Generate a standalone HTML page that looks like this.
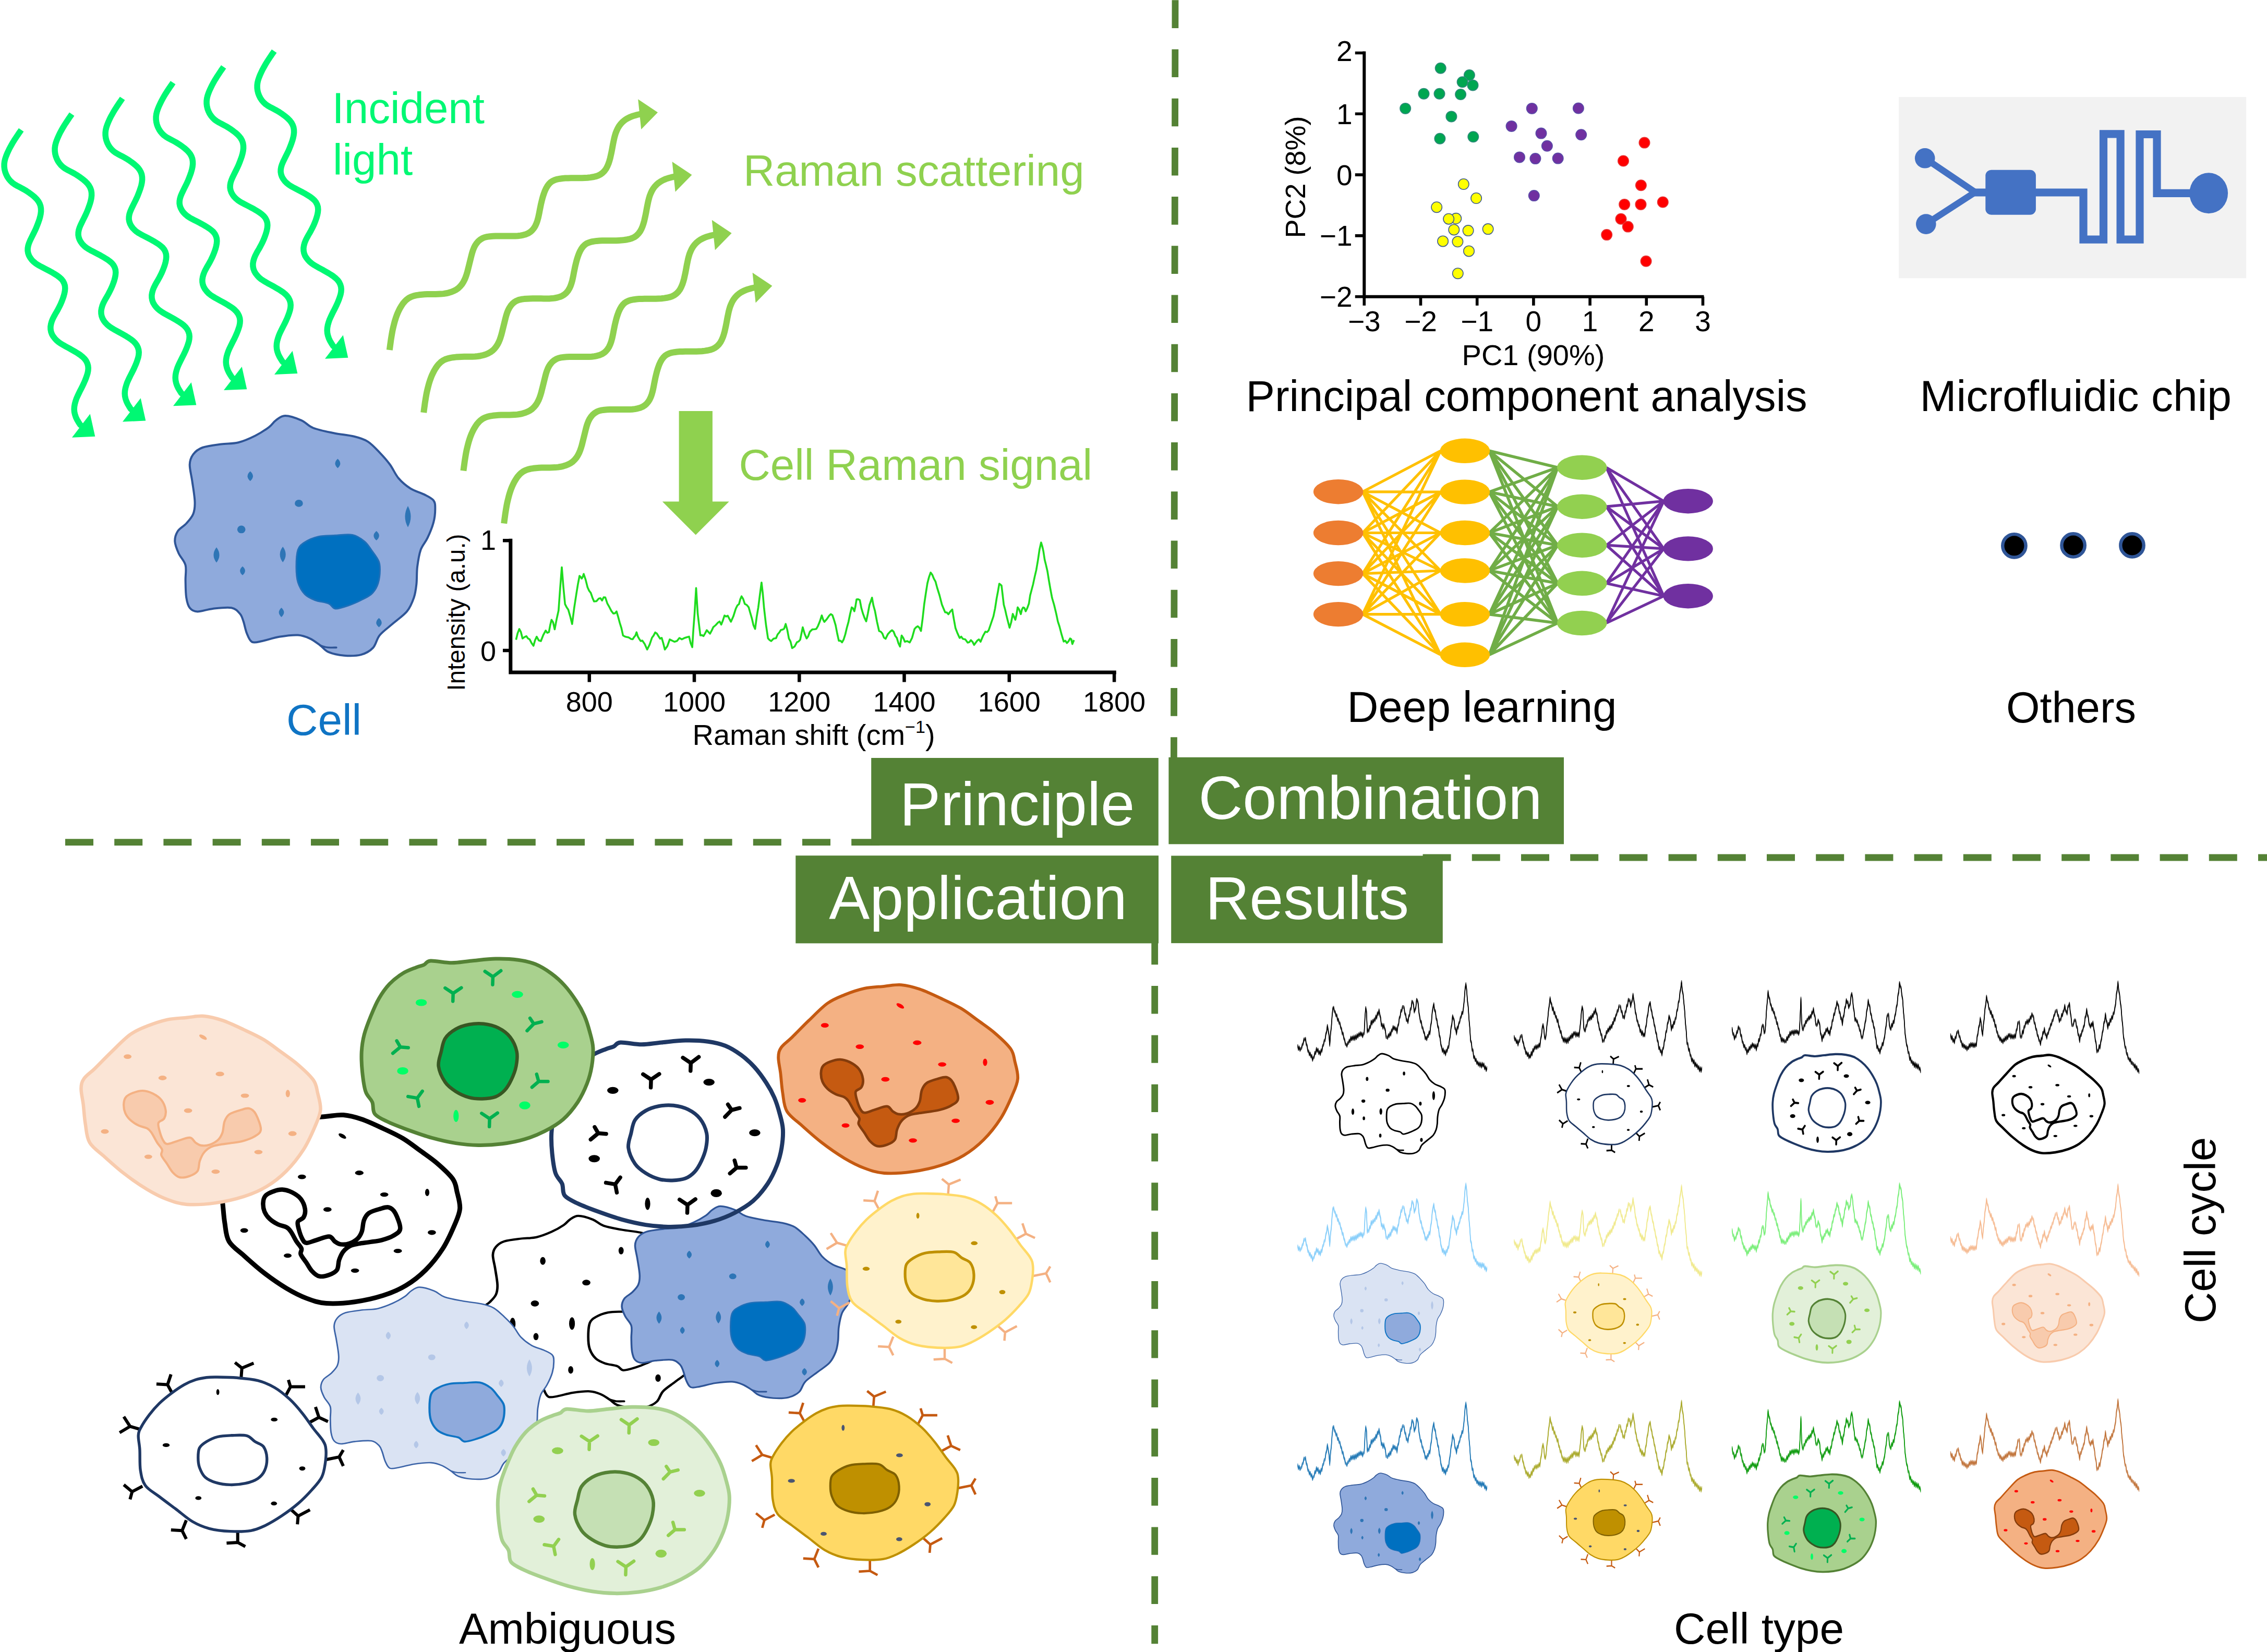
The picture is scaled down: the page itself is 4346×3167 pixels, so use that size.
<!DOCTYPE html><html><head><meta charset="utf-8"><title>Raman cell figure</title>
<style>html,body{margin:0;padding:0;background:#fff}svg{display:block}text{font-family:"Liberation Sans", Arial, sans-serif}</style></head><body>
<svg width="4346" height="3167" viewBox="0 0 4346 3167">
<rect width="4346" height="3167" fill="#fff"/>
<g id="principle"><path d="M40.7 249L38.4 252.4L35.7 256.2L32.9 260.4L29.9 264.9L26.8 269.7L23.8 274.6L21 279.6L18.3 284.5L15.9 289.5L13.6 294.5L11.6 299.5L9.9 304.5L8.7 309.5L8.1 314.5L8.1 319.5L8.7 324.5L9.9 329.5L11.7 334.3L14 338.9L16.8 343.1L20 346.9L23.6 350.3L27.6 353.2L32 355.8L36.6 358.2L41.2 360.6L45.8 363.1L50.3 365.8L54.7 368.7L59 371.8L63.2 375L67.1 378.4L70.6 382L73.6 385.9L76 390.2L77.7 394.9L78.5 399.9L78.6 405.1L78 410.4L76.9 415.6L75.4 420.9L73.6 426.1L71.6 431.4L69.5 436.7L67.2 441.8L64.7 446.9L62.2 451.9L59.8 456.8L57.5 461.6L55.5 466.4L54 471.2L53.2 476L53.1 480.6L53.9 485.2L55.5 489.7L57.8 493.9L60.7 497.9L64.2 501.5L68 504.7L72.2 507.5L76.6 510L81.2 512.4L85.9 514.8L90.7 517.3L95.6 519.9L100.4 522.6L105.2 525.5L109.8 528.4L114 531.6L117.8 535L120.8 538.8L123 543.1L124.4 547.7L124.8 552.6L124.4 557.6L123.4 562.8L122 568L120.2 573.2L118.2 578.4L116 583.5L113.6 588.4L111.1 593.2L108.5 597.9L105.8 602.4L103.3 607L101 611.6L99.1 616.4L97.7 621.4L96.9 626.4L97 631.4L97.9 636.2L99.6 640.8L102.1 645.1L105.2 649.1L108.7 652.8L112.6 656L116.9 658.9L121.4 661.6L126 664.2L130.8 666.8L135.6 669.4L140.5 672.2L145.3 675L149.9 677.9L154.4 680.9L158.5 684.2L162.1 687.8L165.1 691.8L167.3 696.2L168.7 700.8L169.2 705.6L168.9 710.4L168 715.2L166.5 720.1L164.8 725L162.8 730L160.6 735L158.3 739.9L155.8 744.8L153.3 749.7L150.9 754.6L148.6 759.4L146.5 764.3L144.8 769.4L143.4 774.4L142.5 779.5L142.2 784.6L142.6 789.7L143.7 794.7L145.4 799.7L147.7 804.6L150.5 809.3L153.5 814L158.5 818.5L158.5 818.5" fill="none" stroke="#00F873" stroke-width="11.5" stroke-linejoin="round"/><path d="M138 838.7L182.3 836.8L172.7 793.5Z" fill="#00F873"/><path d="M137.7 218.8L135.4 222.2L132.7 226L129.9 230.2L126.9 234.7L123.8 239.5L120.8 244.4L118 249.4L115.3 254.3L112.9 259.3L110.6 264.3L108.6 269.3L106.9 274.3L105.7 279.3L105.1 284.3L105.1 289.3L105.7 294.3L106.9 299.3L108.7 304.1L111 308.7L113.8 312.9L117 316.7L120.6 320.1L124.6 323L129 325.6L133.6 328L138.2 330.4L142.8 332.9L147.3 335.6L151.7 338.5L156 341.6L160.2 344.8L164.1 348.2L167.6 351.8L170.6 355.7L173 360L174.7 364.7L175.5 369.7L175.6 374.9L175 380.2L173.9 385.4L172.4 390.7L170.6 395.9L168.6 401.2L166.5 406.5L164.2 411.6L161.7 416.7L159.2 421.7L156.8 426.6L154.5 431.4L152.5 436.2L151 441L150.2 445.8L150.1 450.4L150.9 455L152.5 459.5L154.8 463.7L157.7 467.7L161.2 471.3L165 474.5L169.2 477.3L173.6 479.8L178.2 482.2L182.9 484.6L187.7 487.1L192.6 489.7L197.4 492.4L202.2 495.3L206.8 498.2L211 501.4L214.8 504.8L217.8 508.6L220 512.9L221.4 517.5L221.8 522.4L221.4 527.4L220.4 532.6L219 537.8L217.2 543L215.2 548.2L213 553.3L210.6 558.2L208.1 563L205.5 567.7L202.8 572.2L200.3 576.8L198 581.4L196.1 586.2L194.7 591.2L193.9 596.2L194 601.2L194.9 606L196.6 610.6L199.1 614.9L202.2 618.9L205.7 622.6L209.6 625.8L213.9 628.7L218.4 631.4L223 634L227.8 636.6L232.6 639.2L237.5 642L242.3 644.8L246.9 647.7L251.4 650.7L255.5 654L259.1 657.6L262.1 661.6L264.3 666L265.7 670.6L266.2 675.4L265.9 680.2L265 685L263.5 689.9L261.8 694.8L259.8 699.8L257.6 704.8L255.3 709.7L252.8 714.6L250.3 719.5L247.9 724.4L245.6 729.2L243.5 734.1L241.8 739.2L240.4 744.2L239.5 749.3L239.2 754.4L239.6 759.5L240.7 764.5L242.4 769.5L244.7 774.4L247.5 779.1L250.5 783.8L255.5 788.3L255.5 788.3" fill="none" stroke="#00F873" stroke-width="11.5" stroke-linejoin="round"/><path d="M235 808.5L279.3 806.6L269.7 763.3Z" fill="#00F873"/><path d="M234.7 188.6L232.4 192L229.7 195.8L226.9 200L223.9 204.5L220.8 209.3L217.8 214.2L215 219.2L212.3 224.1L209.9 229.1L207.6 234.1L205.6 239.1L203.9 244.1L202.7 249.1L202.1 254.1L202.1 259.1L202.7 264.1L203.9 269.1L205.7 273.9L208 278.5L210.8 282.7L214 286.5L217.6 289.9L221.6 292.8L226 295.4L230.6 297.8L235.2 300.2L239.8 302.7L244.3 305.4L248.7 308.3L253 311.4L257.2 314.6L261.1 318L264.6 321.6L267.6 325.5L270 329.8L271.7 334.5L272.5 339.5L272.6 344.7L272 350L270.9 355.2L269.4 360.5L267.6 365.7L265.6 371L263.5 376.3L261.2 381.4L258.7 386.5L256.2 391.5L253.8 396.4L251.5 401.2L249.5 406L248 410.8L247.2 415.6L247.1 420.2L247.9 424.8L249.5 429.3L251.8 433.5L254.7 437.5L258.2 441.1L262 444.3L266.2 447.1L270.6 449.6L275.2 452L279.9 454.4L284.7 456.9L289.6 459.5L294.4 462.2L299.2 465.1L303.8 468L308 471.2L311.8 474.6L314.8 478.4L317 482.7L318.4 487.3L318.8 492.2L318.4 497.2L317.4 502.4L316 507.6L314.2 512.8L312.2 518L310 523.1L307.6 528L305.1 532.8L302.5 537.5L299.8 542L297.3 546.6L295 551.2L293.1 556L291.7 561L290.9 566L291 571L291.9 575.8L293.6 580.4L296.1 584.7L299.2 588.7L302.7 592.4L306.6 595.6L310.9 598.5L315.4 601.2L320 603.8L324.8 606.4L329.6 609L334.5 611.8L339.3 614.6L343.9 617.5L348.4 620.5L352.5 623.8L356.1 627.4L359.1 631.4L361.3 635.8L362.7 640.4L363.2 645.2L362.9 650L362 654.8L360.5 659.7L358.8 664.6L356.8 669.6L354.6 674.6L352.3 679.5L349.8 684.4L347.3 689.3L344.9 694.2L342.6 699L340.5 703.9L338.8 709L337.4 714L336.5 719.1L336.2 724.2L336.6 729.3L337.7 734.3L339.4 739.3L341.7 744.2L344.5 748.9L347.5 753.6L352.5 758.1L352.5 758.1" fill="none" stroke="#00F873" stroke-width="11.5" stroke-linejoin="round"/><path d="M332 778.3L376.3 776.4L366.7 733.1Z" fill="#00F873"/><path d="M331.7 158.4L329.4 161.8L326.7 165.6L323.9 169.8L320.9 174.3L317.8 179.1L314.8 184L312 189L309.3 193.9L306.9 198.9L304.6 203.9L302.6 208.9L300.9 213.9L299.7 218.9L299.1 223.9L299.1 228.9L299.7 233.9L300.9 238.9L302.7 243.7L305 248.3L307.8 252.5L311 256.3L314.6 259.7L318.6 262.6L323 265.2L327.6 267.6L332.2 270L336.8 272.5L341.3 275.2L345.7 278.1L350 281.2L354.2 284.4L358.1 287.8L361.6 291.4L364.6 295.3L367 299.6L368.7 304.3L369.5 309.3L369.6 314.5L369 319.8L367.9 325L366.4 330.3L364.6 335.5L362.6 340.8L360.5 346.1L358.2 351.2L355.7 356.3L353.2 361.3L350.8 366.2L348.5 371L346.5 375.8L345 380.6L344.2 385.4L344.1 390L344.9 394.6L346.5 399.1L348.8 403.3L351.7 407.3L355.2 410.9L359 414.1L363.2 416.9L367.6 419.4L372.2 421.8L376.9 424.2L381.7 426.7L386.6 429.3L391.4 432L396.2 434.9L400.8 437.8L405 441L408.8 444.4L411.8 448.2L414 452.5L415.4 457.1L415.8 462L415.4 467L414.4 472.2L413 477.4L411.2 482.6L409.2 487.8L407 492.9L404.6 497.8L402.1 502.6L399.5 507.3L396.8 511.8L394.3 516.4L392 521L390.1 525.8L388.7 530.8L387.9 535.8L388 540.8L388.9 545.6L390.6 550.2L393.1 554.5L396.2 558.5L399.7 562.2L403.6 565.4L407.9 568.3L412.4 571L417 573.6L421.8 576.2L426.6 578.8L431.5 581.6L436.3 584.4L440.9 587.3L445.4 590.3L449.5 593.6L453.1 597.2L456.1 601.2L458.3 605.6L459.7 610.2L460.2 615L459.9 619.8L459 624.6L457.5 629.5L455.8 634.4L453.8 639.4L451.6 644.4L449.3 649.3L446.8 654.2L444.3 659.1L441.9 664L439.6 668.8L437.5 673.7L435.8 678.8L434.4 683.8L433.5 688.9L433.2 694L433.6 699.1L434.7 704.1L436.4 709.1L438.7 714L441.5 718.7L444.5 723.4L449.5 727.9L449.5 727.9" fill="none" stroke="#00F873" stroke-width="11.5" stroke-linejoin="round"/><path d="M429 748.1L473.3 746.2L463.7 702.9Z" fill="#00F873"/><path d="M428.7 128.2L426.4 131.6L423.7 135.4L420.9 139.6L417.9 144.1L414.8 148.9L411.8 153.8L409 158.8L406.3 163.7L403.9 168.7L401.6 173.7L399.6 178.7L397.9 183.7L396.7 188.7L396.1 193.7L396.1 198.7L396.7 203.7L397.9 208.7L399.7 213.5L402 218.1L404.8 222.3L408 226.1L411.6 229.5L415.6 232.4L420 235L424.6 237.4L429.2 239.8L433.8 242.3L438.3 245L442.7 247.9L447 251L451.2 254.2L455.1 257.6L458.6 261.2L461.6 265.1L464 269.4L465.7 274.1L466.5 279.1L466.6 284.3L466 289.6L464.9 294.8L463.4 300.1L461.6 305.3L459.6 310.6L457.5 315.9L455.2 321L452.7 326.1L450.2 331.1L447.8 336L445.5 340.8L443.5 345.6L442 350.4L441.2 355.2L441.1 359.8L441.9 364.4L443.5 368.9L445.8 373.1L448.7 377.1L452.2 380.7L456 383.9L460.2 386.7L464.6 389.2L469.2 391.6L473.9 394L478.7 396.5L483.6 399.1L488.4 401.8L493.2 404.7L497.8 407.6L502 410.8L505.8 414.2L508.8 418L511 422.3L512.4 426.9L512.8 431.8L512.4 436.8L511.4 442L510 447.2L508.2 452.4L506.2 457.6L504 462.7L501.6 467.6L499.1 472.4L496.5 477.1L493.8 481.6L491.3 486.2L489 490.8L487.1 495.6L485.7 500.6L484.9 505.6L485 510.6L485.9 515.4L487.6 520L490.1 524.3L493.2 528.3L496.7 532L500.6 535.2L504.9 538.1L509.4 540.8L514 543.4L518.8 546L523.6 548.6L528.5 551.4L533.3 554.2L537.9 557.1L542.4 560.1L546.5 563.4L550.1 567L553.1 571L555.3 575.4L556.7 580L557.2 584.8L556.9 589.6L556 594.4L554.5 599.3L552.8 604.2L550.8 609.2L548.6 614.2L546.3 619.1L543.8 624L541.3 628.9L538.9 633.8L536.6 638.6L534.5 643.5L532.8 648.6L531.4 653.6L530.5 658.7L530.2 663.8L530.6 668.9L531.7 673.9L533.4 678.9L535.7 683.8L538.5 688.5L541.5 693.2L546.5 697.7L546.5 697.7" fill="none" stroke="#00F873" stroke-width="11.5" stroke-linejoin="round"/><path d="M526 717.9L570.3 716L560.7 672.7Z" fill="#00F873"/><path d="M525.7 98L523.4 101.4L520.7 105.2L517.9 109.4L514.9 113.9L511.8 118.7L508.8 123.6L506 128.6L503.3 133.5L500.9 138.5L498.6 143.5L496.6 148.5L494.9 153.5L493.7 158.5L493.1 163.5L493.1 168.5L493.7 173.5L494.9 178.5L496.7 183.3L499 187.9L501.8 192.1L505 195.9L508.6 199.3L512.6 202.2L517 204.8L521.6 207.2L526.2 209.6L530.8 212.1L535.3 214.8L539.7 217.7L544 220.8L548.2 224L552.1 227.4L555.6 231L558.6 234.9L561 239.2L562.7 243.9L563.5 248.9L563.6 254.1L563 259.4L561.9 264.6L560.4 269.9L558.6 275.1L556.6 280.4L554.5 285.7L552.2 290.8L549.7 295.9L547.2 300.9L544.8 305.8L542.5 310.6L540.5 315.4L539 320.2L538.2 325L538.1 329.6L538.9 334.2L540.5 338.7L542.8 342.9L545.7 346.9L549.2 350.5L553 353.7L557.2 356.5L561.6 359L566.2 361.4L570.9 363.8L575.7 366.3L580.6 368.9L585.4 371.6L590.2 374.5L594.8 377.4L599 380.6L602.8 384L605.8 387.8L608 392.1L609.4 396.7L609.8 401.6L609.4 406.6L608.4 411.8L607 417L605.2 422.2L603.2 427.4L601 432.5L598.6 437.4L596.1 442.2L593.5 446.9L590.8 451.4L588.3 456L586 460.6L584.1 465.4L582.7 470.4L581.9 475.4L582 480.4L582.9 485.2L584.6 489.8L587.1 494.1L590.2 498.1L593.7 501.8L597.6 505L601.9 507.9L606.4 510.6L611 513.2L615.8 515.8L620.6 518.4L625.5 521.2L630.3 524L634.9 526.9L639.4 529.9L643.5 533.2L647.1 536.8L650.1 540.8L652.3 545.2L653.7 549.8L654.2 554.6L653.9 559.4L653 564.2L651.5 569.1L649.8 574L647.8 579L645.6 584L643.3 588.9L640.8 593.8L638.3 598.7L635.9 603.6L633.6 608.4L631.5 613.3L629.8 618.4L628.4 623.4L627.5 628.5L627.2 633.6L627.6 638.7L628.7 643.7L630.4 648.7L632.7 653.6L635.5 658.3L638.5 663L643.5 667.5L643.5 667.5" fill="none" stroke="#00F873" stroke-width="11.5" stroke-linejoin="round"/><path d="M623 687.7L667.3 685.8L657.7 642.5Z" fill="#00F873"/><path d="M746.8 671.1L747.3 667.2L747.9 662.6L748.6 657.7L749.3 652.4L750.2 646.8L751.1 641.2L752.1 635.6L753.2 630.2L754.5 624.9L755.8 619.7L757.2 614.6L758.8 609.6L760.5 604.8L762.4 600L764.6 595.3L767 590.6L769.7 586.1L772.7 581.7L776 577.8L779.6 574.3L783.6 571.4L788 569.1L792.8 567.4L797.9 566.2L803.2 565.3L808.6 564.7L813.9 564.3L819.2 564L824.5 563.9L829.7 563.9L834.9 563.9L840.1 563.8L845.2 563.6L850.4 563.1L855.5 562.3L860.7 561.1L865.7 559.6L870.4 557.6L874.8 555.2L878.8 552.3L882.4 548.8L885.6 544.9L888.4 540.6L890.7 536.1L892.7 531.3L894.4 526.4L895.9 521.4L897.2 516.3L898.5 511.1L899.8 505.9L901.1 500.6L902.4 495.4L903.7 490.1L905.1 484.9L906.7 479.9L908.6 475.1L910.9 470.6L913.7 466.3L916.9 462.5L920.7 459.3L924.8 456.8L929.3 455L934.1 453.9L939.3 453.2L944.6 452.8L950 452.5L955.5 452.4L960.9 452.4L966.3 452.4L971.7 452.4L977 452.5L982.3 452.6L987.6 452.5L992.7 452.2L997.9 451.6L1003 450.6L1007.9 449.2L1012.4 447.3L1016.6 444.7L1020.2 441.5L1023.4 437.7L1026.1 433.3L1028.3 428.5L1030.1 423.4L1031.6 418.2L1032.8 412.9L1033.9 407.5L1034.9 402.1L1036 396.7L1037.1 391.3L1038.4 385.9L1039.7 380.7L1041.2 375.5L1042.9 370.5L1044.7 365.7L1046.9 361L1049.4 356.7L1052.3 352.8L1055.6 349.5L1059.4 346.9L1063.7 345L1068.4 343.6L1073.4 342.7L1078.6 342L1083.8 341.6L1089.1 341.4L1094.3 341.3L1099.6 341.3L1105 341.3L1110.3 341.3L1115.6 341.3L1121 341L1126.3 340.7L1131.7 340.1L1136.9 339.3L1142 338.2L1146.7 336.6L1151.1 334.4L1155.2 331.4L1158.8 327.7L1161.9 323.5L1164.4 318.8L1166.5 313.8L1168.2 308.7L1169.7 303.4L1170.9 298L1172.1 292.6L1173.2 287.1L1174.2 281.6L1175.2 276.2L1176.3 270.9L1177.4 265.6L1178.7 260.5L1180.2 255.5L1182.1 250.7L1184.3 246L1186.9 241.6L1189.9 237.6L1193.4 233.9L1197.4 230.5L1201.8 227.6L1206.6 225.1L1211.6 223L1216.7 221.4L1221.6 220L1226.2 219L1230.2 218.6" fill="none" stroke="#8FD14F" stroke-width="12" stroke-linejoin="round"/><path d="M1229.2 247.9L1261 215.4L1223.2 190.2Z" fill="#8FD14F"/><path d="M812.2 791L812.7 787.1L813.3 782.5L814 777.6L814.7 772.3L815.6 766.7L816.5 761.1L817.5 755.5L818.6 750.1L819.9 744.8L821.2 739.6L822.6 734.5L824.2 729.5L825.9 724.7L827.8 719.9L830 715.2L832.4 710.5L835.1 706L838.1 701.6L841.4 697.7L845 694.2L849 691.3L853.4 689L858.2 687.3L863.3 686.1L868.6 685.2L874 684.6L879.3 684.2L884.6 683.9L889.9 683.8L895.1 683.8L900.3 683.8L905.5 683.7L910.6 683.5L915.8 683L920.9 682.2L926.1 681L931.1 679.5L935.8 677.5L940.2 675.1L944.2 672.2L947.8 668.7L951 664.8L953.8 660.5L956.1 656L958.1 651.2L959.8 646.3L961.3 641.3L962.6 636.2L963.9 631L965.2 625.8L966.5 620.5L967.8 615.3L969.1 610L970.5 604.8L972.1 599.8L974 595L976.3 590.5L979.1 586.2L982.3 582.4L986.1 579.2L990.2 576.7L994.7 574.9L999.5 573.8L1004.7 573.1L1010 572.7L1015.4 572.4L1020.9 572.3L1026.3 572.3L1031.7 572.3L1037.1 572.3L1042.4 572.4L1047.7 572.5L1053 572.4L1058.1 572.1L1063.3 571.5L1068.4 570.5L1073.3 569.1L1077.8 567.2L1082 564.6L1085.6 561.4L1088.8 557.6L1091.5 553.2L1093.7 548.4L1095.5 543.3L1097 538.1L1098.2 532.8L1099.3 527.4L1100.3 522L1101.4 516.6L1102.5 511.2L1103.8 505.8L1105.1 500.6L1106.6 495.4L1108.3 490.4L1110.1 485.6L1112.3 480.9L1114.8 476.6L1117.7 472.7L1121 469.4L1124.8 466.8L1129.1 464.9L1133.8 463.5L1138.8 462.6L1144 461.9L1149.2 461.5L1154.5 461.3L1159.7 461.2L1165 461.2L1170.4 461.2L1175.7 461.2L1181 461.2L1186.4 460.9L1191.7 460.6L1197.1 460L1202.3 459.2L1207.4 458.1L1212.1 456.5L1216.5 454.3L1220.6 451.3L1224.2 447.6L1227.3 443.4L1229.8 438.7L1231.9 433.7L1233.6 428.6L1235.1 423.3L1236.3 417.9L1237.5 412.5L1238.6 407L1239.6 401.5L1240.6 396.1L1241.7 390.8L1242.8 385.5L1244.1 380.4L1245.6 375.4L1247.5 370.6L1249.7 365.9L1252.3 361.5L1255.3 357.5L1258.8 353.8L1262.8 350.4L1267.2 347.5L1272 345L1277 342.9L1282.1 341.3L1287 339.9L1291.6 338.9L1295.6 338.5" fill="none" stroke="#8FD14F" stroke-width="12" stroke-linejoin="round"/><path d="M1294.6 367.8L1326.4 335.3L1288.6 310.1Z" fill="#8FD14F"/><path d="M888.4 902.6L888.9 898.7L889.5 894.1L890.2 889.2L890.9 883.9L891.8 878.3L892.7 872.7L893.7 867.1L894.8 861.7L896.1 856.4L897.4 851.2L898.8 846.1L900.4 841.1L902.1 836.3L904 831.5L906.2 826.8L908.6 822.1L911.3 817.6L914.3 813.2L917.6 809.3L921.2 805.8L925.2 802.9L929.6 800.6L934.4 798.9L939.5 797.7L944.8 796.8L950.2 796.2L955.5 795.8L960.8 795.5L966.1 795.4L971.3 795.4L976.5 795.4L981.7 795.3L986.8 795.1L992 794.6L997.1 793.8L1002.3 792.6L1007.3 791.1L1012 789.1L1016.4 786.7L1020.4 783.8L1024 780.3L1027.2 776.4L1030 772.1L1032.3 767.6L1034.3 762.8L1036 757.9L1037.5 752.9L1038.8 747.8L1040.1 742.6L1041.4 737.4L1042.7 732.1L1044 726.9L1045.3 721.6L1046.7 716.4L1048.3 711.4L1050.2 706.6L1052.5 702.1L1055.3 697.8L1058.5 694L1062.3 690.8L1066.4 688.3L1070.9 686.5L1075.7 685.4L1080.9 684.7L1086.2 684.3L1091.6 684L1097.1 683.9L1102.5 683.9L1107.9 683.9L1113.3 683.9L1118.6 684L1123.9 684.1L1129.2 684L1134.3 683.7L1139.5 683.1L1144.6 682.1L1149.5 680.7L1154 678.8L1158.2 676.2L1161.8 673L1165 669.2L1167.7 664.8L1169.9 660L1171.7 654.9L1173.2 649.7L1174.4 644.4L1175.5 639L1176.5 633.6L1177.6 628.2L1178.7 622.8L1180 617.4L1181.3 612.2L1182.8 607L1184.5 602L1186.3 597.2L1188.5 592.5L1191 588.2L1193.9 584.3L1197.2 581L1201 578.4L1205.3 576.5L1210 575.1L1215 574.2L1220.2 573.5L1225.4 573.1L1230.7 572.9L1235.9 572.8L1241.2 572.8L1246.6 572.8L1251.9 572.8L1257.2 572.8L1262.6 572.5L1267.9 572.2L1273.3 571.6L1278.5 570.8L1283.6 569.7L1288.3 568.1L1292.7 565.9L1296.8 562.9L1300.4 559.2L1303.5 555L1306 550.3L1308.1 545.3L1309.8 540.2L1311.3 534.9L1312.5 529.5L1313.7 524.1L1314.8 518.6L1315.8 513.1L1316.8 507.7L1317.9 502.4L1319 497.1L1320.3 492L1321.8 487L1323.7 482.2L1325.9 477.5L1328.5 473.1L1331.5 469.1L1335 465.4L1339 462L1343.4 459.1L1348.2 456.6L1353.2 454.5L1358.3 452.9L1363.2 451.5L1367.8 450.5L1371.8 450.1" fill="none" stroke="#8FD14F" stroke-width="12" stroke-linejoin="round"/><path d="M1370.8 479.4L1402.6 446.9L1364.8 421.7Z" fill="#8FD14F"/><path d="M966.2 1003.6L966.7 999.7L967.3 995.1L968 990.2L968.7 984.9L969.6 979.3L970.5 973.7L971.5 968.1L972.6 962.7L973.9 957.4L975.2 952.2L976.6 947.1L978.2 942.1L979.9 937.3L981.8 932.5L984 927.8L986.4 923.1L989.1 918.6L992.1 914.2L995.4 910.3L999 906.8L1003 903.9L1007.4 901.6L1012.2 899.9L1017.3 898.7L1022.6 897.8L1028 897.2L1033.3 896.8L1038.6 896.5L1043.9 896.4L1049.1 896.4L1054.3 896.4L1059.5 896.3L1064.6 896.1L1069.8 895.6L1074.9 894.8L1080.1 893.6L1085.1 892.1L1089.8 890.1L1094.2 887.7L1098.2 884.8L1101.8 881.3L1105 877.4L1107.8 873.1L1110.1 868.6L1112.1 863.8L1113.8 858.9L1115.3 853.9L1116.6 848.8L1117.9 843.6L1119.2 838.4L1120.5 833.1L1121.8 827.9L1123.1 822.6L1124.5 817.4L1126.1 812.4L1128 807.6L1130.3 803.1L1133.1 798.8L1136.3 795L1140.1 791.8L1144.2 789.3L1148.7 787.5L1153.5 786.4L1158.7 785.7L1164 785.3L1169.4 785L1174.9 784.9L1180.3 784.9L1185.7 784.9L1191.1 784.9L1196.4 785L1201.7 785.1L1207 785L1212.1 784.7L1217.3 784.1L1222.4 783.1L1227.3 781.7L1231.8 779.8L1236 777.2L1239.6 774L1242.8 770.2L1245.5 765.8L1247.7 761L1249.5 755.9L1251 750.7L1252.2 745.4L1253.3 740L1254.3 734.6L1255.4 729.2L1256.5 723.8L1257.8 718.4L1259.1 713.2L1260.6 708L1262.3 703L1264.1 698.2L1266.3 693.5L1268.8 689.2L1271.7 685.3L1275 682L1278.8 679.4L1283.1 677.5L1287.8 676.1L1292.8 675.2L1298 674.5L1303.2 674.1L1308.5 673.9L1313.7 673.8L1319 673.8L1324.4 673.8L1329.7 673.8L1335 673.8L1340.4 673.5L1345.7 673.2L1351.1 672.6L1356.3 671.8L1361.4 670.7L1366.1 669.1L1370.5 666.9L1374.6 663.9L1378.2 660.2L1381.3 656L1383.8 651.3L1385.9 646.3L1387.6 641.2L1389.1 635.9L1390.3 630.5L1391.5 625.1L1392.6 619.6L1393.6 614.1L1394.6 608.7L1395.7 603.4L1396.8 598.1L1398.1 593L1399.6 588L1401.5 583.2L1403.7 578.5L1406.3 574.1L1409.3 570.1L1412.8 566.4L1416.8 563L1421.2 560.1L1426 557.6L1431 555.5L1436.1 553.9L1441 552.5L1445.6 551.5L1449.6 551.1" fill="none" stroke="#8FD14F" stroke-width="12" stroke-linejoin="round"/><path d="M1448.6 580.4L1480.4 547.9L1442.6 522.7Z" fill="#8FD14F"/><text x="636.5" y="236" font-size="83.5" fill="#00F873" text-anchor="start">Incident</text><text x="638" y="335" font-size="83.5" fill="#00F873" text-anchor="start">light</text><text x="1425" y="355.5" font-size="83.4" fill="#8FD14F" text-anchor="start">Raman scattering</text><text x="1416.5" y="920" font-size="83.5" fill="#8FD14F" text-anchor="start">Cell Raman signal</text><text x="549" y="1409.3" font-size="83.7" fill="#0F74C4" text-anchor="start">Cell</text><path d="M1301.6 788H1365.9V961.5H1397.7L1333.7 1025.5L1269.8 961.5H1301.6Z" fill="#8FD14F"/><path d="M546.7 796.9C554.9 796.9 568.8 801.8 577.8 805.8C586.8 809.7 590.3 816.4 600.7 820.5C611 824.5 626.8 827.5 639.9 830.3C652.9 833 668.2 834.1 679.1 836.8C690 839.5 697.1 841.4 705.2 846.6C713.4 851.8 721 860.5 728.1 867.8C735.2 875.2 741.7 882.5 747.7 890.7C753.7 898.9 757.5 909.2 764.1 916.9C770.6 924.5 778.8 931.3 786.9 936.5C795.1 941.6 805.7 944.1 813.1 947.9C820.4 951.7 827.5 954.7 831 959.3C834.6 964 834.3 968.6 834.3 975.7C834.3 982.8 833.5 992.6 831 1001.8C828.6 1011.1 823.7 1022.5 819.6 1031.2C815.5 1040 809.8 1044.9 806.5 1054.1C803.3 1063.4 801.4 1075.9 800 1086.8C798.6 1097.7 799.5 1109.7 798.4 1119.5C797.3 1129.3 796.5 1136.9 793.5 1145.6C790.5 1154.3 786.9 1163.6 780.4 1171.8C773.9 1179.9 763 1187 754.2 1194.6C745.5 1202.3 734.6 1209.6 728.1 1217.5C721.6 1225.4 721 1235.8 715 1242C709 1248.3 701.4 1252.6 692.2 1255.1C682.9 1257.5 669.8 1257.5 659.5 1256.7C649.1 1255.9 637.7 1253.5 630.1 1250.2C622.4 1246.9 619.7 1241.5 613.7 1237.1C607.7 1232.8 601.2 1227.3 594.1 1224.1C587 1220.8 581 1218.1 571.2 1217.5C561.4 1217 546.7 1218.9 535.3 1220.8C523.9 1222.7 511.3 1227.3 502.6 1229C493.9 1230.6 487.9 1233 483 1230.6C478.1 1228.1 475.9 1220.8 473.2 1214.2C470.5 1207.7 468.8 1197.6 466.7 1191.4C464.5 1185.1 463.9 1181 460.1 1176.7C456.3 1172.3 452.5 1166.9 443.8 1165.2C435.1 1163.6 418.7 1165.7 407.8 1166.9C396.9 1168.1 385.8 1172.7 378.4 1172.4C371.1 1172.1 367.3 1169.7 363.7 1165.2C360.2 1160.8 358.6 1154.3 357.2 1145.6C355.8 1136.9 355.8 1123.3 355.6 1112.9C355.3 1102.6 357.7 1092.2 355.6 1083.5C353.4 1074.8 345.9 1068.3 342.5 1060.7C339.1 1053 335.6 1044.9 335.3 1037.8C335 1030.7 337.2 1023.9 340.8 1018.2C344.5 1012.5 352.3 1008.9 357.2 1003.5C362.1 998 367.5 992.3 370.3 985.5C373 978.7 373.8 973 373.5 962.6C373.3 952.3 370.3 935.4 368.6 923.4C367 911.4 363.5 899.4 363.7 890.7C364 882 366.2 876.6 370.3 871.1C374.3 865.7 379.2 861.3 388.2 858C397.2 854.8 412.7 853.1 424.2 851.5C435.6 849.9 446 851 456.9 848.2C467.8 845.5 479.7 840.1 489.5 835.2C499.3 830.3 509.2 823.7 515.7 818.8C522.2 813.9 523.6 809.4 528.8 805.8C533.9 802.1 538.6 796.9 546.7 796.9Z" fill="#8FAADC" stroke="#2F5597" stroke-width="4" stroke-linejoin="round"/><path d="M613.7 1237.1C615.9 1237.8 621.6 1240.3 626.8 1241C632 1241.8 641.8 1241.3 644.8 1241.4" fill="none" stroke="#2F5597" stroke-width="3.6" stroke-linecap="round"/><path d="M571.2 1054.1C574 1046.2 577.8 1043.7 584.3 1039.4C590.8 1035.2 600.7 1030.8 610.5 1028.6C620.3 1026.4 632.2 1026.9 643.1 1026.3C654 1025.8 666.6 1023.5 675.8 1025.4C685.1 1027.3 692.7 1033 698.7 1037.8C704.7 1042.6 707.1 1047.6 711.8 1054.1C716.4 1060.7 723.7 1069.4 726.5 1077C729.2 1084.6 728.6 1092.2 728.1 1099.9C727.6 1107.5 725.9 1116.2 723.2 1122.7C720.5 1129.3 716.9 1134.5 711.8 1139.1C706.6 1143.7 699.2 1147 692.2 1150.5C685.1 1154.1 677.5 1157.6 669.3 1160.3C661.1 1163.1 649.7 1167.4 643.1 1166.9C636.6 1166.3 636.6 1159.8 630.1 1157.1C623.5 1154.3 611.5 1153.5 603.9 1150.5C596.3 1147.5 589.8 1144.8 584.3 1139.1C578.9 1133.4 574 1124.9 571.2 1116.2C568.5 1107.5 568 1097.1 568 1086.8C568 1076.4 568.5 1062 571.2 1054.1Z" fill="#0070C0" stroke="#1F6FB8" stroke-width="3"/><path d="M479.7 903.6Q490.2 912.9 479.7 922.3Q469.3 912.9 479.7 903.6Z" fill="#2E75B6"/><path d="M647.4 879.4Q657.2 888.4 647.4 897.4Q637.6 888.4 647.4 879.4Z" fill="#2E75B6"/><ellipse cx="572.9" cy="964.9" rx="7.8" ry="6.9" fill="#2E75B6"/><ellipse cx="462.7" cy="1014.9" rx="7.8" ry="7.4" fill="#2E75B6"/><path d="M782 970Q793.1 990.4 782 1010.8Q770.9 990.4 782 970Z" fill="#2E75B6"/><path d="M721.6 1018Q732 1027 721.6 1036Q711.1 1027 721.6 1018Z" fill="#2E75B6"/><path d="M415 1049.2Q426.1 1063.9 415 1078.6Q403.9 1063.9 415 1049.2Z" fill="#2E75B6"/><path d="M542.2 1047.9Q553.3 1062.9 542.2 1078Q531 1062.9 542.2 1047.9Z" fill="#2E75B6"/><path d="M465 1085.8Q474.8 1094.3 465 1102.8Q455.2 1094.3 465 1085.8Z" fill="#2E75B6"/><path d="M539.5 1165.1Q549.3 1174.1 539.5 1183Q529.7 1174.1 539.5 1165.1Z" fill="#2E75B6"/><path d="M726.5 1184.7Q736.9 1193.7 726.5 1202.6Q716 1193.7 726.5 1184.7Z" fill="#2E75B6"/><path d="M989.3 1226.5L992.4 1213.8L995.5 1205.9L998.6 1211.7L1001.7 1224L1005.4 1221.4L1009.1 1219.5L1012.2 1224L1015.3 1225.6L1019 1232.7L1022.7 1238.1L1025.8 1227.2L1028.9 1220.6L1032.9 1227.8L1036.9 1229L1041.5 1217.4L1046.1 1208.9L1049.2 1213.2L1052.3 1211.8L1054.8 1198.5L1057.3 1188.3L1060.3 1193L1063.4 1206.5L1067.1 1187L1070.8 1170.4L1073.9 1127.1L1077 1087.5L1080.1 1125.8L1083.2 1158.1L1086.3 1164.3L1089.4 1168.8L1093.1 1181.4L1096.8 1196.3L1100.8 1165.3L1104.8 1139.2L1107.9 1120L1111 1104.1L1113.1 1106.1L1115.3 1109.1L1117.2 1105.7L1119 1100.3L1122.7 1111.4L1126.4 1126L1129.5 1132.7L1132.6 1136.7L1135.7 1145.7L1138.8 1153L1143.4 1152.5L1148 1147.4L1151.1 1146.8L1154.2 1151.3L1157.3 1145L1160.4 1145.3L1164.4 1157.2L1168.4 1164.2L1172.1 1171.4L1175.8 1176.2L1178.9 1175.7L1182 1172.2L1185.1 1182.8L1188.2 1194.2L1191.3 1204.1L1194.4 1218.3L1197.4 1220L1200.5 1221.1L1205.2 1222.1L1209.8 1225L1212.9 1225.5L1216 1220.8L1218.1 1218.3L1220.3 1212.1L1222.8 1220.1L1225.2 1224.4L1228.3 1228.9L1231.4 1228L1236 1234.8L1240.7 1245.2L1245.3 1235.9L1249.9 1222.5L1253 1218.4L1256.1 1212.4L1259.2 1214.5L1262.3 1219.5L1265.4 1224.3L1268.5 1222.8L1271.5 1233L1274.6 1245.2L1279.3 1238.9L1283.9 1225.8L1288.5 1228.2L1293.2 1230.3L1297.8 1228.8L1302.4 1223L1307.1 1225.6L1311.7 1223.3L1316.3 1221.8L1321 1220.4L1324 1232.8L1327.1 1240.7L1329.3 1206.1L1331.5 1176.6L1334.5 1127.4L1337.6 1176.8L1340.1 1197.6L1342.6 1218L1345.7 1217.6L1348.7 1219.4L1351.8 1214.1L1354.9 1208.1L1358 1211.4L1361.1 1214.8L1364.2 1209.2L1367.3 1202.4L1371.9 1198.5L1376.5 1193.6L1379.6 1191.5L1382.7 1197.3L1385.8 1189.5L1388.9 1180L1392 1181.9L1395.1 1180.4L1398.1 1186.2L1401.2 1191.9L1405.9 1181.6L1410.5 1167L1413.6 1160.7L1416.7 1158.2L1419.1 1149L1421.6 1143.2L1424.7 1148.2L1427.8 1157.6L1431.5 1159.7L1435.2 1164.1L1438.3 1175.1L1441.4 1185.5L1444.5 1198.8L1447.6 1205.7L1450.6 1182.9L1453.7 1164.5L1456.8 1140.1L1459.9 1116.7L1462.4 1138.5L1464.8 1166.3L1468.5 1198.1L1472.3 1223.8L1475.3 1226.9L1478.4 1228.9L1483.1 1224.2L1487.7 1223.5L1490.8 1216.1L1493.9 1212.6L1497 1207.7L1500 1207.1L1503.1 1205.5L1506.2 1196.2L1509.3 1207.6L1512.4 1224.1L1515.5 1229.9L1518.6 1242.5L1523.2 1239.6L1527.8 1231.2L1530.9 1229.9L1534 1226.3L1536.5 1214.4L1538.9 1202.6L1542.7 1215.6L1546.4 1224L1549.4 1219.7L1552.5 1211.1L1557.2 1206.6L1561.8 1206.3L1564.9 1205.7L1568 1200.3L1571.7 1191.2L1575.4 1179.8L1577.9 1187.6L1580.3 1192.2L1585 1187L1589.6 1180.3L1592.7 1177.4L1595.8 1179.3L1598.9 1188.4L1601.9 1198.5L1605 1214.5L1608.1 1228.4L1611.2 1228.2L1614.3 1231.4L1617.4 1225.8L1620.5 1216L1623.6 1202.9L1626.6 1192.2L1629.7 1177.2L1632.8 1164.4L1635.3 1166.3L1637.8 1171.8L1639.9 1162.5L1642.1 1149L1645.2 1148.8L1648.3 1150.3L1651.3 1165.8L1654.4 1176.4L1657.5 1184.9L1660.6 1191.2L1663.7 1176.5L1666.8 1159.8L1669.3 1152.8L1671.7 1145.8L1674.5 1161.1L1677.3 1170.9L1681.3 1192.1L1685.3 1209.9L1688.4 1210.9L1691.5 1214.4L1694.6 1222.4L1697.7 1224.6L1702.3 1215.4L1706.9 1210.5L1710 1208.2L1713.1 1210.9L1716.2 1219L1719.3 1222.9L1722.4 1233.3L1725.4 1239.6L1728.5 1218.2L1731.6 1222.9L1734.7 1230.3L1739.3 1229.1L1744 1231.7L1748.6 1222.6L1753.2 1205.9L1756.3 1202.5L1759.4 1200.5L1762.5 1203.4L1765.6 1209.6L1768.7 1186.1L1771.8 1158.2L1774.9 1137.3L1777.9 1118.3L1781 1106.3L1784.1 1097.6L1787.2 1101.8L1790.3 1109.4L1793.4 1114.8L1796.5 1126.4L1801.1 1141.1L1805.7 1159L1808.8 1166.5L1811.9 1173.9L1815 1174L1818.1 1177.6L1821.8 1172.4L1825.5 1168.4L1828.6 1187L1831.7 1204L1835.7 1214.3L1839.7 1223L1842.8 1220.5L1845.9 1224.8L1850.5 1225.7L1855.1 1231.9L1858.2 1231.1L1861.3 1227.2L1864.4 1230.4L1867.5 1236.3L1870.6 1232L1873.7 1227.9L1876.7 1225.8L1879.8 1230.3L1884.5 1219.1L1889.1 1210.9L1892.2 1211.9L1895.3 1208.5L1899.9 1195L1904.5 1181.5L1907.6 1166.6L1910.7 1146.6L1913.2 1133.6L1915.7 1119L1917.8 1120.6L1920 1122.6L1922.1 1140.2L1924.3 1159.2L1926.8 1168.2L1929.2 1178.9L1932.3 1191.4L1935.4 1203.4L1938.5 1193.1L1941.6 1176.9L1944.1 1182.7L1946.5 1188.2L1948.7 1178.5L1950.9 1164.2L1953.9 1168.8L1957 1177.4L1959.2 1168.4L1961.4 1164.5L1963.8 1165.4L1966.3 1171.9L1969.4 1165.7L1972.5 1157.2L1974.9 1141.2L1977.4 1131.9L1980.5 1120.1L1983.6 1105.5L1986.7 1092.3L1989.8 1074L1992.8 1053.7L1995.9 1040L1998.1 1047.2L2000.3 1057.2L2002.7 1073L2005.2 1082.9L2008 1095L2010.8 1112.6L2013.8 1129.9L2016.9 1146.3L2020.9 1160L2025 1177.1L2028 1191.5L2031.1 1200.9L2035.2 1216.6L2039.2 1229.9L2042.3 1228.3L2045.3 1232.7L2048.4 1229.4L2051.5 1224L2053.7 1225.5L2055.8 1234.7L2058.9 1227" fill="none" stroke="#1FDC1F" stroke-width="3.6" stroke-linejoin="round"/><path d="M978.8 1032.7V1289.1M975.3 1289.1H2139.8" fill="none" stroke="#000" stroke-width="7"/><path d="M964 1036.2H979M964 1247H979M1129.8 1289V1307.5M1331 1289V1307.5M1532.3 1289V1307.5M1733.5 1289V1307.5M1934.8 1289V1307.5M2136.1 1289V1307.5" fill="none" stroke="#000" stroke-width="6.5"/><text x="1129.8" y="1363.5" font-size="54" fill="#000" text-anchor="middle">800</text><text x="1331" y="1363.5" font-size="54" fill="#000" text-anchor="middle">1000</text><text x="1532.3" y="1363.5" font-size="54" fill="#000" text-anchor="middle">1200</text><text x="1733.5" y="1363.5" font-size="54" fill="#000" text-anchor="middle">1400</text><text x="1934.8" y="1363.5" font-size="54" fill="#000" text-anchor="middle">1600</text><text x="2136.1" y="1363.5" font-size="54" fill="#000" text-anchor="middle">1800</text><text x="951" y="1053.5" font-size="54" fill="#000" text-anchor="end">1</text><text x="951" y="1267" font-size="54" fill="#000" text-anchor="end">0</text><text font-size="56" text-anchor="middle" x="1560" y="1428">Raman shift (cm<tspan font-size="34" dy="-23">−1</tspan><tspan dy="23">)</tspan></text><text font-size="47.5" text-anchor="middle" transform="translate(890.5 1174) rotate(-90)">Intensity (a.u.)</text></g>
<g id="combination"><circle cx="2761.7" cy="130.7" r="10.2" fill="#00A651" stroke="#2E8B7A" stroke-width="1.6"/><circle cx="2816.9" cy="144" r="10.2" fill="#00A651" stroke="#2E8B7A" stroke-width="1.6"/><circle cx="2803.6" cy="157.2" r="10.2" fill="#00A651" stroke="#2E8B7A" stroke-width="1.6"/><circle cx="2823.5" cy="163.4" r="10.2" fill="#00A651" stroke="#2E8B7A" stroke-width="1.6"/><circle cx="2729.5" cy="179.7" r="10.2" fill="#00A651" stroke="#2E8B7A" stroke-width="1.6"/><circle cx="2759.5" cy="179.7" r="10.2" fill="#00A651" stroke="#2E8B7A" stroke-width="1.6"/><circle cx="2800.1" cy="181" r="10.2" fill="#00A651" stroke="#2E8B7A" stroke-width="1.6"/><circle cx="2694.2" cy="207.9" r="10.2" fill="#00A651" stroke="#2E8B7A" stroke-width="1.6"/><circle cx="2782.4" cy="223.4" r="10.2" fill="#00A651" stroke="#2E8B7A" stroke-width="1.6"/><circle cx="2760.4" cy="265.7" r="10.2" fill="#00A651" stroke="#2E8B7A" stroke-width="1.6"/><circle cx="2824.3" cy="262.2" r="10.2" fill="#00A651" stroke="#2E8B7A" stroke-width="1.6"/><circle cx="2936.8" cy="207.9" r="10.2" fill="#7030A0" stroke="#5B4BA8" stroke-width="1.6"/><circle cx="3025.9" cy="207.5" r="10.2" fill="#7030A0" stroke="#5B4BA8" stroke-width="1.6"/><circle cx="2897.6" cy="241.9" r="10.2" fill="#7030A0" stroke="#5B4BA8" stroke-width="1.6"/><circle cx="2954.5" cy="255.6" r="10.2" fill="#7030A0" stroke="#5B4BA8" stroke-width="1.6"/><circle cx="3031.2" cy="258.2" r="10.2" fill="#7030A0" stroke="#5B4BA8" stroke-width="1.6"/><circle cx="2965.9" cy="279.8" r="10.2" fill="#7030A0" stroke="#5B4BA8" stroke-width="1.6"/><circle cx="2913" cy="301.4" r="10.2" fill="#7030A0" stroke="#5B4BA8" stroke-width="1.6"/><circle cx="2943.4" cy="304.1" r="10.2" fill="#7030A0" stroke="#5B4BA8" stroke-width="1.6"/><circle cx="2986.7" cy="303.6" r="10.2" fill="#7030A0" stroke="#5B4BA8" stroke-width="1.6"/><circle cx="2940.8" cy="375.1" r="10.2" fill="#7030A0" stroke="#5B4BA8" stroke-width="1.6"/><circle cx="3152.5" cy="273.6" r="10.2" fill="#FF0000" stroke="#E83030" stroke-width="1.6"/><circle cx="3112" cy="308.5" r="10.2" fill="#FF0000" stroke="#E83030" stroke-width="1.6"/><circle cx="3145.9" cy="355.2" r="10.2" fill="#FF0000" stroke="#E83030" stroke-width="1.6"/><circle cx="3187.8" cy="387.5" r="10.2" fill="#FF0000" stroke="#E83030" stroke-width="1.6"/><circle cx="3114.2" cy="391.9" r="10.2" fill="#FF0000" stroke="#E83030" stroke-width="1.6"/><circle cx="3145.5" cy="391.9" r="10.2" fill="#FF0000" stroke="#E83030" stroke-width="1.6"/><circle cx="3107.5" cy="419.7" r="10.2" fill="#FF0000" stroke="#E83030" stroke-width="1.6"/><circle cx="3120.8" cy="434.6" r="10.2" fill="#FF0000" stroke="#E83030" stroke-width="1.6"/><circle cx="3080.2" cy="450.1" r="10.2" fill="#FF0000" stroke="#E83030" stroke-width="1.6"/><circle cx="3155.6" cy="500.8" r="10.2" fill="#FF0000" stroke="#E83030" stroke-width="1.6"/><circle cx="2805.8" cy="353" r="10.2" fill="#FFFF00" stroke="#44608A" stroke-width="1.6"/><circle cx="2830.1" cy="380" r="10.2" fill="#FFFF00" stroke="#44608A" stroke-width="1.6"/><circle cx="2754.2" cy="397.2" r="10.2" fill="#FFFF00" stroke="#44608A" stroke-width="1.6"/><circle cx="2791.3" cy="418.8" r="10.2" fill="#FFFF00" stroke="#44608A" stroke-width="1.6"/><circle cx="2777.2" cy="419.7" r="10.2" fill="#FFFF00" stroke="#44608A" stroke-width="1.6"/><circle cx="2787.3" cy="440.4" r="10.2" fill="#FFFF00" stroke="#44608A" stroke-width="1.6"/><circle cx="2814.6" cy="442.1" r="10.2" fill="#FFFF00" stroke="#44608A" stroke-width="1.6"/><circle cx="2852.6" cy="439.1" r="10.2" fill="#FFFF00" stroke="#44608A" stroke-width="1.6"/><circle cx="2766.1" cy="462.4" r="10.2" fill="#FFFF00" stroke="#44608A" stroke-width="1.6"/><circle cx="2794.4" cy="463.3" r="10.2" fill="#FFFF00" stroke="#44608A" stroke-width="1.6"/><circle cx="2816" cy="481.4" r="10.2" fill="#FFFF00" stroke="#44608A" stroke-width="1.6"/><circle cx="2794.8" cy="524.2" r="10.2" fill="#FFFF00" stroke="#44608A" stroke-width="1.6"/><path d="M2615.3 98.5V568.7M2612.3 568.7H3266.5" fill="none" stroke="#000" stroke-width="6"/><path d="M2615.3 568.7V585.7M2723.5 568.7V585.7M2831.7 568.7V585.7M2939.9 568.7V585.7M3048.1 568.7V585.7M3156.3 568.7V585.7M3264.5 568.7V585.7M2597.8 568.7H2615.3M2597.8 451.9H2615.3M2597.8 335.1H2615.3M2597.8 218.3H2615.3M2597.8 101.5H2615.3" fill="none" stroke="#000" stroke-width="5.6"/><text x="2615.3" y="634.7" font-size="55" fill="#000" text-anchor="middle">−3</text><text x="2723.5" y="634.7" font-size="55" fill="#000" text-anchor="middle">−2</text><text x="2831.7" y="634.7" font-size="55" fill="#000" text-anchor="middle">−1</text><text x="2939.9" y="634.7" font-size="55" fill="#000" text-anchor="middle">0</text><text x="3048.1" y="634.7" font-size="55" fill="#000" text-anchor="middle">1</text><text x="3156.3" y="634.7" font-size="55" fill="#000" text-anchor="middle">2</text><text x="3264.5" y="634.7" font-size="55" fill="#000" text-anchor="middle">3</text><text x="2592.5" y="588.2" font-size="55" fill="#000" text-anchor="end">−2</text><text x="2592.5" y="471.4" font-size="55" fill="#000" text-anchor="end">−1</text><text x="2592.5" y="354.6" font-size="55" fill="#000" text-anchor="end">0</text><text x="2592.5" y="237.8" font-size="55" fill="#000" text-anchor="end">1</text><text x="2592.5" y="117" font-size="55" fill="#000" text-anchor="end">2</text><text x="2939.5" y="700" font-size="56" fill="#000" text-anchor="middle">PC1 (90%)</text><text font-size="54" text-anchor="middle" transform="translate(2501.5 339.5) rotate(-90)">PC2 (8%)</text><text x="2388.5" y="787.5" font-size="83.1" fill="#000" text-anchor="start">Principal component analysis</text><rect x="3640.2" y="186" width="666" height="347.4" fill="#F2F2F2"/><path d="M3690.2 303.3L3786.4 368.5M3692.3 429.6L3786.4 368.5" fill="none" stroke="#4472C4" stroke-width="12.5"/><circle cx="3690.2" cy="303.3" r="19.3" fill="#4472C4"/><circle cx="3692.3" cy="429.6" r="19.3" fill="#4472C4"/><path d="M3775 369H3994V459.2H4032.5V256.8H4065.1V459.2H4102V257.5H4135V370.3H4205" fill="none" stroke="#4472C4" stroke-width="15.2" stroke-linejoin="miter"/><rect x="3806.3" y="325.8" width="96.6" height="86" rx="11" fill="#4472C4"/><ellipse cx="4234.2" cy="370.3" rx="36.9" ry="39" fill="#4472C4"/><text x="3680.5" y="787.5" font-size="84" fill="#000" text-anchor="start">Microfluidic chip</text><path d="M2612.3 942.7L2761.7 864.3M2612.3 942.7L2761.7 943.1M2612.3 942.7L2761.7 1021.5M2612.3 942.7L2761.7 1094M2612.3 942.7L2761.7 1177.6M2612.3 942.7L2761.7 1255.3M2612.3 1021.5L2761.7 864.3M2612.3 1021.5L2761.7 943.1M2612.3 1021.5L2761.7 1021.5M2612.3 1021.5L2761.7 1094M2612.3 1021.5L2761.7 1177.6M2612.3 1021.5L2761.7 1255.3M2612.3 1099.6L2761.7 864.3M2612.3 1099.6L2761.7 943.1M2612.3 1099.6L2761.7 1021.5M2612.3 1099.6L2761.7 1094M2612.3 1099.6L2761.7 1177.6M2612.3 1099.6L2761.7 1255.3M2612.3 1177.6L2761.7 864.3M2612.3 1177.6L2761.7 943.1M2612.3 1177.6L2761.7 1021.5M2612.3 1177.6L2761.7 1094M2612.3 1177.6L2761.7 1177.6M2612.3 1177.6L2761.7 1255.3" fill="none" stroke="#FFC000" stroke-width="5.2"/><path d="M2855.1 864.3L2986.1 896.2M2855.1 864.3L2986.1 971.2M2855.1 864.3L2986.1 1045.2M2855.1 864.3L2986.1 1118.3M2855.1 864.3L2986.1 1194.5M2855.1 943.1L2986.1 896.2M2855.1 943.1L2986.1 971.2M2855.1 943.1L2986.1 1045.2M2855.1 943.1L2986.1 1118.3M2855.1 943.1L2986.1 1194.5M2855.1 1021.5L2986.1 896.2M2855.1 1021.5L2986.1 971.2M2855.1 1021.5L2986.1 1045.2M2855.1 1021.5L2986.1 1118.3M2855.1 1021.5L2986.1 1194.5M2855.1 1094L2986.1 896.2M2855.1 1094L2986.1 971.2M2855.1 1094L2986.1 1045.2M2855.1 1094L2986.1 1118.3M2855.1 1094L2986.1 1194.5M2855.1 1177.6L2986.1 896.2M2855.1 1177.6L2986.1 971.2M2855.1 1177.6L2986.1 1045.2M2855.1 1177.6L2986.1 1118.3M2855.1 1177.6L2986.1 1194.5M2855.1 1255.3L2986.1 896.2M2855.1 1255.3L2986.1 971.2M2855.1 1255.3L2986.1 1045.2M2855.1 1255.3L2986.1 1118.3M2855.1 1255.3L2986.1 1194.5" fill="none" stroke="#70AD47" stroke-width="5.6"/><path d="M3079.5 896.2L3189.5 960.7M3079.5 896.2L3189.5 1051.9M3079.5 896.2L3189.5 1142.7M3079.5 971.2L3189.5 960.7M3079.5 971.2L3189.5 1051.9M3079.5 971.2L3189.5 1142.7M3079.5 1045.2L3189.5 960.7M3079.5 1045.2L3189.5 1051.9M3079.5 1045.2L3189.5 1142.7M3079.5 1118.3L3189.5 960.7M3079.5 1118.3L3189.5 1051.9M3079.5 1118.3L3189.5 1142.7M3079.5 1194.5L3189.5 960.7M3079.5 1194.5L3189.5 1051.9M3079.5 1194.5L3189.5 1142.7" fill="none" stroke="#7030A0" stroke-width="5.2"/><ellipse cx="2565.6" cy="942.7" rx="47.7" ry="23.7" fill="#ED7D31"/><ellipse cx="2565.6" cy="1021.5" rx="47.7" ry="23.7" fill="#ED7D31"/><ellipse cx="2565.6" cy="1099.6" rx="47.7" ry="23.7" fill="#ED7D31"/><ellipse cx="2565.6" cy="1177.6" rx="47.7" ry="23.7" fill="#ED7D31"/><ellipse cx="2808.4" cy="864.3" rx="47.7" ry="23.7" fill="#FFC000"/><ellipse cx="2808.4" cy="943.1" rx="47.7" ry="23.7" fill="#FFC000"/><ellipse cx="2808.4" cy="1021.5" rx="47.7" ry="23.7" fill="#FFC000"/><ellipse cx="2808.4" cy="1094" rx="47.7" ry="23.7" fill="#FFC000"/><ellipse cx="2808.4" cy="1177.6" rx="47.7" ry="23.7" fill="#FFC000"/><ellipse cx="2808.4" cy="1255.3" rx="47.7" ry="23.7" fill="#FFC000"/><ellipse cx="3032.8" cy="896.2" rx="47.7" ry="23.7" fill="#92D050"/><ellipse cx="3032.8" cy="971.2" rx="47.7" ry="23.7" fill="#92D050"/><ellipse cx="3032.8" cy="1045.2" rx="47.7" ry="23.7" fill="#92D050"/><ellipse cx="3032.8" cy="1118.3" rx="47.7" ry="23.7" fill="#92D050"/><ellipse cx="3032.8" cy="1194.5" rx="47.7" ry="23.7" fill="#92D050"/><ellipse cx="3236.2" cy="960.7" rx="47.7" ry="23.7" fill="#7030A0"/><ellipse cx="3236.2" cy="1051.9" rx="47.7" ry="23.7" fill="#7030A0"/><ellipse cx="3236.2" cy="1142.7" rx="47.7" ry="23.7" fill="#7030A0"/><text x="2582.5" y="1384" font-size="83" fill="#000" text-anchor="start">Deep learning</text><circle cx="3861.4" cy="1046.3" r="22.2" fill="#000" stroke="#2F5597" stroke-width="6.4"/><circle cx="3974.6" cy="1045.4" r="22.2" fill="#000" stroke="#2F5597" stroke-width="6.4"/><circle cx="4087.5" cy="1045.4" r="22.2" fill="#000" stroke="#2F5597" stroke-width="6.4"/><text x="3846" y="1385" font-size="83" fill="#000" text-anchor="start">Others</text></g>
<g id="application"><g transform="translate(-1069.5 249.5)"><path d="M1727.8 1888.1C1739.1 1889 1750.5 1892 1763.2 1896.3C1775.9 1900.6 1790.9 1907.9 1804 1914C1817.2 1920.1 1830.4 1926 1842.2 1933.1C1854 1940.1 1863.9 1948.3 1874.8 1956.2C1885.7 1964.2 1897.1 1971.6 1907.5 1980.7C1918 1989.8 1931.1 2001.6 1937.5 2010.7C1943.8 2019.8 1943.4 2025.7 1945.6 2035.2C1947.9 2044.7 1952 2057 1951.1 2067.9C1950.2 2078.8 1945.6 2087.8 1940.2 2100.5C1934.7 2113.3 1927.5 2130 1918.4 2144.1C1909.3 2158.2 1897.5 2173.2 1885.7 2185C1873.9 2196.8 1861.2 2206.8 1847.6 2214.9C1834 2223.1 1820.4 2228.8 1804 2234C1787.7 2239.2 1767.7 2243.7 1749.6 2246.2C1731.4 2248.7 1710.5 2250.1 1695.1 2249C1679.7 2247.8 1669.7 2244.2 1657 2239.4C1644.3 2234.7 1632.5 2228.5 1618.8 2220.4C1605.2 2212.2 1588.9 2200.9 1575.3 2190.4C1561.7 2180 1548.3 2167.7 1537.1 2157.7C1526 2147.7 1514.7 2140.9 1508.6 2130.5C1502.4 2120.1 1502.4 2107.4 1500.4 2095.1C1498.3 2082.8 1497.7 2068.3 1496.3 2057C1494.9 2045.6 1492 2035.2 1492.2 2027C1492.4 2018.8 1493.3 2014.3 1497.7 2008C1502 2001.6 1509.2 1997.5 1518.1 1988.9C1526.9 1980.3 1539.4 1967.1 1550.8 1956.2C1562.1 1945.3 1574.8 1931.7 1586.2 1923.5C1597.5 1915.4 1607 1912 1618.8 1907.2C1630.6 1902.4 1644.3 1897.7 1657 1894.9C1669.7 1892.2 1683.3 1892 1695.1 1890.8C1706.9 1889.7 1716.4 1887.2 1727.8 1888.1Z" fill="none" stroke="#000" stroke-width="9"/><path d="M1573.9 2057C1574.1 2052 1575 2047 1578 2043.4C1580.9 2039.7 1586.2 2037.2 1591.6 2035.2C1597.1 2033.1 1604.3 2030.9 1610.7 2031.1C1617 2031.3 1623.8 2033.6 1629.7 2036.5C1635.6 2039.5 1642 2043.6 1646.1 2048.8C1650.2 2054 1653.3 2062 1654.2 2067.9C1655.2 2073.8 1653.8 2080.1 1651.5 2084.2C1649.3 2088.3 1642.2 2088.7 1640.6 2092.4C1639 2096 1640.6 2100.5 1642 2106C1643.4 2111.4 1646.3 2120.5 1648.8 2125.1C1651.3 2129.6 1652.4 2132.8 1657 2133.2C1661.5 2133.7 1668.8 2129.8 1676 2127.8C1683.3 2125.7 1694.6 2120.5 1700.5 2121C1706.4 2121.4 1707.8 2128 1711.4 2130.5C1715.1 2133 1717.8 2135.3 1722.3 2135.9C1726.9 2136.6 1733.2 2136.4 1738.7 2134.6C1744.1 2132.8 1750.9 2128.9 1755 2125.1C1759.1 2121.2 1761.1 2117.3 1763.2 2111.4C1765.2 2105.5 1765 2095.6 1767.3 2089.7C1769.5 2083.8 1771.6 2079.7 1776.8 2076C1782 2072.4 1792.2 2069.7 1798.6 2067.9C1804.9 2066 1810.2 2063.8 1814.9 2065.1C1819.7 2066.5 1823.5 2069.2 1827.2 2076C1830.8 2082.8 1837.4 2098.7 1836.7 2106C1836 2113.3 1829 2116 1823.1 2119.6C1817.2 2123.2 1809 2125.7 1801.3 2127.8C1793.6 2129.8 1784.1 2130.7 1776.8 2131.9C1769.5 2133 1763.6 2133.5 1757.7 2134.6C1751.8 2135.7 1746.4 2136.2 1741.4 2138.7C1736.4 2141.2 1731.4 2145 1727.8 2149.6C1724.1 2154.1 1721.7 2160 1719.6 2165.9C1717.6 2171.8 1718.7 2180.2 1715.5 2185C1712.3 2189.7 1706.2 2192.5 1700.5 2194.5C1694.9 2196.5 1686.9 2198.4 1681.5 2197.2C1676 2196.1 1671.9 2192 1667.9 2187.7C1663.8 2183.4 1660.6 2176.8 1657 2171.4C1653.3 2165.9 1647.7 2159.5 1646.1 2155C1644.5 2150.5 1648.8 2148.2 1647.4 2144.1C1646.1 2140 1641.3 2135.9 1637.9 2130.5C1634.5 2125.1 1630.2 2116 1627 2111.4C1623.8 2106.9 1622.9 2105.5 1618.8 2103.3C1614.8 2101 1608 2100.5 1602.5 2097.8C1597.1 2095.1 1590.5 2091 1586.2 2086.9C1581.9 2082.8 1578.7 2078.3 1576.6 2073.3C1574.6 2068.3 1573.7 2062 1573.9 2057Z" fill="none" stroke="#000" stroke-width="8.5" stroke-linejoin="round"/><ellipse cx="1725.9" cy="1928.4" rx="8.2" ry="3.5" fill="#000" transform="rotate(30 1725.9 1928.4)"/><ellipse cx="1581.3" cy="1965.7" rx="7.5" ry="4.4" fill="#000"/><ellipse cx="1648.3" cy="2006.6" rx="7.9" ry="4.4" fill="#000"/><ellipse cx="1758.3" cy="1999" rx="8.2" ry="4.4" fill="#000"/><ellipse cx="1806.2" cy="2040.6" rx="7.9" ry="4.1" fill="#000"/><ellipse cx="1888.5" cy="2036.5" rx="4.1" ry="7.1" fill="#000"/><ellipse cx="1697.3" cy="2069.2" rx="7.9" ry="4.4" fill="#000"/><ellipse cx="1537.7" cy="2109.3" rx="7.5" ry="4.4" fill="#000"/><ellipse cx="1897.4" cy="2113.3" rx="7.9" ry="4.6" fill="#000"/><ellipse cx="1832.1" cy="2148.7" rx="7.9" ry="4.1" fill="#000"/><ellipse cx="1621" cy="2157.7" rx="7.5" ry="4.1" fill="#000"/><ellipse cx="1750.1" cy="2186.3" rx="7.9" ry="4.1" fill="#000"/></g><g transform="translate(-1336.7 59.9)"><path d="M1727.8 1888.1C1739.1 1889 1750.5 1892 1763.2 1896.3C1775.9 1900.6 1790.9 1907.9 1804 1914C1817.2 1920.1 1830.4 1926 1842.2 1933.1C1854 1940.1 1863.9 1948.3 1874.8 1956.2C1885.7 1964.2 1897.1 1971.6 1907.5 1980.7C1918 1989.8 1931.1 2001.6 1937.5 2010.7C1943.8 2019.8 1943.4 2025.7 1945.6 2035.2C1947.9 2044.7 1952 2057 1951.1 2067.9C1950.2 2078.8 1945.6 2087.8 1940.2 2100.5C1934.7 2113.3 1927.5 2130 1918.4 2144.1C1909.3 2158.2 1897.5 2173.2 1885.7 2185C1873.9 2196.8 1861.2 2206.8 1847.6 2214.9C1834 2223.1 1820.4 2228.8 1804 2234C1787.7 2239.2 1767.7 2243.7 1749.6 2246.2C1731.4 2248.7 1710.5 2250.1 1695.1 2249C1679.7 2247.8 1669.7 2244.2 1657 2239.4C1644.3 2234.7 1632.5 2228.5 1618.8 2220.4C1605.2 2212.2 1588.9 2200.9 1575.3 2190.4C1561.7 2180 1548.3 2167.7 1537.1 2157.7C1526 2147.7 1514.7 2140.9 1508.6 2130.5C1502.4 2120.1 1502.4 2107.4 1500.4 2095.1C1498.3 2082.8 1497.7 2068.3 1496.3 2057C1494.9 2045.6 1492 2035.2 1492.2 2027C1492.4 2018.8 1493.3 2014.3 1497.7 2008C1502 2001.6 1509.2 1997.5 1518.1 1988.9C1526.9 1980.3 1539.4 1967.1 1550.8 1956.2C1562.1 1945.3 1574.8 1931.7 1586.2 1923.5C1597.5 1915.4 1607 1912 1618.8 1907.2C1630.6 1902.4 1644.3 1897.7 1657 1894.9C1669.7 1892.2 1683.3 1892 1695.1 1890.8C1706.9 1889.7 1716.4 1887.2 1727.8 1888.1Z" fill="#FBE5D6" stroke="#F8CBAD" stroke-width="6.5"/><path d="M1573.9 2057C1574.1 2052 1575 2047 1578 2043.4C1580.9 2039.7 1586.2 2037.2 1591.6 2035.2C1597.1 2033.1 1604.3 2030.9 1610.7 2031.1C1617 2031.3 1623.8 2033.6 1629.7 2036.5C1635.6 2039.5 1642 2043.6 1646.1 2048.8C1650.2 2054 1653.3 2062 1654.2 2067.9C1655.2 2073.8 1653.8 2080.1 1651.5 2084.2C1649.3 2088.3 1642.2 2088.7 1640.6 2092.4C1639 2096 1640.6 2100.5 1642 2106C1643.4 2111.4 1646.3 2120.5 1648.8 2125.1C1651.3 2129.6 1652.4 2132.8 1657 2133.2C1661.5 2133.7 1668.8 2129.8 1676 2127.8C1683.3 2125.7 1694.6 2120.5 1700.5 2121C1706.4 2121.4 1707.8 2128 1711.4 2130.5C1715.1 2133 1717.8 2135.3 1722.3 2135.9C1726.9 2136.6 1733.2 2136.4 1738.7 2134.6C1744.1 2132.8 1750.9 2128.9 1755 2125.1C1759.1 2121.2 1761.1 2117.3 1763.2 2111.4C1765.2 2105.5 1765 2095.6 1767.3 2089.7C1769.5 2083.8 1771.6 2079.7 1776.8 2076C1782 2072.4 1792.2 2069.7 1798.6 2067.9C1804.9 2066 1810.2 2063.8 1814.9 2065.1C1819.7 2066.5 1823.5 2069.2 1827.2 2076C1830.8 2082.8 1837.4 2098.7 1836.7 2106C1836 2113.3 1829 2116 1823.1 2119.6C1817.2 2123.2 1809 2125.7 1801.3 2127.8C1793.6 2129.8 1784.1 2130.7 1776.8 2131.9C1769.5 2133 1763.6 2133.5 1757.7 2134.6C1751.8 2135.7 1746.4 2136.2 1741.4 2138.7C1736.4 2141.2 1731.4 2145 1727.8 2149.6C1724.1 2154.1 1721.7 2160 1719.6 2165.9C1717.6 2171.8 1718.7 2180.2 1715.5 2185C1712.3 2189.7 1706.2 2192.5 1700.5 2194.5C1694.9 2196.5 1686.9 2198.4 1681.5 2197.2C1676 2196.1 1671.9 2192 1667.9 2187.7C1663.8 2183.4 1660.6 2176.8 1657 2171.4C1653.3 2165.9 1647.7 2159.5 1646.1 2155C1644.5 2150.5 1648.8 2148.2 1647.4 2144.1C1646.1 2140 1641.3 2135.9 1637.9 2130.5C1634.5 2125.1 1630.2 2116 1627 2111.4C1623.8 2106.9 1622.9 2105.5 1618.8 2103.3C1614.8 2101 1608 2100.5 1602.5 2097.8C1597.1 2095.1 1590.5 2091 1586.2 2086.9C1581.9 2082.8 1578.7 2078.3 1576.6 2073.3C1574.6 2068.3 1573.7 2062 1573.9 2057Z" fill="#F8CBAD" stroke="#F4B183" stroke-width="4.2" stroke-linejoin="round"/><ellipse cx="1725.9" cy="1928.4" rx="8.2" ry="3.5" fill="#F4B183" transform="rotate(30 1725.9 1928.4)"/><ellipse cx="1581.3" cy="1965.7" rx="7.5" ry="4.4" fill="#F4B183"/><ellipse cx="1648.3" cy="2006.6" rx="7.9" ry="4.4" fill="#F4B183"/><ellipse cx="1758.3" cy="1999" rx="8.2" ry="4.4" fill="#F4B183"/><ellipse cx="1806.2" cy="2040.6" rx="7.9" ry="4.1" fill="#F4B183"/><ellipse cx="1888.5" cy="2036.5" rx="4.1" ry="7.1" fill="#F4B183"/><ellipse cx="1697.3" cy="2069.2" rx="7.9" ry="4.4" fill="#F4B183"/><ellipse cx="1537.7" cy="2109.3" rx="7.5" ry="4.4" fill="#F4B183"/><ellipse cx="1897.4" cy="2113.3" rx="7.9" ry="4.6" fill="#F4B183"/><ellipse cx="1832.1" cy="2148.7" rx="7.9" ry="4.1" fill="#F4B183"/><ellipse cx="1621" cy="2157.7" rx="7.5" ry="4.1" fill="#F4B183"/><ellipse cx="1750.1" cy="2186.3" rx="7.9" ry="4.1" fill="#F4B183"/></g><g transform="matrix(0.8950 0 0 0.8000 611.3 1686.9)"><g transform="translate(9 8)"><path d="M546.7 796.9C554.9 796.9 568.8 801.8 577.8 805.8C586.8 809.7 590.3 816.4 600.7 820.5C611 824.5 626.8 827.5 639.9 830.3C652.9 833 668.2 834.1 679.1 836.8C690 839.5 697.1 841.4 705.2 846.6C713.4 851.8 721 860.5 728.1 867.8C735.2 875.2 741.7 882.5 747.7 890.7C753.7 898.9 757.5 909.2 764.1 916.9C770.6 924.5 778.8 931.3 786.9 936.5C795.1 941.6 805.7 944.1 813.1 947.9C820.4 951.7 827.5 954.7 831 959.3C834.6 964 834.3 968.6 834.3 975.7C834.3 982.8 833.5 992.6 831 1001.8C828.6 1011.1 823.7 1022.5 819.6 1031.2C815.5 1040 809.8 1044.9 806.5 1054.1C803.3 1063.4 801.4 1075.9 800 1086.8C798.6 1097.7 799.5 1109.7 798.4 1119.5C797.3 1129.3 796.5 1136.9 793.5 1145.6C790.5 1154.3 786.9 1163.6 780.4 1171.8C773.9 1179.9 763 1187 754.2 1194.6C745.5 1202.3 734.6 1209.6 728.1 1217.5C721.6 1225.4 721 1235.8 715 1242C709 1248.3 701.4 1252.6 692.2 1255.1C682.9 1257.5 669.8 1257.5 659.5 1256.7C649.1 1255.9 637.7 1253.5 630.1 1250.2C622.4 1246.9 619.7 1241.5 613.7 1237.1C607.7 1232.8 601.2 1227.3 594.1 1224.1C587 1220.8 581 1218.1 571.2 1217.5C561.4 1217 546.7 1218.9 535.3 1220.8C523.9 1222.7 511.3 1227.3 502.6 1229C493.9 1230.6 487.9 1233 483 1230.6C478.1 1228.1 475.9 1220.8 473.2 1214.2C470.5 1207.7 468.8 1197.6 466.7 1191.4C464.5 1185.1 463.9 1181 460.1 1176.7C456.3 1172.3 452.5 1166.9 443.8 1165.2C435.1 1163.6 418.7 1165.7 407.8 1166.9C396.9 1168.1 385.8 1172.7 378.4 1172.4C371.1 1172.1 367.3 1169.7 363.7 1165.2C360.2 1160.8 358.6 1154.3 357.2 1145.6C355.8 1136.9 355.8 1123.3 355.6 1112.9C355.3 1102.6 357.7 1092.2 355.6 1083.5C353.4 1074.8 345.9 1068.3 342.5 1060.7C339.1 1053 335.6 1044.9 335.3 1037.8C335 1030.7 337.2 1023.9 340.8 1018.2C344.5 1012.5 352.3 1008.9 357.2 1003.5C362.1 998 367.5 992.3 370.3 985.5C373 978.7 373.8 973 373.5 962.6C373.3 952.3 370.3 935.4 368.6 923.4C367 911.4 363.5 899.4 363.7 890.7C364 882 366.2 876.6 370.3 871.1C374.3 865.7 379.2 861.3 388.2 858C397.2 854.8 412.7 853.1 424.2 851.5C435.6 849.9 446 851 456.9 848.2C467.8 845.5 479.7 840.1 489.5 835.2C499.3 830.3 509.2 823.7 515.7 818.8C522.2 813.9 523.6 809.4 528.8 805.8C533.9 802.1 538.6 796.9 546.7 796.9Z" fill="none" stroke="#000" stroke-width="5.3" stroke-linejoin="round"/><path d="M613.7 1237.1C615.9 1237.8 621.6 1240.3 626.8 1241C632 1241.8 641.8 1241.3 644.8 1241.4" fill="none" stroke="#000" stroke-width="4.8" stroke-linecap="round"/><path d="M571.2 1054.1C574 1046.2 577.8 1043.7 584.3 1039.4C590.8 1035.2 600.7 1030.8 610.5 1028.6C620.3 1026.4 632.2 1026.9 643.1 1026.3C654 1025.8 666.6 1023.5 675.8 1025.4C685.1 1027.3 692.7 1033 698.7 1037.8C704.7 1042.6 707.1 1047.6 711.8 1054.1C716.4 1060.7 723.7 1069.4 726.5 1077C729.2 1084.6 728.6 1092.2 728.1 1099.9C727.6 1107.5 725.9 1116.2 723.2 1122.7C720.5 1129.3 716.9 1134.5 711.8 1139.1C706.6 1143.7 699.2 1147 692.2 1150.5C685.1 1154.1 677.5 1157.6 669.3 1160.3C661.1 1163.1 649.7 1167.4 643.1 1166.9C636.6 1166.3 636.6 1159.8 630.1 1157.1C623.5 1154.3 611.5 1153.5 603.9 1150.5C596.3 1147.5 589.8 1144.8 584.3 1139.1C578.9 1133.4 574 1124.9 571.2 1116.2C568.5 1107.5 568 1097.1 568 1086.8C568 1076.4 568.5 1062 571.2 1054.1Z" fill="none" stroke="#000" stroke-width="5.3"/></g><ellipse cx="479.7" cy="912.9" rx="5.9" ry="9.3" fill="#000"/><ellipse cx="647.4" cy="888.4" rx="5.5" ry="9" fill="#000"/><ellipse cx="572.9" cy="964.9" rx="8.8" ry="6.9" fill="#000"/><ellipse cx="462.7" cy="1014.9" rx="8.8" ry="7.4" fill="#000"/><ellipse cx="782" cy="990.4" rx="6.2" ry="20.4" fill="#000"/><ellipse cx="721.6" cy="1027" rx="5.9" ry="9" fill="#000"/><ellipse cx="415" cy="1063.9" rx="6.2" ry="14.7" fill="#000"/><ellipse cx="542.2" cy="1062.9" rx="6.2" ry="15" fill="#000"/><ellipse cx="465" cy="1094.3" rx="5.5" ry="8.5" fill="#000"/><ellipse cx="539.5" cy="1174.1" rx="5.5" ry="9" fill="#000"/><ellipse cx="726.5" cy="1193.7" rx="5.9" ry="9" fill="#000"/></g><g transform="translate(-1212 -54.6)"><path d="M1674.3 2695.9L1675.7 2677.3M1662.4 2666.6L1675.7 2677.3L1698.3 2667.9M1759.6 2730.5L1768.9 2713.2M1764.9 2699.9L1768.9 2713.2L1796.9 2713.2M1806.2 2781.1L1823.5 2771.8M1816.8 2751.8L1823.5 2771.8L1840.8 2779.8M1835.5 2853.1L1862.1 2847.7M1870.1 2834.4L1862.1 2847.7L1870.1 2865M1770.2 2948.9L1783.5 2960.9M1806.2 2948.9L1783.5 2960.9L1782.2 2976.9M1667.7 2988.9L1667.7 3011.5M1646.4 3012.9L1667.7 3011.5L1682.3 3019.5M1569.1 2968.9L1561.1 2988.9M1539.8 2987.6L1561.1 2988.9L1569.1 3004.9M1485.2 2903.7L1465.3 2914.3M1449.3 2901L1465.3 2914.3L1461.3 2929M1479.9 2794.5L1461.3 2789.1M1449.3 2770.5L1461.3 2789.1L1441.3 2801.1M1541.2 2723.9L1533.2 2709.2M1511.9 2707.9L1533.2 2709.2L1539.8 2689.3" fill="none" stroke="#000" stroke-width="6" stroke-linejoin="round"/><path d="M1626.4 2694.6C1636.2 2694.7 1653 2694.8 1666.3 2695.9C1679.7 2697 1694.3 2698.1 1706.3 2701.2C1718.3 2704.3 1728.1 2708.6 1738.3 2714.6C1748.5 2720.5 1758.7 2729 1767.6 2737.2C1776.4 2745.4 1784 2754.5 1791.5 2763.8C1799.1 2773.1 1806.2 2784.2 1812.8 2793.1C1819.5 2802 1827.5 2810.4 1831.5 2817.1C1835.5 2823.8 1836.1 2826 1836.8 2833.1C1837.5 2840.2 1836.8 2850.8 1835.5 2859.7C1834.1 2868.6 1833 2877.9 1828.8 2886.3C1824.6 2894.8 1817.7 2901.9 1810.2 2910.3C1802.6 2918.8 1793.3 2928.5 1783.5 2937C1773.8 2945.4 1762.2 2953.8 1751.6 2960.9C1740.9 2968 1729.4 2974.9 1719.6 2979.6C1709.9 2984.2 1704.1 2987.1 1693 2988.9C1681.9 2990.7 1666.3 2990.9 1653 2990.2C1639.7 2989.6 1625.1 2988 1613.1 2984.9C1601.1 2981.8 1591.8 2977.8 1581.1 2971.6C1570.5 2965.4 1559.8 2955.6 1549.2 2947.6C1538.5 2939.6 1527 2931.2 1517.2 2923.6C1507.4 2916.1 1496.6 2910.8 1490.6 2902.3C1484.6 2893.9 1483 2884.6 1481.2 2873C1479.5 2861.5 1480.6 2844.2 1479.9 2833.1C1479.2 2822 1476.8 2813.5 1477.2 2806.4C1477.7 2799.3 1479 2797.1 1482.6 2790.5C1486.1 2783.8 1492.8 2774 1498.5 2766.5C1504.3 2758.9 1510.1 2752.1 1517.2 2745.2C1524.3 2738.3 1533.2 2731.2 1541.2 2725.2C1549.2 2719.2 1557.6 2713.4 1565.1 2709.2C1572.7 2705 1579.3 2702.2 1586.4 2699.9C1593.5 2697.6 1601.1 2696.3 1607.8 2695.4C1614.4 2694.5 1616.6 2694.5 1626.4 2694.6Z" fill="none" stroke="#1F3864" stroke-width="5.4"/><path d="M1594.4 2830.4C1597.1 2825.3 1602 2822 1607.8 2818.4C1613.5 2814.9 1621.1 2811.1 1629.1 2809.1C1637 2807.1 1646.4 2806.8 1655.7 2806.4C1665 2806.1 1677.4 2805 1685 2807C1692.5 2809 1695.6 2815 1701 2818.4C1706.3 2821.9 1713.2 2822.6 1717 2827.8C1720.7 2832.9 1723.2 2841.5 1723.6 2849.1C1724.1 2856.6 1722.5 2866.4 1719.6 2873C1716.7 2879.7 1712.5 2884.8 1706.3 2889C1700.1 2893.2 1691.2 2896.3 1682.3 2898.3C1673.4 2900.3 1662.4 2901.2 1653 2901C1643.7 2900.8 1634.4 2899.4 1626.4 2897C1618.4 2894.6 1610.4 2891.2 1605.1 2886.3C1599.8 2881.5 1596.7 2873.9 1594.4 2867.7C1592.2 2861.5 1591.8 2855.3 1591.8 2849.1C1591.8 2842.8 1591.8 2835.5 1594.4 2830.4Z" fill="none" stroke="#1F3864" stroke-width="5.4"/><ellipse cx="1629.6" cy="2723.3" rx="2.9" ry="5.6" fill="#000"/><ellipse cx="1737.7" cy="2776" rx="6.4" ry="3.7" fill="#000"/><ellipse cx="1530.5" cy="2825" rx="6.7" ry="3.7" fill="#000"/><ellipse cx="1791.5" cy="2869.8" rx="5.9" ry="4" fill="#000"/><ellipse cx="1592.3" cy="2926.5" rx="5.9" ry="3.7" fill="#000"/><ellipse cx="1737.2" cy="2936.9" rx="5.9" ry="3.7" fill="#000"/></g><g transform="matrix(0.8950 0 0 0.8000 892 1674.9)"><path d="M546.7 796.9C554.9 796.9 568.8 801.8 577.8 805.8C586.8 809.7 590.3 816.4 600.7 820.5C611 824.5 626.8 827.5 639.9 830.3C652.9 833 668.2 834.1 679.1 836.8C690 839.5 697.1 841.4 705.2 846.6C713.4 851.8 721 860.5 728.1 867.8C735.2 875.2 741.7 882.5 747.7 890.7C753.7 898.9 757.5 909.2 764.1 916.9C770.6 924.5 778.8 931.3 786.9 936.5C795.1 941.6 805.7 944.1 813.1 947.9C820.4 951.7 827.5 954.7 831 959.3C834.6 964 834.3 968.6 834.3 975.7C834.3 982.8 833.5 992.6 831 1001.8C828.6 1011.1 823.7 1022.5 819.6 1031.2C815.5 1040 809.8 1044.9 806.5 1054.1C803.3 1063.4 801.4 1075.9 800 1086.8C798.6 1097.7 799.5 1109.7 798.4 1119.5C797.3 1129.3 796.5 1136.9 793.5 1145.6C790.5 1154.3 786.9 1163.6 780.4 1171.8C773.9 1179.9 763 1187 754.2 1194.6C745.5 1202.3 734.6 1209.6 728.1 1217.5C721.6 1225.4 721 1235.8 715 1242C709 1248.3 701.4 1252.6 692.2 1255.1C682.9 1257.5 669.8 1257.5 659.5 1256.7C649.1 1255.9 637.7 1253.5 630.1 1250.2C622.4 1246.9 619.7 1241.5 613.7 1237.1C607.7 1232.8 601.2 1227.3 594.1 1224.1C587 1220.8 581 1218.1 571.2 1217.5C561.4 1217 546.7 1218.9 535.3 1220.8C523.9 1222.7 511.3 1227.3 502.6 1229C493.9 1230.6 487.9 1233 483 1230.6C478.1 1228.1 475.9 1220.8 473.2 1214.2C470.5 1207.7 468.8 1197.6 466.7 1191.4C464.5 1185.1 463.9 1181 460.1 1176.7C456.3 1172.3 452.5 1166.9 443.8 1165.2C435.1 1163.6 418.7 1165.7 407.8 1166.9C396.9 1168.1 385.8 1172.7 378.4 1172.4C371.1 1172.1 367.3 1169.7 363.7 1165.2C360.2 1160.8 358.6 1154.3 357.2 1145.6C355.8 1136.9 355.8 1123.3 355.6 1112.9C355.3 1102.6 357.7 1092.2 355.6 1083.5C353.4 1074.8 345.9 1068.3 342.5 1060.7C339.1 1053 335.6 1044.9 335.3 1037.8C335 1030.7 337.2 1023.9 340.8 1018.2C344.5 1012.5 352.3 1008.9 357.2 1003.5C362.1 998 367.5 992.3 370.3 985.5C373 978.7 373.8 973 373.5 962.6C373.3 952.3 370.3 935.4 368.6 923.4C367 911.4 363.5 899.4 363.7 890.7C364 882 366.2 876.6 370.3 871.1C374.3 865.7 379.2 861.3 388.2 858C397.2 854.8 412.7 853.1 424.2 851.5C435.6 849.9 446 851 456.9 848.2C467.8 845.5 479.7 840.1 489.5 835.2C499.3 830.3 509.2 823.7 515.7 818.8C522.2 813.9 523.6 809.4 528.8 805.8C533.9 802.1 538.6 796.9 546.7 796.9Z" fill="#8FAADC" stroke="#2F5597" stroke-width="4" stroke-linejoin="round"/><path d="M613.7 1237.1C615.9 1237.8 621.6 1240.3 626.8 1241C632 1241.8 641.8 1241.3 644.8 1241.4" fill="none" stroke="#2F5597" stroke-width="3.6" stroke-linecap="round"/><path d="M571.2 1054.1C574 1046.2 577.8 1043.7 584.3 1039.4C590.8 1035.2 600.7 1030.8 610.5 1028.6C620.3 1026.4 632.2 1026.9 643.1 1026.3C654 1025.8 666.6 1023.5 675.8 1025.4C685.1 1027.3 692.7 1033 698.7 1037.8C704.7 1042.6 707.1 1047.6 711.8 1054.1C716.4 1060.7 723.7 1069.4 726.5 1077C729.2 1084.6 728.6 1092.2 728.1 1099.9C727.6 1107.5 725.9 1116.2 723.2 1122.7C720.5 1129.3 716.9 1134.5 711.8 1139.1C706.6 1143.7 699.2 1147 692.2 1150.5C685.1 1154.1 677.5 1157.6 669.3 1160.3C661.1 1163.1 649.7 1167.4 643.1 1166.9C636.6 1166.3 636.6 1159.8 630.1 1157.1C623.5 1154.3 611.5 1153.5 603.9 1150.5C596.3 1147.5 589.8 1144.8 584.3 1139.1C578.9 1133.4 574 1124.9 571.2 1116.2C568.5 1107.5 568 1097.1 568 1086.8C568 1076.4 568.5 1062 571.2 1054.1Z" fill="#0070C0" stroke="#1F6FB8" stroke-width="3"/><path d="M479.7 903.6Q490.2 912.9 479.7 922.3Q469.3 912.9 479.7 903.6Z" fill="#2E75B6"/><path d="M647.4 879.4Q657.2 888.4 647.4 897.4Q637.6 888.4 647.4 879.4Z" fill="#2E75B6"/><ellipse cx="572.9" cy="964.9" rx="7.8" ry="6.9" fill="#2E75B6"/><ellipse cx="462.7" cy="1014.9" rx="7.8" ry="7.4" fill="#2E75B6"/><path d="M782 970Q793.1 990.4 782 1010.8Q770.9 990.4 782 970Z" fill="#2E75B6"/><path d="M721.6 1018Q732 1027 721.6 1036Q711.1 1027 721.6 1018Z" fill="#2E75B6"/><path d="M415 1049.2Q426.1 1063.9 415 1078.6Q403.9 1063.9 415 1049.2Z" fill="#2E75B6"/><path d="M542.2 1047.9Q553.3 1062.9 542.2 1078Q531 1062.9 542.2 1047.9Z" fill="#2E75B6"/><path d="M465 1085.8Q474.8 1094.3 465 1102.8Q455.2 1094.3 465 1085.8Z" fill="#2E75B6"/><path d="M539.5 1165.1Q549.3 1174.1 539.5 1183Q529.7 1174.1 539.5 1165.1Z" fill="#2E75B6"/><path d="M726.5 1184.7Q736.9 1193.7 726.5 1202.6Q716 1193.7 726.5 1184.7Z" fill="#2E75B6"/></g><g transform="translate(364 156.5)"><path d="M825.4 1842C834.3 1841.3 853 1845.8 866.1 1845.8C879.3 1845.8 890.3 1843.2 904.3 1842C918.2 1840.7 935.2 1838.4 950 1838.1C964.9 1837.8 980.5 1838.5 993.2 1840.2C1006 1841.9 1015.7 1844 1026.3 1848.3C1036.9 1852.6 1047.5 1859.3 1056.8 1866.1C1066.1 1872.9 1074.2 1880.1 1082.2 1889C1090.3 1897.9 1098.8 1909.8 1105.1 1919.5C1111.5 1929.2 1116.1 1937.7 1120.4 1947.5C1124.6 1957.2 1127.8 1967.8 1130.5 1978C1133.3 1988.2 1136.3 1997.5 1136.9 2008.5C1137.5 2019.5 1136.3 2032.6 1134.4 2044.1C1132.5 2055.5 1129.9 2065.7 1125.5 2077.1C1121 2088.6 1115.3 2101.3 1107.7 2112.7C1100 2124.2 1090.3 2136.5 1079.7 2145.8C1069.1 2155.1 1056.4 2162.3 1044.1 2168.7C1031.8 2175 1019.5 2179.9 1006 2183.9C992.4 2188 977.6 2190.9 962.7 2192.8C947.9 2194.7 931.8 2195.6 917 2195.4C902.1 2195.2 888.6 2193.9 873.7 2191.6C858.9 2189.2 843.2 2185.6 828 2181.4C812.7 2177.2 796.2 2171.2 782.2 2166.1C768.2 2161 754.7 2156 744.1 2150.9C733.5 2145.8 723.7 2142 718.6 2135.6C713.6 2129.3 716.5 2119.9 713.6 2112.7C710.6 2105.5 704 2102.1 700.9 2092.4C697.7 2082.7 695.8 2067 694.5 2054.3C693.2 2041.5 692.6 2028 693.2 2016.1C693.9 2004.3 695.3 1994.5 698.3 1983.1C701.3 1971.6 706.4 1958.9 711 1947.5C715.7 1936 720.3 1924.6 726.3 1914.4C732.2 1904.2 739 1894.5 746.6 1886.4C754.2 1878.4 763.6 1871.4 772 1866.1C780.5 1860.8 790.7 1857.4 797.5 1854.7C804.3 1851.9 808.1 1851.7 812.7 1849.6C817.4 1847.5 816.5 1842.6 825.4 1842Z" fill="none" stroke="#1F3864" stroke-width="8"/><path d="M845.8 2016.1C847.9 2007.2 848.7 1997.9 853.4 1990.7C858.1 1983.5 866.1 1977.3 873.7 1972.9C881.4 1968.4 890.3 1965.7 899.2 1964C908.1 1962.3 917.8 1961.7 927.1 1962.7C936.5 1963.8 946.6 1966.1 955.1 1970.4C963.6 1974.6 972.1 1980.5 978 1988.2C983.9 1995.8 988.8 2006.8 990.7 2016.1C992.6 2025.4 991.1 2035.2 989.4 2044.1C987.7 2053 984.1 2061.9 980.5 2069.5C976.9 2077.1 972.9 2084.3 967.8 2089.9C962.7 2095.4 957.2 2099.8 950 2102.6C942.8 2105.3 933.1 2106.2 924.6 2106.4C916.1 2106.6 907.6 2106.2 899.2 2103.8C890.7 2101.5 881.4 2097.3 873.7 2092.4C866.1 2087.5 858.9 2082.7 853.4 2074.6C847.9 2066.5 842 2053.8 840.7 2044.1C839.4 2034.3 843.7 2025 845.8 2016.1Z" fill="none" stroke="#1F3864" stroke-width="7"/><path d="M959.8 1896.5L960.3 1881.3M945.1 1871.1L960.3 1881.3L975.6 1869.8M883.6 1928.3L884.1 1913M868.8 1902.9L884.1 1913L899.8 1902.4M1025.9 1984.7L1038.7 1971.5M1031.5 1960.8L1038.7 1971.5L1053.9 1967.7M768.4 2028L782.9 2016M776 2004.1L782.9 2016L798.1 2017.3M1035.3 2093.1L1048.1 2082.1M1044.2 2068.1L1048.1 2082.1L1065.9 2082.1M818.5 2129.7L815.4 2113.9M797.6 2110.9L815.4 2113.9L825.1 2100.7M953.5 2168.6L954 2153.3M938.7 2143.2L954 2153.3L969.2 2142.4" fill="none" stroke="#000" stroke-width="7.5" stroke-linejoin="round" stroke-linecap="round"/><ellipse cx="810.8" cy="1933.8" rx="10.8" ry="6.6" fill="#000"/><ellipse cx="995.2" cy="1918.1" rx="10.8" ry="6.6" fill="#000"/><ellipse cx="1082.9" cy="2015.2" rx="10.8" ry="6.6" fill="#000"/><ellipse cx="775.2" cy="2064.8" rx="10.8" ry="7" fill="#000"/><ellipse cx="1009.2" cy="2130.9" rx="10.8" ry="7.6" fill="#000"/><ellipse cx="877.5" cy="2151.2" rx="5.1" ry="11.7" fill="#000"/></g><g transform="translate(0 0)"><path d="M825.4 1842C834.3 1841.3 853 1845.8 866.1 1845.8C879.3 1845.8 890.3 1843.2 904.3 1842C918.2 1840.7 935.2 1838.4 950 1838.1C964.9 1837.8 980.5 1838.5 993.2 1840.2C1006 1841.9 1015.7 1844 1026.3 1848.3C1036.9 1852.6 1047.5 1859.3 1056.8 1866.1C1066.1 1872.9 1074.2 1880.1 1082.2 1889C1090.3 1897.9 1098.8 1909.8 1105.1 1919.5C1111.5 1929.2 1116.1 1937.7 1120.4 1947.5C1124.6 1957.2 1127.8 1967.8 1130.5 1978C1133.3 1988.2 1136.3 1997.5 1136.9 2008.5C1137.5 2019.5 1136.3 2032.6 1134.4 2044.1C1132.5 2055.5 1129.9 2065.7 1125.5 2077.1C1121 2088.6 1115.3 2101.3 1107.7 2112.7C1100 2124.2 1090.3 2136.5 1079.7 2145.8C1069.1 2155.1 1056.4 2162.3 1044.1 2168.7C1031.8 2175 1019.5 2179.9 1006 2183.9C992.4 2188 977.6 2190.9 962.7 2192.8C947.9 2194.7 931.8 2195.6 917 2195.4C902.1 2195.2 888.6 2193.9 873.7 2191.6C858.9 2189.2 843.2 2185.6 828 2181.4C812.7 2177.2 796.2 2171.2 782.2 2166.1C768.2 2161 754.7 2156 744.1 2150.9C733.5 2145.8 723.7 2142 718.6 2135.6C713.6 2129.3 716.5 2119.9 713.6 2112.7C710.6 2105.5 704 2102.1 700.9 2092.4C697.7 2082.7 695.8 2067 694.5 2054.3C693.2 2041.5 692.6 2028 693.2 2016.1C693.9 2004.3 695.3 1994.5 698.3 1983.1C701.3 1971.6 706.4 1958.9 711 1947.5C715.7 1936 720.3 1924.6 726.3 1914.4C732.2 1904.2 739 1894.5 746.6 1886.4C754.2 1878.4 763.6 1871.4 772 1866.1C780.5 1860.8 790.7 1857.4 797.5 1854.7C804.3 1851.9 808.1 1851.7 812.7 1849.6C817.4 1847.5 816.5 1842.6 825.4 1842Z" fill="#A9D18E" stroke="#548235" stroke-width="7"/><path d="M845.8 2016.1C847.9 2007.2 848.7 1997.9 853.4 1990.7C858.1 1983.5 866.1 1977.3 873.7 1972.9C881.4 1968.4 890.3 1965.7 899.2 1964C908.1 1962.3 917.8 1961.7 927.1 1962.7C936.5 1963.8 946.6 1966.1 955.1 1970.4C963.6 1974.6 972.1 1980.5 978 1988.2C983.9 1995.8 988.8 2006.8 990.7 2016.1C992.6 2025.4 991.1 2035.2 989.4 2044.1C987.7 2053 984.1 2061.9 980.5 2069.5C976.9 2077.1 972.9 2084.3 967.8 2089.9C962.7 2095.4 957.2 2099.8 950 2102.6C942.8 2105.3 933.1 2106.2 924.6 2106.4C916.1 2106.6 907.6 2106.2 899.2 2103.8C890.7 2101.5 881.4 2097.3 873.7 2092.4C866.1 2087.5 858.9 2082.7 853.4 2074.6C847.9 2066.5 842 2053.8 840.7 2044.1C839.4 2034.3 843.7 2025 845.8 2016.1Z" fill="#00B050" stroke="#375623" stroke-width="6.5"/><path d="M944.4 1887.7L944.9 1872.5M929.7 1862.3L944.9 1872.5L960.2 1861M868.2 1919.5L868.7 1904.2M853.4 1894.1L868.7 1904.2L884.4 1893.6M1010.5 1975.9L1023.3 1962.7M1016.1 1952L1023.3 1962.7L1038.5 1958.9M753 2019.2L767.5 2007.2M760.6 1995.3L767.5 2007.2L782.7 2008.5M1019.9 2084.3L1032.7 2073.3M1028.8 2059.3L1032.7 2073.3L1050.5 2073.3M803.1 2120.9L800 2105.1M782.2 2102.1L800 2105.1L809.7 2091.9M938.1 2159.8L938.6 2144.5M923.3 2134.4L938.6 2144.5L953.8 2133.6" fill="none" stroke="#00B050" stroke-width="6.5" stroke-linejoin="round" stroke-linecap="round"/><ellipse cx="807.6" cy="1922" rx="10.8" ry="6.6" fill="#00FF66"/><ellipse cx="992" cy="1906.3" rx="10.8" ry="6.6" fill="#00FF66"/><ellipse cx="1079.7" cy="2003.4" rx="10.8" ry="6.6" fill="#00FF66"/><ellipse cx="772" cy="2053" rx="10.8" ry="7" fill="#00FF66"/><ellipse cx="1006" cy="2119.1" rx="10.8" ry="7.6" fill="#00FF66"/><ellipse cx="874.3" cy="2139.4" rx="5.1" ry="11.7" fill="#00FF66"/></g><g transform="matrix(0.8950 0 0 0.8000 315 1830.1)"><path d="M546.7 796.9C554.9 796.9 568.8 801.8 577.8 805.8C586.8 809.7 590.3 816.4 600.7 820.5C611 824.5 626.8 827.5 639.9 830.3C652.9 833 668.2 834.1 679.1 836.8C690 839.5 697.1 841.4 705.2 846.6C713.4 851.8 721 860.5 728.1 867.8C735.2 875.2 741.7 882.5 747.7 890.7C753.7 898.9 757.5 909.2 764.1 916.9C770.6 924.5 778.8 931.3 786.9 936.5C795.1 941.6 805.7 944.1 813.1 947.9C820.4 951.7 827.5 954.7 831 959.3C834.6 964 834.3 968.6 834.3 975.7C834.3 982.8 833.5 992.6 831 1001.8C828.6 1011.1 823.7 1022.5 819.6 1031.2C815.5 1040 809.8 1044.9 806.5 1054.1C803.3 1063.4 801.4 1075.9 800 1086.8C798.6 1097.7 799.5 1109.7 798.4 1119.5C797.3 1129.3 796.5 1136.9 793.5 1145.6C790.5 1154.3 786.9 1163.6 780.4 1171.8C773.9 1179.9 763 1187 754.2 1194.6C745.5 1202.3 734.6 1209.6 728.1 1217.5C721.6 1225.4 721 1235.8 715 1242C709 1248.3 701.4 1252.6 692.2 1255.1C682.9 1257.5 669.8 1257.5 659.5 1256.7C649.1 1255.9 637.7 1253.5 630.1 1250.2C622.4 1246.9 619.7 1241.5 613.7 1237.1C607.7 1232.8 601.2 1227.3 594.1 1224.1C587 1220.8 581 1218.1 571.2 1217.5C561.4 1217 546.7 1218.9 535.3 1220.8C523.9 1222.7 511.3 1227.3 502.6 1229C493.9 1230.6 487.9 1233 483 1230.6C478.1 1228.1 475.9 1220.8 473.2 1214.2C470.5 1207.7 468.8 1197.6 466.7 1191.4C464.5 1185.1 463.9 1181 460.1 1176.7C456.3 1172.3 452.5 1166.9 443.8 1165.2C435.1 1163.6 418.7 1165.7 407.8 1166.9C396.9 1168.1 385.8 1172.7 378.4 1172.4C371.1 1172.1 367.3 1169.7 363.7 1165.2C360.2 1160.8 358.6 1154.3 357.2 1145.6C355.8 1136.9 355.8 1123.3 355.6 1112.9C355.3 1102.6 357.7 1092.2 355.6 1083.5C353.4 1074.8 345.9 1068.3 342.5 1060.7C339.1 1053 335.6 1044.9 335.3 1037.8C335 1030.7 337.2 1023.9 340.8 1018.2C344.5 1012.5 352.3 1008.9 357.2 1003.5C362.1 998 367.5 992.3 370.3 985.5C373 978.7 373.8 973 373.5 962.6C373.3 952.3 370.3 935.4 368.6 923.4C367 911.4 363.5 899.4 363.7 890.7C364 882 366.2 876.6 370.3 871.1C374.3 865.7 379.2 861.3 388.2 858C397.2 854.8 412.7 853.1 424.2 851.5C435.6 849.9 446 851 456.9 848.2C467.8 845.5 479.7 840.1 489.5 835.2C499.3 830.3 509.2 823.7 515.7 818.8C522.2 813.9 523.6 809.4 528.8 805.8C533.9 802.1 538.6 796.9 546.7 796.9Z" fill="#DAE3F3" stroke="#3C64A8" stroke-width="3.2" stroke-linejoin="round"/><path d="M613.7 1237.1C615.9 1237.8 621.6 1240.3 626.8 1241C632 1241.8 641.8 1241.3 644.8 1241.4" fill="none" stroke="#3C64A8" stroke-width="2.9" stroke-linecap="round"/><path d="M571.2 1054.1C574 1046.2 577.8 1043.7 584.3 1039.4C590.8 1035.2 600.7 1030.8 610.5 1028.6C620.3 1026.4 632.2 1026.9 643.1 1026.3C654 1025.8 666.6 1023.5 675.8 1025.4C685.1 1027.3 692.7 1033 698.7 1037.8C704.7 1042.6 707.1 1047.6 711.8 1054.1C716.4 1060.7 723.7 1069.4 726.5 1077C729.2 1084.6 728.6 1092.2 728.1 1099.9C727.6 1107.5 725.9 1116.2 723.2 1122.7C720.5 1129.3 716.9 1134.5 711.8 1139.1C706.6 1143.7 699.2 1147 692.2 1150.5C685.1 1154.1 677.5 1157.6 669.3 1160.3C661.1 1163.1 649.7 1167.4 643.1 1166.9C636.6 1166.3 636.6 1159.8 630.1 1157.1C623.5 1154.3 611.5 1153.5 603.9 1150.5C596.3 1147.5 589.8 1144.8 584.3 1139.1C578.9 1133.4 574 1124.9 571.2 1116.2C568.5 1107.5 568 1097.1 568 1086.8C568 1076.4 568.5 1062 571.2 1054.1Z" fill="#8FAADC" stroke="#0F74C4" stroke-width="4.6"/><path d="M479.7 903.6Q490.2 912.9 479.7 922.3Q469.3 912.9 479.7 903.6Z" fill="#B4C7E7"/><path d="M647.4 879.4Q657.2 888.4 647.4 897.4Q637.6 888.4 647.4 879.4Z" fill="#B4C7E7"/><ellipse cx="572.9" cy="964.9" rx="7.8" ry="6.9" fill="#B4C7E7"/><ellipse cx="462.7" cy="1014.9" rx="7.8" ry="7.4" fill="#B4C7E7"/><path d="M782 970Q793.1 990.4 782 1010.8Q770.9 990.4 782 970Z" fill="#B4C7E7"/><path d="M721.6 1018Q732 1027 721.6 1036Q711.1 1027 721.6 1018Z" fill="#B4C7E7"/><path d="M415 1049.2Q426.1 1063.9 415 1078.6Q403.9 1063.9 415 1049.2Z" fill="#B4C7E7"/><path d="M542.2 1047.9Q553.3 1062.9 542.2 1078Q531 1062.9 542.2 1047.9Z" fill="#B4C7E7"/><path d="M465 1085.8Q474.8 1094.3 465 1102.8Q455.2 1094.3 465 1085.8Z" fill="#B4C7E7"/><path d="M539.5 1165.1Q549.3 1174.1 539.5 1183Q529.7 1174.1 539.5 1165.1Z" fill="#B4C7E7"/><path d="M726.5 1184.7Q736.9 1193.7 726.5 1202.6Q716 1193.7 726.5 1184.7Z" fill="#B4C7E7"/></g><g transform="translate(261.3 859.2)"><path d="M825.4 1842C834.3 1841.3 853 1845.8 866.1 1845.8C879.3 1845.8 890.3 1843.2 904.3 1842C918.2 1840.7 935.2 1838.4 950 1838.1C964.9 1837.8 980.5 1838.5 993.2 1840.2C1006 1841.9 1015.7 1844 1026.3 1848.3C1036.9 1852.6 1047.5 1859.3 1056.8 1866.1C1066.1 1872.9 1074.2 1880.1 1082.2 1889C1090.3 1897.9 1098.8 1909.8 1105.1 1919.5C1111.5 1929.2 1116.1 1937.7 1120.4 1947.5C1124.6 1957.2 1127.8 1967.8 1130.5 1978C1133.3 1988.2 1136.3 1997.5 1136.9 2008.5C1137.5 2019.5 1136.3 2032.6 1134.4 2044.1C1132.5 2055.5 1129.9 2065.7 1125.5 2077.1C1121 2088.6 1115.3 2101.3 1107.7 2112.7C1100 2124.2 1090.3 2136.5 1079.7 2145.8C1069.1 2155.1 1056.4 2162.3 1044.1 2168.7C1031.8 2175 1019.5 2179.9 1006 2183.9C992.4 2188 977.6 2190.9 962.7 2192.8C947.9 2194.7 931.8 2195.6 917 2195.4C902.1 2195.2 888.6 2193.9 873.7 2191.6C858.9 2189.2 843.2 2185.6 828 2181.4C812.7 2177.2 796.2 2171.2 782.2 2166.1C768.2 2161 754.7 2156 744.1 2150.9C733.5 2145.8 723.7 2142 718.6 2135.6C713.6 2129.3 716.5 2119.9 713.6 2112.7C710.6 2105.5 704 2102.1 700.9 2092.4C697.7 2082.7 695.8 2067 694.5 2054.3C693.2 2041.5 692.6 2028 693.2 2016.1C693.9 2004.3 695.3 1994.5 698.3 1983.1C701.3 1971.6 706.4 1958.9 711 1947.5C715.7 1936 720.3 1924.6 726.3 1914.4C732.2 1904.2 739 1894.5 746.6 1886.4C754.2 1878.4 763.6 1871.4 772 1866.1C780.5 1860.8 790.7 1857.4 797.5 1854.7C804.3 1851.9 808.1 1851.7 812.7 1849.6C817.4 1847.5 816.5 1842.6 825.4 1842Z" fill="#E2F0D9" stroke="#A9D18E" stroke-width="7"/><path d="M845.8 2016.1C847.9 2007.2 848.7 1997.9 853.4 1990.7C858.1 1983.5 866.1 1977.3 873.7 1972.9C881.4 1968.4 890.3 1965.7 899.2 1964C908.1 1962.3 917.8 1961.7 927.1 1962.7C936.5 1963.8 946.6 1966.1 955.1 1970.4C963.6 1974.6 972.1 1980.5 978 1988.2C983.9 1995.8 988.8 2006.8 990.7 2016.1C992.6 2025.4 991.1 2035.2 989.4 2044.1C987.7 2053 984.1 2061.9 980.5 2069.5C976.9 2077.1 972.9 2084.3 967.8 2089.9C962.7 2095.4 957.2 2099.8 950 2102.6C942.8 2105.3 933.1 2106.2 924.6 2106.4C916.1 2106.6 907.6 2106.2 899.2 2103.8C890.7 2101.5 881.4 2097.3 873.7 2092.4C866.1 2087.5 858.9 2082.7 853.4 2074.6C847.9 2066.5 842 2053.8 840.7 2044.1C839.4 2034.3 843.7 2025 845.8 2016.1Z" fill="#C5E0B4" stroke="#548235" stroke-width="6.5"/><path d="M944.4 1887.7L944.9 1872.5M929.7 1862.3L944.9 1872.5L960.2 1861M868.2 1919.5L868.7 1904.2M853.4 1894.1L868.7 1904.2L884.4 1893.6M1010.5 1975.9L1023.3 1962.7M1016.1 1952L1023.3 1962.7L1038.5 1958.9M753 2019.2L767.5 2007.2M760.6 1995.3L767.5 2007.2L782.7 2008.5M1019.9 2084.3L1032.7 2073.3M1028.8 2059.3L1032.7 2073.3L1050.5 2073.3M803.1 2120.9L800 2105.1M782.2 2102.1L800 2105.1L809.7 2091.9M938.1 2159.8L938.6 2144.5M923.3 2134.4L938.6 2144.5L953.8 2133.6" fill="none" stroke="#92D050" stroke-width="6.5" stroke-linejoin="round" stroke-linecap="round"/><ellipse cx="807.6" cy="1922" rx="10.8" ry="6.6" fill="#92D050"/><ellipse cx="992" cy="1906.3" rx="10.8" ry="6.6" fill="#92D050"/><ellipse cx="1079.7" cy="2003.4" rx="10.8" ry="6.6" fill="#92D050"/><ellipse cx="772" cy="2053" rx="10.8" ry="7" fill="#92D050"/><ellipse cx="1006" cy="2119.1" rx="10.8" ry="7.6" fill="#92D050"/><ellipse cx="874.3" cy="2139.4" rx="5.1" ry="11.7" fill="#92D050"/></g><g transform="translate(143.3 -406.6)"><path d="M1674.3 2695.9L1675.7 2677.3M1662.4 2666.6L1675.7 2677.3L1698.3 2667.9M1759.6 2730.5L1768.9 2713.2M1764.9 2699.9L1768.9 2713.2L1796.9 2713.2M1806.2 2781.1L1823.5 2771.8M1816.8 2751.8L1823.5 2771.8L1840.8 2779.8M1835.5 2853.1L1862.1 2847.7M1870.1 2834.4L1862.1 2847.7L1870.1 2865M1770.2 2948.9L1783.5 2960.9M1806.2 2948.9L1783.5 2960.9L1782.2 2976.9M1667.7 2988.9L1667.7 3011.5M1646.4 3012.9L1667.7 3011.5L1682.3 3019.5M1569.1 2968.9L1561.1 2988.9M1539.8 2987.6L1561.1 2988.9L1569.1 3004.9M1485.2 2903.7L1465.3 2914.3M1449.3 2901L1465.3 2914.3L1461.3 2929M1479.9 2794.5L1461.3 2789.1M1449.3 2770.5L1461.3 2789.1L1441.3 2801.1M1541.2 2723.9L1533.2 2709.2M1511.9 2707.9L1533.2 2709.2L1539.8 2689.3" fill="none" stroke="#F4B183" stroke-width="4.5" stroke-linejoin="round"/><path d="M1626.4 2694.6C1636.2 2694.7 1653 2694.8 1666.3 2695.9C1679.7 2697 1694.3 2698.1 1706.3 2701.2C1718.3 2704.3 1728.1 2708.6 1738.3 2714.6C1748.5 2720.5 1758.7 2729 1767.6 2737.2C1776.4 2745.4 1784 2754.5 1791.5 2763.8C1799.1 2773.1 1806.2 2784.2 1812.8 2793.1C1819.5 2802 1827.5 2810.4 1831.5 2817.1C1835.5 2823.8 1836.1 2826 1836.8 2833.1C1837.5 2840.2 1836.8 2850.8 1835.5 2859.7C1834.1 2868.6 1833 2877.9 1828.8 2886.3C1824.6 2894.8 1817.7 2901.9 1810.2 2910.3C1802.6 2918.8 1793.3 2928.5 1783.5 2937C1773.8 2945.4 1762.2 2953.8 1751.6 2960.9C1740.9 2968 1729.4 2974.9 1719.6 2979.6C1709.9 2984.2 1704.1 2987.1 1693 2988.9C1681.9 2990.7 1666.3 2990.9 1653 2990.2C1639.7 2989.6 1625.1 2988 1613.1 2984.9C1601.1 2981.8 1591.8 2977.8 1581.1 2971.6C1570.5 2965.4 1559.8 2955.6 1549.2 2947.6C1538.5 2939.6 1527 2931.2 1517.2 2923.6C1507.4 2916.1 1496.6 2910.8 1490.6 2902.3C1484.6 2893.9 1483 2884.6 1481.2 2873C1479.5 2861.5 1480.6 2844.2 1479.9 2833.1C1479.2 2822 1476.8 2813.5 1477.2 2806.4C1477.7 2799.3 1479 2797.1 1482.6 2790.5C1486.1 2783.8 1492.8 2774 1498.5 2766.5C1504.3 2758.9 1510.1 2752.1 1517.2 2745.2C1524.3 2738.3 1533.2 2731.2 1541.2 2725.2C1549.2 2719.2 1557.6 2713.4 1565.1 2709.2C1572.7 2705 1579.3 2702.2 1586.4 2699.9C1593.5 2697.6 1601.1 2696.3 1607.8 2695.4C1614.4 2694.5 1616.6 2694.5 1626.4 2694.6Z" fill="#FFF2CC" stroke="#FFD966" stroke-width="4.6"/><path d="M1594.4 2830.4C1597.1 2825.3 1602 2822 1607.8 2818.4C1613.5 2814.9 1621.1 2811.1 1629.1 2809.1C1637 2807.1 1646.4 2806.8 1655.7 2806.4C1665 2806.1 1677.4 2805 1685 2807C1692.5 2809 1695.6 2815 1701 2818.4C1706.3 2821.9 1713.2 2822.6 1717 2827.8C1720.7 2832.9 1723.2 2841.5 1723.6 2849.1C1724.1 2856.6 1722.5 2866.4 1719.6 2873C1716.7 2879.7 1712.5 2884.8 1706.3 2889C1700.1 2893.2 1691.2 2896.3 1682.3 2898.3C1673.4 2900.3 1662.4 2901.2 1653 2901C1643.7 2900.8 1634.4 2899.4 1626.4 2897C1618.4 2894.6 1610.4 2891.2 1605.1 2886.3C1599.8 2881.5 1596.7 2873.9 1594.4 2867.7C1592.2 2861.5 1591.8 2855.3 1591.8 2849.1C1591.8 2842.8 1591.8 2835.5 1594.4 2830.4Z" fill="#FFE699" stroke="#BF9000" stroke-width="5.2"/><ellipse cx="1616.3" cy="2737.2" rx="2.9" ry="5.6" fill="#BF9000"/><ellipse cx="1724.4" cy="2789.9" rx="6.4" ry="3.7" fill="#BF9000"/><ellipse cx="1517.2" cy="2838.9" rx="6.7" ry="3.7" fill="#BF9000"/><ellipse cx="1778.2" cy="2883.7" rx="5.9" ry="4" fill="#BF9000"/><ellipse cx="1579" cy="2940.4" rx="5.9" ry="3.7" fill="#BF9000"/><ellipse cx="1723.9" cy="2950.8" rx="5.9" ry="3.7" fill="#BF9000"/></g><g transform="translate(0 0)"><path d="M1727.8 1888.1C1739.1 1889 1750.5 1892 1763.2 1896.3C1775.9 1900.6 1790.9 1907.9 1804 1914C1817.2 1920.1 1830.4 1926 1842.2 1933.1C1854 1940.1 1863.9 1948.3 1874.8 1956.2C1885.7 1964.2 1897.1 1971.6 1907.5 1980.7C1918 1989.8 1931.1 2001.6 1937.5 2010.7C1943.8 2019.8 1943.4 2025.7 1945.6 2035.2C1947.9 2044.7 1952 2057 1951.1 2067.9C1950.2 2078.8 1945.6 2087.8 1940.2 2100.5C1934.7 2113.3 1927.5 2130 1918.4 2144.1C1909.3 2158.2 1897.5 2173.2 1885.7 2185C1873.9 2196.8 1861.2 2206.8 1847.6 2214.9C1834 2223.1 1820.4 2228.8 1804 2234C1787.7 2239.2 1767.7 2243.7 1749.6 2246.2C1731.4 2248.7 1710.5 2250.1 1695.1 2249C1679.7 2247.8 1669.7 2244.2 1657 2239.4C1644.3 2234.7 1632.5 2228.5 1618.8 2220.4C1605.2 2212.2 1588.9 2200.9 1575.3 2190.4C1561.7 2180 1548.3 2167.7 1537.1 2157.7C1526 2147.7 1514.7 2140.9 1508.6 2130.5C1502.4 2120.1 1502.4 2107.4 1500.4 2095.1C1498.3 2082.8 1497.7 2068.3 1496.3 2057C1494.9 2045.6 1492 2035.2 1492.2 2027C1492.4 2018.8 1493.3 2014.3 1497.7 2008C1502 2001.6 1509.2 1997.5 1518.1 1988.9C1526.9 1980.3 1539.4 1967.1 1550.8 1956.2C1562.1 1945.3 1574.8 1931.7 1586.2 1923.5C1597.5 1915.4 1607 1912 1618.8 1907.2C1630.6 1902.4 1644.3 1897.7 1657 1894.9C1669.7 1892.2 1683.3 1892 1695.1 1890.8C1706.9 1889.7 1716.4 1887.2 1727.8 1888.1Z" fill="#F4B183" stroke="#C55A11" stroke-width="5.8"/><path d="M1573.9 2057C1574.1 2052 1575 2047 1578 2043.4C1580.9 2039.7 1586.2 2037.2 1591.6 2035.2C1597.1 2033.1 1604.3 2030.9 1610.7 2031.1C1617 2031.3 1623.8 2033.6 1629.7 2036.5C1635.6 2039.5 1642 2043.6 1646.1 2048.8C1650.2 2054 1653.3 2062 1654.2 2067.9C1655.2 2073.8 1653.8 2080.1 1651.5 2084.2C1649.3 2088.3 1642.2 2088.7 1640.6 2092.4C1639 2096 1640.6 2100.5 1642 2106C1643.4 2111.4 1646.3 2120.5 1648.8 2125.1C1651.3 2129.6 1652.4 2132.8 1657 2133.2C1661.5 2133.7 1668.8 2129.8 1676 2127.8C1683.3 2125.7 1694.6 2120.5 1700.5 2121C1706.4 2121.4 1707.8 2128 1711.4 2130.5C1715.1 2133 1717.8 2135.3 1722.3 2135.9C1726.9 2136.6 1733.2 2136.4 1738.7 2134.6C1744.1 2132.8 1750.9 2128.9 1755 2125.1C1759.1 2121.2 1761.1 2117.3 1763.2 2111.4C1765.2 2105.5 1765 2095.6 1767.3 2089.7C1769.5 2083.8 1771.6 2079.7 1776.8 2076C1782 2072.4 1792.2 2069.7 1798.6 2067.9C1804.9 2066 1810.2 2063.8 1814.9 2065.1C1819.7 2066.5 1823.5 2069.2 1827.2 2076C1830.8 2082.8 1837.4 2098.7 1836.7 2106C1836 2113.3 1829 2116 1823.1 2119.6C1817.2 2123.2 1809 2125.7 1801.3 2127.8C1793.6 2129.8 1784.1 2130.7 1776.8 2131.9C1769.5 2133 1763.6 2133.5 1757.7 2134.6C1751.8 2135.7 1746.4 2136.2 1741.4 2138.7C1736.4 2141.2 1731.4 2145 1727.8 2149.6C1724.1 2154.1 1721.7 2160 1719.6 2165.9C1717.6 2171.8 1718.7 2180.2 1715.5 2185C1712.3 2189.7 1706.2 2192.5 1700.5 2194.5C1694.9 2196.5 1686.9 2198.4 1681.5 2197.2C1676 2196.1 1671.9 2192 1667.9 2187.7C1663.8 2183.4 1660.6 2176.8 1657 2171.4C1653.3 2165.9 1647.7 2159.5 1646.1 2155C1644.5 2150.5 1648.8 2148.2 1647.4 2144.1C1646.1 2140 1641.3 2135.9 1637.9 2130.5C1634.5 2125.1 1630.2 2116 1627 2111.4C1623.8 2106.9 1622.9 2105.5 1618.8 2103.3C1614.8 2101 1608 2100.5 1602.5 2097.8C1597.1 2095.1 1590.5 2091 1586.2 2086.9C1581.9 2082.8 1578.7 2078.3 1576.6 2073.3C1574.6 2068.3 1573.7 2062 1573.9 2057Z" fill="#C55A11" stroke="#843C0C" stroke-width="4.8" stroke-linejoin="round"/><ellipse cx="1725.9" cy="1928.4" rx="8.2" ry="3.5" fill="#FF0000" transform="rotate(30 1725.9 1928.4)"/><ellipse cx="1581.3" cy="1965.7" rx="7.5" ry="4.4" fill="#FF0000"/><ellipse cx="1648.3" cy="2006.6" rx="7.9" ry="4.4" fill="#FF0000"/><ellipse cx="1758.3" cy="1999" rx="8.2" ry="4.4" fill="#FF0000"/><ellipse cx="1806.2" cy="2040.6" rx="7.9" ry="4.1" fill="#FF0000"/><ellipse cx="1888.5" cy="2036.5" rx="4.1" ry="7.1" fill="#FF0000"/><ellipse cx="1697.3" cy="2069.2" rx="7.9" ry="4.4" fill="#FF0000"/><ellipse cx="1537.7" cy="2109.3" rx="7.5" ry="4.4" fill="#FF0000"/><ellipse cx="1897.4" cy="2113.3" rx="7.9" ry="4.6" fill="#FF0000"/><ellipse cx="1832.1" cy="2148.7" rx="7.9" ry="4.1" fill="#FF0000"/><ellipse cx="1621" cy="2157.7" rx="7.5" ry="4.1" fill="#FF0000"/><ellipse cx="1750.1" cy="2186.3" rx="7.9" ry="4.1" fill="#FF0000"/></g><g transform="translate(0 0)"><path d="M1674.3 2695.9L1675.7 2677.3M1662.4 2666.6L1675.7 2677.3L1698.3 2667.9M1759.6 2730.5L1768.9 2713.2M1764.9 2699.9L1768.9 2713.2L1796.9 2713.2M1806.2 2781.1L1823.5 2771.8M1816.8 2751.8L1823.5 2771.8L1840.8 2779.8M1835.5 2853.1L1862.1 2847.7M1870.1 2834.4L1862.1 2847.7L1870.1 2865M1770.2 2948.9L1783.5 2960.9M1806.2 2948.9L1783.5 2960.9L1782.2 2976.9M1667.7 2988.9L1667.7 3011.5M1646.4 3012.9L1667.7 3011.5L1682.3 3019.5M1569.1 2968.9L1561.1 2988.9M1539.8 2987.6L1561.1 2988.9L1569.1 3004.9M1485.2 2903.7L1465.3 2914.3M1449.3 2901L1465.3 2914.3L1461.3 2929M1479.9 2794.5L1461.3 2789.1M1449.3 2770.5L1461.3 2789.1L1441.3 2801.1M1541.2 2723.9L1533.2 2709.2M1511.9 2707.9L1533.2 2709.2L1539.8 2689.3" fill="none" stroke="#C55A11" stroke-width="4.7" stroke-linejoin="round"/><path d="M1626.4 2694.6C1636.2 2694.7 1653 2694.8 1666.3 2695.9C1679.7 2697 1694.3 2698.1 1706.3 2701.2C1718.3 2704.3 1728.1 2708.6 1738.3 2714.6C1748.5 2720.5 1758.7 2729 1767.6 2737.2C1776.4 2745.4 1784 2754.5 1791.5 2763.8C1799.1 2773.1 1806.2 2784.2 1812.8 2793.1C1819.5 2802 1827.5 2810.4 1831.5 2817.1C1835.5 2823.8 1836.1 2826 1836.8 2833.1C1837.5 2840.2 1836.8 2850.8 1835.5 2859.7C1834.1 2868.6 1833 2877.9 1828.8 2886.3C1824.6 2894.8 1817.7 2901.9 1810.2 2910.3C1802.6 2918.8 1793.3 2928.5 1783.5 2937C1773.8 2945.4 1762.2 2953.8 1751.6 2960.9C1740.9 2968 1729.4 2974.9 1719.6 2979.6C1709.9 2984.2 1704.1 2987.1 1693 2988.9C1681.9 2990.7 1666.3 2990.9 1653 2990.2C1639.7 2989.6 1625.1 2988 1613.1 2984.9C1601.1 2981.8 1591.8 2977.8 1581.1 2971.6C1570.5 2965.4 1559.8 2955.6 1549.2 2947.6C1538.5 2939.6 1527 2931.2 1517.2 2923.6C1507.4 2916.1 1496.6 2910.8 1490.6 2902.3C1484.6 2893.9 1483 2884.6 1481.2 2873C1479.5 2861.5 1480.6 2844.2 1479.9 2833.1C1479.2 2822 1476.8 2813.5 1477.2 2806.4C1477.7 2799.3 1479 2797.1 1482.6 2790.5C1486.1 2783.8 1492.8 2774 1498.5 2766.5C1504.3 2758.9 1510.1 2752.1 1517.2 2745.2C1524.3 2738.3 1533.2 2731.2 1541.2 2725.2C1549.2 2719.2 1557.6 2713.4 1565.1 2709.2C1572.7 2705 1579.3 2702.2 1586.4 2699.9C1593.5 2697.6 1601.1 2696.3 1607.8 2695.4C1614.4 2694.5 1616.6 2694.5 1626.4 2694.6Z" fill="#FFD966" stroke="#BF9000" stroke-width="4.3"/><path d="M1594.4 2830.4C1597.1 2825.3 1602 2822 1607.8 2818.4C1613.5 2814.9 1621.1 2811.1 1629.1 2809.1C1637 2807.1 1646.4 2806.8 1655.7 2806.4C1665 2806.1 1677.4 2805 1685 2807C1692.5 2809 1695.6 2815 1701 2818.4C1706.3 2821.9 1713.2 2822.6 1717 2827.8C1720.7 2832.9 1723.2 2841.5 1723.6 2849.1C1724.1 2856.6 1722.5 2866.4 1719.6 2873C1716.7 2879.7 1712.5 2884.8 1706.3 2889C1700.1 2893.2 1691.2 2896.3 1682.3 2898.3C1673.4 2900.3 1662.4 2901.2 1653 2901C1643.7 2900.8 1634.4 2899.4 1626.4 2897C1618.4 2894.6 1610.4 2891.2 1605.1 2886.3C1599.8 2881.5 1596.7 2873.9 1594.4 2867.7C1592.2 2861.5 1591.8 2855.3 1591.8 2849.1C1591.8 2842.8 1591.8 2835.5 1594.4 2830.4Z" fill="#BF9000" stroke="#7F6000" stroke-width="4.2"/><ellipse cx="1616.3" cy="2737.2" rx="2.9" ry="5.6" fill="#4A5572"/><ellipse cx="1724.4" cy="2789.9" rx="6.4" ry="3.7" fill="#4A5572"/><ellipse cx="1517.2" cy="2838.9" rx="6.7" ry="3.7" fill="#4A5572"/><ellipse cx="1778.2" cy="2883.7" rx="5.9" ry="4" fill="#4A5572"/><ellipse cx="1579" cy="2940.4" rx="5.9" ry="3.7" fill="#4A5572"/><ellipse cx="1723.9" cy="2950.8" rx="5.9" ry="3.7" fill="#4A5572"/></g><text x="880" y="3150.5" font-size="83.2" fill="#000" text-anchor="start">Ambiguous</text></g>
<g id="results"><g fill="none" stroke="#000" stroke-width="1.4" stroke-linejoin="round"><path id="sp0" d="M2487.7 2004.4l1.5 7.3l1.5 -4.3l1.5 5.9l1.5 -3l1.5 -0.8l1.5 -7.1l1.5 -1.2l1.5 -9.2l1.5 1.3l1.5 -2.5l1.5 11.2l1.5 2.2l1.5 10.6l1.5 0l1.5 7.1l1.5 -2.8l1.5 6.8l1.5 -2.3l1.5 8.7l1.5 -5.1l1.5 -0.4l1.5 -9.2l1.5 1.9l1.5 -9.4l1.5 5l1.5 -3.4l1.5 8l1.5 -3.7l1.5 5.3l1.5 -8.4l1.5 2.1l1.5 -10.6l1.5 -0.8l1.5 -8.9l1.5 0l1.5 -12.1l1.5 -4.3l1.5 -12.2l1.5 9l1.5 9l1.5 19.5l1.5 -22.1l1.5 -11.7l1.5 -21.9l1.5 -14.9l1.5 -1.7l1.5 8.2l1.5 0.4l1.5 7.3l1.5 -1.4l1.5 9.8l1.5 -1.5l1.5 7.3l1.5 -0.1l1.5 9l1.5 1.4l1.5 10.1l1.5 -1.1l1.5 9.8l1.5 2.6l1.5 8.3l1.5 1l1.5 3l1.5 -6.2l1.5 0.5l1.5 -5.5l1.5 2.2l1.5 -7.8l1.5 4.6l1.5 -5.2l1.5 4.5l1.5 -5.8l1.5 6l1.5 -6.9l1.5 5.2l1.5 -7.2l1.5 4.1l1.5 -5.7l1.5 2.8l1.5 -5.2l1.5 4.7l1.5 -3.9l1.5 6.6l1.5 -5.6l1.5 -0.3l1.5 -30.7l1.5 -18.7l1.5 7.8l1.5 38.5l1.5 -3.7l1.5 1.9l1.5 -8.6l1.5 1.7l1.5 -11.7l1.5 5l1.5 -6.5l1.5 2.6l1.5 -5.3l1.5 2l1.5 -7.7l1.5 3.7l1.5 -9.8l1.5 2.7l1.5 -8.2l1.5 9.6l1.5 5.1l1.5 14.8l1.5 -2l1.5 7.2l1.5 -6.7l1.5 7l1.5 2.9l1.5 14.1l1.5 0.1l1.5 1.8l1.5 -6.4l1.5 3l1.5 -6.6l1.5 3.9l1.5 -9.5l1.5 1.5l1.5 -8.1l1.5 4.5l1.5 -3.2l1.5 4.6l1.5 -2.4l1.5 8.2l1.5 -13.2l1.5 -2.4l1.5 -13.3l1.5 -1.4l1.5 -12.2l1.5 1l1.5 -8.1l1.5 -0.1l1.5 1.5l1.5 11.9l1.5 1l1.5 11.7l1.5 -0.9l1.5 5l1.5 -12.5l1.5 -0.9l1.5 -12.5l1.5 -0.4l1.5 -14.1l1.5 1.1l1.5 4.2l1.5 14.8l1.5 -4.2l1.5 -3.7l1.5 -15.9l1.5 2.1l1.5 5.4l1.5 17.4l1.5 8.3l1.5 9.8l1.5 -0.7l1.5 11.6l1.5 0.8l1.5 7.9l1.5 1.6l1.5 10.8l1.5 -2.1l1.5 3.8l1.5 -7.6l1.5 1.6l1.5 -8.5l1.5 3.3l1.5 -15.4l1.5 -6.9l1.5 -19l1.5 -8.6l1.5 -7.1l1.5 12.9l1.5 0.4l1.5 14.8l1.5 2.7l1.5 12.6l1.5 1.5l1.5 15.4l1.5 3.8l1.5 13.8l1.5 4.5l1.5 8.5l1.5 -4.5l1.5 7.7l1.5 -3.9l1.5 7l1.5 -8.2l1.5 1.6l1.5 -8.2l1.5 0.8l1.5 -13.8l1.5 -7.9l1.5 -15.6l1.5 -6.3l1.5 -16.7l1.5 4.6l1.5 3.9l1.5 15.4l1.5 1.6l1.5 8.9l1.5 -12.7l1.5 1.6l1.5 -9.4l1.5 -1.6l1.5 -9.2l1.5 -1l1.5 -8.8l1.5 1.9l1.5 -12.2l1.5 -14.4l1.5 -20.7l1.5 -9.2l1.5 11.5l1.5 21.4l1.5 11.2l1.5 23.8l1.5 16.4l1.5 24.6l1.5 3.3l1.5 14.9l1.5 -0.5l1.5 14.6l1.5 -1.6l1.5 7.2l1.5 -2l1.5 7.5l1.5 -2.6l1.5 5.7l1.5 -3.7l1.5 5.9l1.5 -5.4l1.5 7.1l1.5 -6.8l1.5 4.8l1.5 -3.6l1.5 8.8l1.5 -3.6l1.5 6.9l1.5 -5.2"/><use href="#sp0" y="-2.4" opacity="0.75"/><use href="#sp0" y="2.4" opacity="0.75"/></g><g fill="none" stroke="#000" stroke-width="1.4" stroke-linejoin="round"><path id="sp1" d="M2902.6 1986.7l1.5 6.7l1.5 -1.8l1.5 6.9l1.5 -3.3l1.5 8l1.5 -7.6l1.5 0.3l1.5 -8.3l1.5 -1.3l1.5 -1.1l1.5 11.2l1.5 3.1l1.5 9.1l1.5 1.9l1.5 8.8l1.5 -2.1l1.5 6.3l1.5 -4.2l1.5 8.4l1.5 -4l1.5 2.6l1.5 -8.8l1.5 4.6l1.5 -9.9l1.5 2.6l1.5 -7.4l1.5 2.2l1.5 -4.5l1.5 4.6l1.5 -5.1l1.5 2.6l1.5 -5.6l1.5 4.2l1.5 -14.3l1.5 -6.4l1.5 -15l1.5 -5.8l1.5 7.9l1.5 16.9l1.5 2.1l1.5 -8.2l1.5 -18l1.5 -10.5l1.5 -17.4l1.5 -9.9l1.5 -14.1l1.5 9.4l1.5 2.3l1.5 10.9l1.5 -3.3l1.5 10.5l1.5 -2.1l1.5 8.8l1.5 -0.6l1.5 9.1l1.5 -2.7l1.5 12.4l1.5 1.2l1.5 9.7l1.5 -1.2l1.5 10.7l1.5 1.1l1.5 6.5l1.5 -5.3l1.5 6.7l1.5 -5.6l1.5 7.1l1.5 -7.3l1.5 6.8l1.5 -8.4l1.5 3.3l1.5 -6.7l1.5 3.2l1.5 -6.6l1.5 5.3l1.5 -8.1l1.5 2.5l1.5 -3.6l1.5 7.1l1.5 -5.7l1.5 5l1.5 -4.6l1.5 5.8l1.5 -13.8l1.5 -13l1.5 -18.9l1.5 -10.7l1.5 6.1l1.5 33.5l1.5 5.4l1.5 0.9l1.5 -9.8l1.5 0.2l1.5 -10.1l1.5 -0.1l1.5 -5.1l1.5 3.2l1.5 -6l1.5 4.5l1.5 -7.9l1.5 3.5l1.5 -8.6l1.5 2.3l1.5 -8.2l1.5 8.8l1.5 1.6l1.5 14.5l1.5 2.9l1.5 11.3l1.5 1.7l1.5 8.5l1.5 0.4l1.5 12.5l1.5 -1.8l1.5 0.9l1.5 -8.3l1.5 1.3l1.5 -10.6l1.5 2l1.5 -6.8l1.5 3.4l1.5 -7.6l1.5 3.9l1.5 -6.5l1.5 3l1.5 -8.9l1.5 1.8l1.5 -9.5l1.5 3.2l1.5 -9.1l1.5 -1.6l1.5 -7.7l1.5 0.5l1.5 -9.3l1.5 0.5l1.5 0.2l1.5 10.2l1.5 -0.1l1.5 10.6l1.5 -1.3l1.5 2.9l1.5 -11.9l1.5 -0.4l1.5 -12l1.5 1l1.5 -12.4l1.5 2.2l1.5 -0.5l1.5 11.9l1.5 -8l1.5 -3.3l1.5 -11.9l1.5 11l1.5 7.9l1.5 15.8l1.5 3.7l1.5 11.6l1.5 1.5l1.5 8.4l1.5 0l1.5 10.9l1.5 -2.1l1.5 8.1l1.5 -5.3l1.5 7.8l1.5 -3.1l1.5 3l1.5 -15.3l1.5 -4.6l1.5 -15.7l1.5 -5.1l1.5 -14.3l1.5 -5.6l1.5 -2.8l1.5 12.8l1.5 4.3l1.5 11.1l1.5 2l1.5 12l1.5 3.7l1.5 11.1l1.5 2.7l1.5 12.6l1.5 2.4l1.5 13.3l1.5 -1.8l1.5 7.5l1.5 -1.2l1.5 7.5l1.5 -11.5l1.5 -1.5l1.5 -12.9l1.5 -3.6l1.5 -14l1.5 -1.8l1.5 -14.2l1.5 -3.2l1.5 -11.6l1.5 4.3l1.5 6.4l1.5 15.9l1.5 -8.2l1.5 3.1l1.5 -9.8l1.5 2.6l1.5 -9.3l1.5 -1.1l1.5 -13.7l1.5 -2.6l1.5 -13.9l1.5 -2.6l1.5 -16.4l1.5 -6.8l1.5 -13.5l1.5 17.1l1.5 6.7l1.5 16.2l1.5 15l1.5 24.5l1.5 14l1.5 24.9l1.5 -0.1l1.5 12.6l1.5 -1.5l1.5 11.1l1.5 1.4l1.5 9.5l1.5 -3.2l1.5 7l1.5 -3.9l1.5 9.7l1.5 -5l1.5 6.1l1.5 -2.6l1.5 6.6l1.5 -3.6l1.5 8l1.5 -5.7l1.5 6.7l1.5 -6.4"/><use href="#sp1" y="-2.4" opacity="0.75"/><use href="#sp1" y="2.4" opacity="0.75"/></g><g fill="none" stroke="#000" stroke-width="1.4" stroke-linejoin="round"><path id="sp2" d="M3320.5 1971.3l1.5 11.2l1.5 -0.4l1.5 9.6l1.5 -5.3l1.5 1l1.5 -9.3l1.5 1l1.5 -10.5l1.5 2.9l1.5 1.1l1.5 12.7l1.5 -0.3l1.5 12.1l1.5 1.5l1.5 7.8l1.5 -2.1l1.5 6.9l1.5 -1.1l1.5 9.6l1.5 -6.6l1.5 2.3l1.5 -7.4l1.5 3.1l1.5 -6.4l1.5 2.7l1.5 -6.4l1.5 4.6l1.5 -2.7l1.5 5.5l1.5 -4.7l1.5 8.7l1.5 -9.5l1.5 1.8l1.5 -11.9l1.5 2.2l1.5 -10.4l1.5 -1.2l1.5 -13.7l1.5 -4.2l1.5 0.8l1.5 13.6l1.5 -1.4l1.5 -15.6l1.5 -26.5l1.5 -16l1.5 -19.7l1.5 11.5l1.5 2.3l1.5 11.2l1.5 1.3l1.5 8.8l1.5 -1.9l1.5 7.6l1.5 -0.6l1.5 10.1l1.5 0.3l1.5 10.7l1.5 -0.9l1.5 10.4l1.5 1.8l1.5 11.6l1.5 0.3l1.5 10.5l1.5 -5.1l1.5 5.5l1.5 -3.2l1.5 4.5l1.5 -2l1.5 1.6l1.5 -8l1.5 4l1.5 -7.7l1.5 2l1.5 -8.2l1.5 4.5l1.5 -5.7l1.5 2.8l1.5 -4l1.5 6.2l1.5 -6.6l1.5 3.5l1.5 -3.8l1.5 4.2l1.5 -3.2l1.5 5.6l1.5 -4.7l1.5 -26.5l1.5 -37.7l1.5 47.9l1.5 11.6l1.5 0.7l1.5 -8.6l1.5 1.1l1.5 -8.2l1.5 1.9l1.5 -6.1l1.5 1.2l1.5 -5.6l1.5 3.5l1.5 -6.1l1.5 3.1l1.5 -9.9l1.5 2.4l1.5 -8.9l1.5 11.5l1.5 3.4l1.5 14.9l1.5 2l1.5 -1.3l1.5 -8.6l1.5 4.2l1.5 3.7l1.5 17.6l1.5 2.8l1.5 11.1l1.5 -9.6l1.5 2.6l1.5 -7.2l1.5 1.2l1.5 -8.1l1.5 2.2l1.5 -4.8l1.5 8.7l1.5 -2.9l1.5 6.3l1.5 -12.6l1.5 0.1l1.5 -13.6l1.5 -1.3l1.5 -11.8l1.5 0.7l1.5 -10.8l1.5 -2.4l1.5 -11l1.5 5.2l1.5 1.7l1.5 13.1l1.5 1.1l1.5 11.1l1.5 -1l1.5 12.3l1.5 -14.4l1.5 -3l1.5 -14.7l1.5 -1.8l1.5 -13.8l1.5 5.5l1.5 -1.2l1.5 11l1.5 -4.1l1.5 -3.2l1.5 -15.3l1.5 -4.5l1.5 8.5l1.5 17.9l1.5 7.7l1.5 16.9l1.5 -2.6l1.5 5.4l1.5 -1.4l1.5 7.7l1.5 1.7l1.5 8.8l1.5 0l1.5 11.5l1.5 2.9l1.5 -1.8l1.5 -10.6l1.5 -5.6l1.5 -11.1l1.5 -5.2l1.5 -16.8l1.5 -5.9l1.5 -15.1l1.5 9.4l1.5 1.5l1.5 14.7l1.5 2.2l1.5 11.5l1.5 1.8l1.5 10.5l1.5 1.9l1.5 15.6l1.5 5.3l1.5 16.3l1.5 -2.7l1.5 7.7l1.5 -1.5l1.5 6.7l1.5 -9.1l1.5 0l1.5 -9.2l1.5 2.8l1.5 -9.5l1.5 -5.8l1.5 -14.2l1.5 -7.9l1.5 -16.7l1.5 -3.6l1.5 -0.8l1.5 19.9l1.5 6.5l1.5 2.4l1.5 -9.6l1.5 3.5l1.5 -9.4l1.5 2.3l1.5 -12.3l1.5 -4.3l1.5 -13l1.5 -4.4l1.5 -18l1.5 -6l1.5 -18.3l1.5 7.3l1.5 2.4l1.5 14.5l1.5 7.5l1.5 23.2l1.5 15.4l1.5 25.8l1.5 11.2l1.5 11.9l1.5 3.1l1.5 11.7l1.5 0.2l1.5 13l1.5 -3.1l1.5 8.2l1.5 -1.8l1.5 5.9l1.5 -3.4l1.5 7.7l1.5 -6.2l1.5 7.7l1.5 -5.6l1.5 6.9l1.5 -5.5l1.5 7.7l1.5 -1.9l1.5 7.1"/><use href="#sp2" y="-2.4" opacity="0.75"/><use href="#sp2" y="2.4" opacity="0.75"/></g><g fill="none" stroke="#000" stroke-width="1.4" stroke-linejoin="round"><path id="sp3" d="M3739.3 1983.5l1.5 7.8l1.5 -4l1.5 8.6l1.5 -2.8l1.5 5.6l1.5 -10.2l1.5 0.7l1.5 -9.5l1.5 -1.2l1.5 -1.8l1.5 10l1.5 1l1.5 8.8l1.5 0.5l1.5 8.8l1.5 -4.1l1.5 5.8l1.5 -3.2l1.5 5.2l1.5 -3l1.5 5.8l1.5 -4.6l1.5 2.1l1.5 -7.1l1.5 4.1l1.5 -6.3l1.5 4.5l1.5 -4.1l1.5 5.2l1.5 -4.9l1.5 5l1.5 -4.7l1.5 2.8l1.5 -17.1l1.5 -4.9l1.5 -13l1.5 -3.5l1.5 -13.6l1.5 7.8l1.5 15.6l1.5 8.7l1.5 -19.8l1.5 -10.9l1.5 -19.4l1.5 -8.1l1.5 -16.1l1.5 9.8l1.5 2.5l1.5 11.4l1.5 0.6l1.5 8.3l1.5 -3.1l1.5 9.7l1.5 -2.5l1.5 9.7l1.5 -0.6l1.5 11.6l1.5 -1.8l1.5 12.6l1.5 0.5l1.5 8.9l1.5 -1.1l1.5 6.8l1.5 -3.2l1.5 6.4l1.5 -2.9l1.5 5.1l1.5 -6.6l1.5 3.1l1.5 -6.6l1.5 4.6l1.5 -6.5l1.5 4.3l1.5 -7.5l1.5 3l1.5 -3.5l1.5 6.7l1.5 -5.3l1.5 5.2l1.5 -4.4l1.5 4.7l1.5 -5.8l1.5 4.3l1.5 -13.3l1.5 -1.8l1.5 -12.5l1.5 -0.2l1.5 -1.4l1.5 27.1l1.5 2.2l1.5 -1.1l1.5 -10.8l1.5 3.7l1.5 -11.9l1.5 0.2l1.5 -8.5l1.5 1.1l1.5 -4.9l1.5 5.9l1.5 -7l1.5 2.5l1.5 -8.1l1.5 2.3l1.5 -8.4l1.5 4.5l1.5 0.3l1.5 12.8l1.5 1l1.5 10.3l1.5 1.7l1.5 10.7l1.5 1.4l1.5 8.1l1.5 0.8l1.5 7.1l1.5 -11.7l1.5 1.1l1.5 -12.3l1.5 1.2l1.5 -8.9l1.5 11.2l1.5 0.6l1.5 6.5l1.5 -8.8l1.5 0.1l1.5 -8.2l1.5 -0.8l1.5 -8.5l1.5 0.9l1.5 -8.5l1.5 -0.2l1.5 -8.5l1.5 -1.5l1.5 -7.3l1.5 -0.2l1.5 -1.4l1.5 9.7l1.5 0.1l1.5 11.4l1.5 -3.9l1.5 0.5l1.5 -9.9l1.5 2.2l1.5 -8.3l1.5 -1.5l1.5 -9.9l1.5 9.9l1.5 1.8l1.5 4.6l1.5 -13.6l1.5 -1.6l1.5 -5l1.5 16.6l1.5 8.4l1.5 16.7l1.5 0.8l1.5 -1.4l1.5 -7.8l1.5 -1.5l1.5 1.6l1.5 11.6l1.5 1l1.5 13.7l1.5 1.5l1.5 11.8l1.5 -12.4l1.5 0.8l1.5 -8l1.5 -1.2l1.5 -7.9l1.5 -1.4l1.5 -15.9l1.5 -2.1l1.5 -13.5l1.5 11.4l1.5 2.7l1.5 13.4l1.5 3.4l1.5 3.2l1.5 -6.5l1.5 3.6l1.5 -6.6l1.5 12.7l1.5 6.4l1.5 15.3l1.5 5.1l1.5 17.3l1.5 -2.6l1.5 0.9l1.5 -10l1.5 4.4l1.5 -11.8l1.5 -5.3l1.5 -11.9l1.5 -5.1l1.5 -13.9l1.5 -2.7l1.5 -14.5l1.5 12.3l1.5 3.7l1.5 11.3l1.5 -9.1l1.5 2.3l1.5 -9.6l1.5 3l1.5 -8.5l1.5 3l1.5 -10l1.5 0.5l1.5 -10.5l1.5 -7.3l1.5 -19l1.5 -7.3l1.5 -15.7l1.5 16.5l1.5 6.4l1.5 15.6l1.5 9.4l1.5 21.6l1.5 12.4l1.5 22.7l1.5 7.5l1.5 12.1l1.5 1.2l1.5 12l1.5 -0.2l1.5 9.1l1.5 -0.2l1.5 4.5l1.5 -2.8l1.5 7.6l1.5 -1.6l1.5 3.7l1.5 -0.9l1.5 5.9l1.5 -3.5l1.5 7.2l1.5 -4.1l1.5 7.9l1.5 -2.5l1.5 5.7"/><use href="#sp3" y="-2.4" opacity="0.75"/><use href="#sp3" y="2.4" opacity="0.75"/></g><g fill="none" stroke="#87CEFA" stroke-width="1.4" stroke-linejoin="round"><path id="sp4" d="M2487.7 2388.4l1.5 7.3l1.5 -4.3l1.5 5.9l1.5 -3l1.5 -0.8l1.5 -7.1l1.5 -1.2l1.5 -9.2l1.5 1.3l1.5 -2.5l1.5 11.2l1.5 2.2l1.5 10.6l1.5 0l1.5 7.1l1.5 -2.8l1.5 6.8l1.5 -2.3l1.5 8.7l1.5 -5.1l1.5 -0.4l1.5 -9.2l1.5 1.9l1.5 -9.4l1.5 5l1.5 -3.4l1.5 8l1.5 -3.7l1.5 5.3l1.5 -8.4l1.5 2.1l1.5 -10.6l1.5 -0.8l1.5 -8.9l1.5 0l1.5 -12.1l1.5 -4.3l1.5 -12.2l1.5 9l1.5 9l1.5 19.5l1.5 -22.1l1.5 -11.7l1.5 -21.9l1.5 -14.9l1.5 -1.7l1.5 8.2l1.5 0.4l1.5 7.3l1.5 -1.4l1.5 9.8l1.5 -1.5l1.5 7.3l1.5 -0.1l1.5 9l1.5 1.4l1.5 10.1l1.5 -1.1l1.5 9.8l1.5 2.6l1.5 8.3l1.5 1l1.5 3l1.5 -6.2l1.5 0.5l1.5 -5.5l1.5 2.2l1.5 -7.8l1.5 4.6l1.5 -5.2l1.5 4.5l1.5 -5.8l1.5 6l1.5 -6.9l1.5 5.2l1.5 -7.2l1.5 4.1l1.5 -5.7l1.5 2.8l1.5 -5.2l1.5 4.7l1.5 -3.9l1.5 6.6l1.5 -5.6l1.5 -0.3l1.5 -30.7l1.5 -18.7l1.5 7.8l1.5 38.5l1.5 -3.7l1.5 1.9l1.5 -8.6l1.5 1.7l1.5 -11.7l1.5 5l1.5 -6.5l1.5 2.6l1.5 -5.3l1.5 2l1.5 -7.7l1.5 3.7l1.5 -9.8l1.5 2.7l1.5 -8.2l1.5 9.6l1.5 5.1l1.5 14.8l1.5 -2l1.5 7.2l1.5 -6.7l1.5 7l1.5 2.9l1.5 14.1l1.5 0.1l1.5 1.8l1.5 -6.4l1.5 3l1.5 -6.6l1.5 3.9l1.5 -9.5l1.5 1.5l1.5 -8.1l1.5 4.5l1.5 -3.2l1.5 4.6l1.5 -2.4l1.5 8.2l1.5 -13.2l1.5 -2.4l1.5 -13.3l1.5 -1.4l1.5 -12.2l1.5 1l1.5 -8.1l1.5 -0.1l1.5 1.5l1.5 11.9l1.5 1l1.5 11.7l1.5 -0.9l1.5 5l1.5 -12.5l1.5 -0.9l1.5 -12.5l1.5 -0.4l1.5 -14.1l1.5 1.1l1.5 4.2l1.5 14.8l1.5 -4.2l1.5 -3.7l1.5 -15.9l1.5 2.1l1.5 5.4l1.5 17.4l1.5 8.3l1.5 9.8l1.5 -0.7l1.5 11.6l1.5 0.8l1.5 7.9l1.5 1.6l1.5 10.8l1.5 -2.1l1.5 3.8l1.5 -7.6l1.5 1.6l1.5 -8.5l1.5 3.3l1.5 -15.4l1.5 -6.9l1.5 -19l1.5 -8.6l1.5 -7.1l1.5 12.9l1.5 0.4l1.5 14.8l1.5 2.7l1.5 12.6l1.5 1.5l1.5 15.4l1.5 3.8l1.5 13.8l1.5 4.5l1.5 8.5l1.5 -4.5l1.5 7.7l1.5 -3.9l1.5 7l1.5 -8.2l1.5 1.6l1.5 -8.2l1.5 0.8l1.5 -13.8l1.5 -7.9l1.5 -15.6l1.5 -6.3l1.5 -16.7l1.5 4.6l1.5 3.9l1.5 15.4l1.5 1.6l1.5 8.9l1.5 -12.7l1.5 1.6l1.5 -9.4l1.5 -1.6l1.5 -9.2l1.5 -1l1.5 -8.8l1.5 1.9l1.5 -12.2l1.5 -14.4l1.5 -20.7l1.5 -9.2l1.5 11.5l1.5 21.4l1.5 11.2l1.5 23.8l1.5 16.4l1.5 24.6l1.5 3.3l1.5 14.9l1.5 -0.5l1.5 14.6l1.5 -1.6l1.5 7.2l1.5 -2l1.5 7.5l1.5 -2.6l1.5 5.7l1.5 -3.7l1.5 5.9l1.5 -5.4l1.5 7.1l1.5 -6.8l1.5 4.8l1.5 -3.6l1.5 8.8l1.5 -3.6l1.5 6.9l1.5 -5.2"/><use href="#sp4" y="-2.4" opacity="0.75"/><use href="#sp4" y="2.4" opacity="0.75"/></g><g fill="none" stroke="#F0E98C" stroke-width="1.4" stroke-linejoin="round"><path id="sp5" d="M2902.6 2378.2l1.5 6.7l1.5 -1.8l1.5 6.9l1.5 -3.3l1.5 8l1.5 -7.6l1.5 0.3l1.5 -8.3l1.5 -1.3l1.5 -1.1l1.5 11.2l1.5 3.1l1.5 9.1l1.5 1.9l1.5 8.8l1.5 -2.1l1.5 6.3l1.5 -4.2l1.5 8.4l1.5 -4l1.5 2.6l1.5 -8.8l1.5 4.6l1.5 -9.9l1.5 2.6l1.5 -7.4l1.5 2.2l1.5 -4.5l1.5 4.6l1.5 -5.1l1.5 2.6l1.5 -5.6l1.5 4.2l1.5 -14.3l1.5 -6.4l1.5 -15l1.5 -5.8l1.5 7.9l1.5 16.9l1.5 2.1l1.5 -8.2l1.5 -18l1.5 -10.5l1.5 -17.4l1.5 -9.9l1.5 -14.1l1.5 9.4l1.5 2.3l1.5 10.9l1.5 -3.3l1.5 10.5l1.5 -2.1l1.5 8.8l1.5 -0.6l1.5 9.1l1.5 -2.7l1.5 12.4l1.5 1.2l1.5 9.7l1.5 -1.2l1.5 10.7l1.5 1.1l1.5 6.5l1.5 -5.3l1.5 6.7l1.5 -5.6l1.5 7.1l1.5 -7.3l1.5 6.8l1.5 -8.4l1.5 3.3l1.5 -6.7l1.5 3.2l1.5 -6.6l1.5 5.3l1.5 -8.1l1.5 2.5l1.5 -3.6l1.5 7.1l1.5 -5.7l1.5 5l1.5 -4.6l1.5 5.8l1.5 -13.8l1.5 -13l1.5 -18.9l1.5 -10.7l1.5 6.1l1.5 33.5l1.5 5.4l1.5 0.9l1.5 -9.8l1.5 0.2l1.5 -10.1l1.5 -0.1l1.5 -5.1l1.5 3.2l1.5 -6l1.5 4.5l1.5 -7.9l1.5 3.5l1.5 -8.6l1.5 2.3l1.5 -8.2l1.5 8.8l1.5 1.6l1.5 14.5l1.5 2.9l1.5 11.3l1.5 1.7l1.5 8.5l1.5 0.4l1.5 12.5l1.5 -1.8l1.5 0.9l1.5 -8.3l1.5 1.3l1.5 -10.6l1.5 2l1.5 -6.8l1.5 3.4l1.5 -7.6l1.5 3.9l1.5 -6.5l1.5 3l1.5 -8.9l1.5 1.8l1.5 -9.5l1.5 3.2l1.5 -9.1l1.5 -1.6l1.5 -7.7l1.5 0.5l1.5 -9.3l1.5 0.5l1.5 0.2l1.5 10.2l1.5 -0.1l1.5 10.6l1.5 -1.3l1.5 2.9l1.5 -11.9l1.5 -0.4l1.5 -12l1.5 1l1.5 -12.4l1.5 2.2l1.5 -0.5l1.5 11.9l1.5 -8l1.5 -3.3l1.5 -11.9l1.5 11l1.5 7.9l1.5 15.8l1.5 3.7l1.5 11.6l1.5 1.5l1.5 8.4l1.5 0l1.5 10.9l1.5 -2.1l1.5 8.1l1.5 -5.3l1.5 7.8l1.5 -3.1l1.5 3l1.5 -15.3l1.5 -4.6l1.5 -15.7l1.5 -5.1l1.5 -14.3l1.5 -5.6l1.5 -2.8l1.5 12.8l1.5 4.3l1.5 11.1l1.5 2l1.5 12l1.5 3.7l1.5 11.1l1.5 2.7l1.5 12.6l1.5 2.4l1.5 13.3l1.5 -1.8l1.5 7.5l1.5 -1.2l1.5 7.5l1.5 -11.5l1.5 -1.5l1.5 -12.9l1.5 -3.6l1.5 -14l1.5 -1.8l1.5 -14.2l1.5 -3.2l1.5 -11.6l1.5 4.3l1.5 6.4l1.5 15.9l1.5 -8.2l1.5 3.1l1.5 -9.8l1.5 2.6l1.5 -9.3l1.5 -1.1l1.5 -13.7l1.5 -2.6l1.5 -13.9l1.5 -2.6l1.5 -16.4l1.5 -6.8l1.5 -13.5l1.5 17.1l1.5 6.7l1.5 16.2l1.5 15l1.5 24.5l1.5 14l1.5 24.9l1.5 -0.1l1.5 12.6l1.5 -1.5l1.5 11.1l1.5 1.4l1.5 9.5l1.5 -3.2l1.5 7l1.5 -3.9l1.5 9.7l1.5 -5l1.5 6.1l1.5 -2.6l1.5 6.6l1.5 -3.6l1.5 8l1.5 -5.7l1.5 6.7l1.5 -6.4"/><use href="#sp5" y="-2.4" opacity="0.75"/><use href="#sp5" y="2.4" opacity="0.75"/></g><g fill="none" stroke="#77EE77" stroke-width="1.4" stroke-linejoin="round"><path id="sp6" d="M3320.5 2357.3l1.5 11.2l1.5 -0.4l1.5 9.6l1.5 -5.3l1.5 1l1.5 -9.3l1.5 1l1.5 -10.5l1.5 2.9l1.5 1.1l1.5 12.7l1.5 -0.3l1.5 12.1l1.5 1.5l1.5 7.8l1.5 -2.1l1.5 6.9l1.5 -1.1l1.5 9.6l1.5 -6.6l1.5 2.3l1.5 -7.4l1.5 3.1l1.5 -6.4l1.5 2.7l1.5 -6.4l1.5 4.6l1.5 -2.7l1.5 5.5l1.5 -4.7l1.5 8.7l1.5 -9.5l1.5 1.8l1.5 -11.9l1.5 2.2l1.5 -10.4l1.5 -1.2l1.5 -13.7l1.5 -4.2l1.5 0.8l1.5 13.6l1.5 -1.4l1.5 -15.6l1.5 -26.5l1.5 -16l1.5 -19.7l1.5 11.5l1.5 2.3l1.5 11.2l1.5 1.3l1.5 8.8l1.5 -1.9l1.5 7.6l1.5 -0.6l1.5 10.1l1.5 0.3l1.5 10.7l1.5 -0.9l1.5 10.4l1.5 1.8l1.5 11.6l1.5 0.3l1.5 10.5l1.5 -5.1l1.5 5.5l1.5 -3.2l1.5 4.5l1.5 -2l1.5 1.6l1.5 -8l1.5 4l1.5 -7.7l1.5 2l1.5 -8.2l1.5 4.5l1.5 -5.7l1.5 2.8l1.5 -4l1.5 6.2l1.5 -6.6l1.5 3.5l1.5 -3.8l1.5 4.2l1.5 -3.2l1.5 5.6l1.5 -4.7l1.5 -26.5l1.5 -37.7l1.5 47.9l1.5 11.6l1.5 0.7l1.5 -8.6l1.5 1.1l1.5 -8.2l1.5 1.9l1.5 -6.1l1.5 1.2l1.5 -5.6l1.5 3.5l1.5 -6.1l1.5 3.1l1.5 -9.9l1.5 2.4l1.5 -8.9l1.5 11.5l1.5 3.4l1.5 14.9l1.5 2l1.5 -1.3l1.5 -8.6l1.5 4.2l1.5 3.7l1.5 17.6l1.5 2.8l1.5 11.1l1.5 -9.6l1.5 2.6l1.5 -7.2l1.5 1.2l1.5 -8.1l1.5 2.2l1.5 -4.8l1.5 8.7l1.5 -2.9l1.5 6.3l1.5 -12.6l1.5 0.1l1.5 -13.6l1.5 -1.3l1.5 -11.8l1.5 0.7l1.5 -10.8l1.5 -2.4l1.5 -11l1.5 5.2l1.5 1.7l1.5 13.1l1.5 1.1l1.5 11.1l1.5 -1l1.5 12.3l1.5 -14.4l1.5 -3l1.5 -14.7l1.5 -1.8l1.5 -13.8l1.5 5.5l1.5 -1.2l1.5 11l1.5 -4.1l1.5 -3.2l1.5 -15.3l1.5 -4.5l1.5 8.5l1.5 17.9l1.5 7.7l1.5 16.9l1.5 -2.6l1.5 5.4l1.5 -1.4l1.5 7.7l1.5 1.7l1.5 8.8l1.5 0l1.5 11.5l1.5 2.9l1.5 -1.8l1.5 -10.6l1.5 -5.6l1.5 -11.1l1.5 -5.2l1.5 -16.8l1.5 -5.9l1.5 -15.1l1.5 9.4l1.5 1.5l1.5 14.7l1.5 2.2l1.5 11.5l1.5 1.8l1.5 10.5l1.5 1.9l1.5 15.6l1.5 5.3l1.5 16.3l1.5 -2.7l1.5 7.7l1.5 -1.5l1.5 6.7l1.5 -9.1l1.5 0l1.5 -9.2l1.5 2.8l1.5 -9.5l1.5 -5.8l1.5 -14.2l1.5 -7.9l1.5 -16.7l1.5 -3.6l1.5 -0.8l1.5 19.9l1.5 6.5l1.5 2.4l1.5 -9.6l1.5 3.5l1.5 -9.4l1.5 2.3l1.5 -12.3l1.5 -4.3l1.5 -13l1.5 -4.4l1.5 -18l1.5 -6l1.5 -18.3l1.5 7.3l1.5 2.4l1.5 14.5l1.5 7.5l1.5 23.2l1.5 15.4l1.5 25.8l1.5 11.2l1.5 11.9l1.5 3.1l1.5 11.7l1.5 0.2l1.5 13l1.5 -3.1l1.5 8.2l1.5 -1.8l1.5 5.9l1.5 -3.4l1.5 7.7l1.5 -6.2l1.5 7.7l1.5 -5.6l1.5 6.9l1.5 -5.5l1.5 7.7l1.5 -1.9l1.5 7.1"/><use href="#sp6" y="-2.4" opacity="0.75"/><use href="#sp6" y="2.4" opacity="0.75"/></g><g fill="none" stroke="#F5BA90" stroke-width="1.4" stroke-linejoin="round"><path id="sp7" d="M3739.3 2372.5l1.5 7.8l1.5 -4l1.5 8.6l1.5 -2.8l1.5 5.6l1.5 -10.2l1.5 0.7l1.5 -9.5l1.5 -1.2l1.5 -1.8l1.5 10l1.5 1l1.5 8.8l1.5 0.5l1.5 8.8l1.5 -4.1l1.5 5.8l1.5 -3.2l1.5 5.2l1.5 -3l1.5 5.8l1.5 -4.6l1.5 2.1l1.5 -7.1l1.5 4.1l1.5 -6.3l1.5 4.5l1.5 -4.1l1.5 5.2l1.5 -4.9l1.5 5l1.5 -4.7l1.5 2.8l1.5 -17.1l1.5 -4.9l1.5 -13l1.5 -3.5l1.5 -13.6l1.5 7.8l1.5 15.6l1.5 8.7l1.5 -19.8l1.5 -10.9l1.5 -19.4l1.5 -8.1l1.5 -16.1l1.5 9.8l1.5 2.5l1.5 11.4l1.5 0.6l1.5 8.3l1.5 -3.1l1.5 9.7l1.5 -2.5l1.5 9.7l1.5 -0.6l1.5 11.6l1.5 -1.8l1.5 12.6l1.5 0.5l1.5 8.9l1.5 -1.1l1.5 6.8l1.5 -3.2l1.5 6.4l1.5 -2.9l1.5 5.1l1.5 -6.6l1.5 3.1l1.5 -6.6l1.5 4.6l1.5 -6.5l1.5 4.3l1.5 -7.5l1.5 3l1.5 -3.5l1.5 6.7l1.5 -5.3l1.5 5.2l1.5 -4.4l1.5 4.7l1.5 -5.8l1.5 4.3l1.5 -13.3l1.5 -1.8l1.5 -12.5l1.5 -0.2l1.5 -1.4l1.5 27.1l1.5 2.2l1.5 -1.1l1.5 -10.8l1.5 3.7l1.5 -11.9l1.5 0.2l1.5 -8.5l1.5 1.1l1.5 -4.9l1.5 5.9l1.5 -7l1.5 2.5l1.5 -8.1l1.5 2.3l1.5 -8.4l1.5 4.5l1.5 0.3l1.5 12.8l1.5 1l1.5 10.3l1.5 1.7l1.5 10.7l1.5 1.4l1.5 8.1l1.5 0.8l1.5 7.1l1.5 -11.7l1.5 1.1l1.5 -12.3l1.5 1.2l1.5 -8.9l1.5 11.2l1.5 0.6l1.5 6.5l1.5 -8.8l1.5 0.1l1.5 -8.2l1.5 -0.8l1.5 -8.5l1.5 0.9l1.5 -8.5l1.5 -0.2l1.5 -8.5l1.5 -1.5l1.5 -7.3l1.5 -0.2l1.5 -1.4l1.5 9.7l1.5 0.1l1.5 11.4l1.5 -3.9l1.5 0.5l1.5 -9.9l1.5 2.2l1.5 -8.3l1.5 -1.5l1.5 -9.9l1.5 9.9l1.5 1.8l1.5 4.6l1.5 -13.6l1.5 -1.6l1.5 -5l1.5 16.6l1.5 8.4l1.5 16.7l1.5 0.8l1.5 -1.4l1.5 -7.8l1.5 -1.5l1.5 1.6l1.5 11.6l1.5 1l1.5 13.7l1.5 1.5l1.5 11.8l1.5 -12.4l1.5 0.8l1.5 -8l1.5 -1.2l1.5 -7.9l1.5 -1.4l1.5 -15.9l1.5 -2.1l1.5 -13.5l1.5 11.4l1.5 2.7l1.5 13.4l1.5 3.4l1.5 3.2l1.5 -6.5l1.5 3.6l1.5 -6.6l1.5 12.7l1.5 6.4l1.5 15.3l1.5 5.1l1.5 17.3l1.5 -2.6l1.5 0.9l1.5 -10l1.5 4.4l1.5 -11.8l1.5 -5.3l1.5 -11.9l1.5 -5.1l1.5 -13.9l1.5 -2.7l1.5 -14.5l1.5 12.3l1.5 3.7l1.5 11.3l1.5 -9.1l1.5 2.3l1.5 -9.6l1.5 3l1.5 -8.5l1.5 3l1.5 -10l1.5 0.5l1.5 -10.5l1.5 -7.3l1.5 -19l1.5 -7.3l1.5 -15.7l1.5 16.5l1.5 6.4l1.5 15.6l1.5 9.4l1.5 21.6l1.5 12.4l1.5 22.7l1.5 7.5l1.5 12.1l1.5 1.2l1.5 12l1.5 -0.2l1.5 9.1l1.5 -0.2l1.5 4.5l1.5 -2.8l1.5 7.6l1.5 -1.6l1.5 3.7l1.5 -0.9l1.5 5.9l1.5 -3.5l1.5 7.2l1.5 -4.1l1.5 7.9l1.5 -2.5l1.5 5.7"/><use href="#sp7" y="-2.4" opacity="0.75"/><use href="#sp7" y="2.4" opacity="0.75"/></g><g fill="none" stroke="#1F77B4" stroke-width="1.4" stroke-linejoin="round"><path id="sp8" d="M2487.7 2808.1l1.5 7.3l1.5 -4.3l1.5 5.9l1.5 -3l1.5 -0.8l1.5 -7.1l1.5 -1.2l1.5 -9.2l1.5 1.3l1.5 -2.5l1.5 11.2l1.5 2.2l1.5 10.6l1.5 0l1.5 7.1l1.5 -2.8l1.5 6.8l1.5 -2.3l1.5 8.7l1.5 -5.1l1.5 -0.4l1.5 -9.2l1.5 1.9l1.5 -9.4l1.5 5l1.5 -3.4l1.5 8l1.5 -3.7l1.5 5.3l1.5 -8.4l1.5 2.1l1.5 -10.6l1.5 -0.8l1.5 -8.9l1.5 0l1.5 -12.1l1.5 -4.3l1.5 -12.2l1.5 9l1.5 9l1.5 19.5l1.5 -22.1l1.5 -11.7l1.5 -21.9l1.5 -14.9l1.5 -1.7l1.5 8.2l1.5 0.4l1.5 7.3l1.5 -1.4l1.5 9.8l1.5 -1.5l1.5 7.3l1.5 -0.1l1.5 9l1.5 1.4l1.5 10.1l1.5 -1.1l1.5 9.8l1.5 2.6l1.5 8.3l1.5 1l1.5 3l1.5 -6.2l1.5 0.5l1.5 -5.5l1.5 2.2l1.5 -7.8l1.5 4.6l1.5 -5.2l1.5 4.5l1.5 -5.8l1.5 6l1.5 -6.9l1.5 5.2l1.5 -7.2l1.5 4.1l1.5 -5.7l1.5 2.8l1.5 -5.2l1.5 4.7l1.5 -3.9l1.5 6.6l1.5 -5.6l1.5 -0.3l1.5 -30.7l1.5 -18.7l1.5 7.8l1.5 38.5l1.5 -3.7l1.5 1.9l1.5 -8.6l1.5 1.7l1.5 -11.7l1.5 5l1.5 -6.5l1.5 2.6l1.5 -5.3l1.5 2l1.5 -7.7l1.5 3.7l1.5 -9.8l1.5 2.7l1.5 -8.2l1.5 9.6l1.5 5.1l1.5 14.8l1.5 -2l1.5 7.2l1.5 -6.7l1.5 7l1.5 2.9l1.5 14.1l1.5 0.1l1.5 1.8l1.5 -6.4l1.5 3l1.5 -6.6l1.5 3.9l1.5 -9.5l1.5 1.5l1.5 -8.1l1.5 4.5l1.5 -3.2l1.5 4.6l1.5 -2.4l1.5 8.2l1.5 -13.2l1.5 -2.4l1.5 -13.3l1.5 -1.4l1.5 -12.2l1.5 1l1.5 -8.1l1.5 -0.1l1.5 1.5l1.5 11.9l1.5 1l1.5 11.7l1.5 -0.9l1.5 5l1.5 -12.5l1.5 -0.9l1.5 -12.5l1.5 -0.4l1.5 -14.1l1.5 1.1l1.5 4.2l1.5 14.8l1.5 -4.2l1.5 -3.7l1.5 -15.9l1.5 2.1l1.5 5.4l1.5 17.4l1.5 8.3l1.5 9.8l1.5 -0.7l1.5 11.6l1.5 0.8l1.5 7.9l1.5 1.6l1.5 10.8l1.5 -2.1l1.5 3.8l1.5 -7.6l1.5 1.6l1.5 -8.5l1.5 3.3l1.5 -15.4l1.5 -6.9l1.5 -19l1.5 -8.6l1.5 -7.1l1.5 12.9l1.5 0.4l1.5 14.8l1.5 2.7l1.5 12.6l1.5 1.5l1.5 15.4l1.5 3.8l1.5 13.8l1.5 4.5l1.5 8.5l1.5 -4.5l1.5 7.7l1.5 -3.9l1.5 7l1.5 -8.2l1.5 1.6l1.5 -8.2l1.5 0.8l1.5 -13.8l1.5 -7.9l1.5 -15.6l1.5 -6.3l1.5 -16.7l1.5 4.6l1.5 3.9l1.5 15.4l1.5 1.6l1.5 8.9l1.5 -12.7l1.5 1.6l1.5 -9.4l1.5 -1.6l1.5 -9.2l1.5 -1l1.5 -8.8l1.5 1.9l1.5 -12.2l1.5 -14.4l1.5 -20.7l1.5 -9.2l1.5 11.5l1.5 21.4l1.5 11.2l1.5 23.8l1.5 16.4l1.5 24.6l1.5 3.3l1.5 14.9l1.5 -0.5l1.5 14.6l1.5 -1.6l1.5 7.2l1.5 -2l1.5 7.5l1.5 -2.6l1.5 5.7l1.5 -3.7l1.5 5.9l1.5 -5.4l1.5 7.1l1.5 -6.8l1.5 4.8l1.5 -3.6l1.5 8.8l1.5 -3.6l1.5 6.9l1.5 -5.2"/><use href="#sp8" y="-2.4" opacity="0.75"/><use href="#sp8" y="2.4" opacity="0.75"/></g><g fill="none" stroke="#A9A92B" stroke-width="1.4" stroke-linejoin="round"><path id="sp9" d="M2902.6 2791.2l1.5 6.7l1.5 -1.8l1.5 6.9l1.5 -3.3l1.5 8l1.5 -7.6l1.5 0.3l1.5 -8.3l1.5 -1.3l1.5 -1.1l1.5 11.2l1.5 3.1l1.5 9.1l1.5 1.9l1.5 8.8l1.5 -2.1l1.5 6.3l1.5 -4.2l1.5 8.4l1.5 -4l1.5 2.6l1.5 -8.8l1.5 4.6l1.5 -9.9l1.5 2.6l1.5 -7.4l1.5 2.2l1.5 -4.5l1.5 4.6l1.5 -5.1l1.5 2.6l1.5 -5.6l1.5 4.2l1.5 -14.3l1.5 -6.4l1.5 -15l1.5 -5.8l1.5 7.9l1.5 16.9l1.5 2.1l1.5 -8.2l1.5 -18l1.5 -10.5l1.5 -17.4l1.5 -9.9l1.5 -14.1l1.5 9.4l1.5 2.3l1.5 10.9l1.5 -3.3l1.5 10.5l1.5 -2.1l1.5 8.8l1.5 -0.6l1.5 9.1l1.5 -2.7l1.5 12.4l1.5 1.2l1.5 9.7l1.5 -1.2l1.5 10.7l1.5 1.1l1.5 6.5l1.5 -5.3l1.5 6.7l1.5 -5.6l1.5 7.1l1.5 -7.3l1.5 6.8l1.5 -8.4l1.5 3.3l1.5 -6.7l1.5 3.2l1.5 -6.6l1.5 5.3l1.5 -8.1l1.5 2.5l1.5 -3.6l1.5 7.1l1.5 -5.7l1.5 5l1.5 -4.6l1.5 5.8l1.5 -13.8l1.5 -13l1.5 -18.9l1.5 -10.7l1.5 6.1l1.5 33.5l1.5 5.4l1.5 0.9l1.5 -9.8l1.5 0.2l1.5 -10.1l1.5 -0.1l1.5 -5.1l1.5 3.2l1.5 -6l1.5 4.5l1.5 -7.9l1.5 3.5l1.5 -8.6l1.5 2.3l1.5 -8.2l1.5 8.8l1.5 1.6l1.5 14.5l1.5 2.9l1.5 11.3l1.5 1.7l1.5 8.5l1.5 0.4l1.5 12.5l1.5 -1.8l1.5 0.9l1.5 -8.3l1.5 1.3l1.5 -10.6l1.5 2l1.5 -6.8l1.5 3.4l1.5 -7.6l1.5 3.9l1.5 -6.5l1.5 3l1.5 -8.9l1.5 1.8l1.5 -9.5l1.5 3.2l1.5 -9.1l1.5 -1.6l1.5 -7.7l1.5 0.5l1.5 -9.3l1.5 0.5l1.5 0.2l1.5 10.2l1.5 -0.1l1.5 10.6l1.5 -1.3l1.5 2.9l1.5 -11.9l1.5 -0.4l1.5 -12l1.5 1l1.5 -12.4l1.5 2.2l1.5 -0.5l1.5 11.9l1.5 -8l1.5 -3.3l1.5 -11.9l1.5 11l1.5 7.9l1.5 15.8l1.5 3.7l1.5 11.6l1.5 1.5l1.5 8.4l1.5 0l1.5 10.9l1.5 -2.1l1.5 8.1l1.5 -5.3l1.5 7.8l1.5 -3.1l1.5 3l1.5 -15.3l1.5 -4.6l1.5 -15.7l1.5 -5.1l1.5 -14.3l1.5 -5.6l1.5 -2.8l1.5 12.8l1.5 4.3l1.5 11.1l1.5 2l1.5 12l1.5 3.7l1.5 11.1l1.5 2.7l1.5 12.6l1.5 2.4l1.5 13.3l1.5 -1.8l1.5 7.5l1.5 -1.2l1.5 7.5l1.5 -11.5l1.5 -1.5l1.5 -12.9l1.5 -3.6l1.5 -14l1.5 -1.8l1.5 -14.2l1.5 -3.2l1.5 -11.6l1.5 4.3l1.5 6.4l1.5 15.9l1.5 -8.2l1.5 3.1l1.5 -9.8l1.5 2.6l1.5 -9.3l1.5 -1.1l1.5 -13.7l1.5 -2.6l1.5 -13.9l1.5 -2.6l1.5 -16.4l1.5 -6.8l1.5 -13.5l1.5 17.1l1.5 6.7l1.5 16.2l1.5 15l1.5 24.5l1.5 14l1.5 24.9l1.5 -0.1l1.5 12.6l1.5 -1.5l1.5 11.1l1.5 1.4l1.5 9.5l1.5 -3.2l1.5 7l1.5 -3.9l1.5 9.7l1.5 -5l1.5 6.1l1.5 -2.6l1.5 6.6l1.5 -3.6l1.5 8l1.5 -5.7l1.5 6.7l1.5 -6.4"/><use href="#sp9" y="-2.4" opacity="0.75"/><use href="#sp9" y="2.4" opacity="0.75"/></g><g fill="none" stroke="#0B9A0B" stroke-width="1.4" stroke-linejoin="round"><path id="sp10" d="M3320.5 2775l1.5 11.2l1.5 -0.4l1.5 9.6l1.5 -5.3l1.5 1l1.5 -9.3l1.5 1l1.5 -10.5l1.5 2.9l1.5 1.1l1.5 12.7l1.5 -0.3l1.5 12.1l1.5 1.5l1.5 7.8l1.5 -2.1l1.5 6.9l1.5 -1.1l1.5 9.6l1.5 -6.6l1.5 2.3l1.5 -7.4l1.5 3.1l1.5 -6.4l1.5 2.7l1.5 -6.4l1.5 4.6l1.5 -2.7l1.5 5.5l1.5 -4.7l1.5 8.7l1.5 -9.5l1.5 1.8l1.5 -11.9l1.5 2.2l1.5 -10.4l1.5 -1.2l1.5 -13.7l1.5 -4.2l1.5 0.8l1.5 13.6l1.5 -1.4l1.5 -15.6l1.5 -26.5l1.5 -16l1.5 -19.7l1.5 11.5l1.5 2.3l1.5 11.2l1.5 1.3l1.5 8.8l1.5 -1.9l1.5 7.6l1.5 -0.6l1.5 10.1l1.5 0.3l1.5 10.7l1.5 -0.9l1.5 10.4l1.5 1.8l1.5 11.6l1.5 0.3l1.5 10.5l1.5 -5.1l1.5 5.5l1.5 -3.2l1.5 4.5l1.5 -2l1.5 1.6l1.5 -8l1.5 4l1.5 -7.7l1.5 2l1.5 -8.2l1.5 4.5l1.5 -5.7l1.5 2.8l1.5 -4l1.5 6.2l1.5 -6.6l1.5 3.5l1.5 -3.8l1.5 4.2l1.5 -3.2l1.5 5.6l1.5 -4.7l1.5 -26.5l1.5 -37.7l1.5 47.9l1.5 11.6l1.5 0.7l1.5 -8.6l1.5 1.1l1.5 -8.2l1.5 1.9l1.5 -6.1l1.5 1.2l1.5 -5.6l1.5 3.5l1.5 -6.1l1.5 3.1l1.5 -9.9l1.5 2.4l1.5 -8.9l1.5 11.5l1.5 3.4l1.5 14.9l1.5 2l1.5 -1.3l1.5 -8.6l1.5 4.2l1.5 3.7l1.5 17.6l1.5 2.8l1.5 11.1l1.5 -9.6l1.5 2.6l1.5 -7.2l1.5 1.2l1.5 -8.1l1.5 2.2l1.5 -4.8l1.5 8.7l1.5 -2.9l1.5 6.3l1.5 -12.6l1.5 0.1l1.5 -13.6l1.5 -1.3l1.5 -11.8l1.5 0.7l1.5 -10.8l1.5 -2.4l1.5 -11l1.5 5.2l1.5 1.7l1.5 13.1l1.5 1.1l1.5 11.1l1.5 -1l1.5 12.3l1.5 -14.4l1.5 -3l1.5 -14.7l1.5 -1.8l1.5 -13.8l1.5 5.5l1.5 -1.2l1.5 11l1.5 -4.1l1.5 -3.2l1.5 -15.3l1.5 -4.5l1.5 8.5l1.5 17.9l1.5 7.7l1.5 16.9l1.5 -2.6l1.5 5.4l1.5 -1.4l1.5 7.7l1.5 1.7l1.5 8.8l1.5 0l1.5 11.5l1.5 2.9l1.5 -1.8l1.5 -10.6l1.5 -5.6l1.5 -11.1l1.5 -5.2l1.5 -16.8l1.5 -5.9l1.5 -15.1l1.5 9.4l1.5 1.5l1.5 14.7l1.5 2.2l1.5 11.5l1.5 1.8l1.5 10.5l1.5 1.9l1.5 15.6l1.5 5.3l1.5 16.3l1.5 -2.7l1.5 7.7l1.5 -1.5l1.5 6.7l1.5 -9.1l1.5 0l1.5 -9.2l1.5 2.8l1.5 -9.5l1.5 -5.8l1.5 -14.2l1.5 -7.9l1.5 -16.7l1.5 -3.6l1.5 -0.8l1.5 19.9l1.5 6.5l1.5 2.4l1.5 -9.6l1.5 3.5l1.5 -9.4l1.5 2.3l1.5 -12.3l1.5 -4.3l1.5 -13l1.5 -4.4l1.5 -18l1.5 -6l1.5 -18.3l1.5 7.3l1.5 2.4l1.5 14.5l1.5 7.5l1.5 23.2l1.5 15.4l1.5 25.8l1.5 11.2l1.5 11.9l1.5 3.1l1.5 11.7l1.5 0.2l1.5 13l1.5 -3.1l1.5 8.2l1.5 -1.8l1.5 5.9l1.5 -3.4l1.5 7.7l1.5 -6.2l1.5 7.7l1.5 -5.6l1.5 6.9l1.5 -5.5l1.5 7.7l1.5 -1.9l1.5 7.1"/><use href="#sp10" y="-2.4" opacity="0.75"/><use href="#sp10" y="2.4" opacity="0.75"/></g><g fill="none" stroke="#C0733A" stroke-width="1.4" stroke-linejoin="round"><path id="sp11" d="M3739.3 2784.5l1.5 7.8l1.5 -4l1.5 8.6l1.5 -2.8l1.5 5.6l1.5 -10.2l1.5 0.7l1.5 -9.5l1.5 -1.2l1.5 -1.8l1.5 10l1.5 1l1.5 8.8l1.5 0.5l1.5 8.8l1.5 -4.1l1.5 5.8l1.5 -3.2l1.5 5.2l1.5 -3l1.5 5.8l1.5 -4.6l1.5 2.1l1.5 -7.1l1.5 4.1l1.5 -6.3l1.5 4.5l1.5 -4.1l1.5 5.2l1.5 -4.9l1.5 5l1.5 -4.7l1.5 2.8l1.5 -17.1l1.5 -4.9l1.5 -13l1.5 -3.5l1.5 -13.6l1.5 7.8l1.5 15.6l1.5 8.7l1.5 -19.8l1.5 -10.9l1.5 -19.4l1.5 -8.1l1.5 -16.1l1.5 9.8l1.5 2.5l1.5 11.4l1.5 0.6l1.5 8.3l1.5 -3.1l1.5 9.7l1.5 -2.5l1.5 9.7l1.5 -0.6l1.5 11.6l1.5 -1.8l1.5 12.6l1.5 0.5l1.5 8.9l1.5 -1.1l1.5 6.8l1.5 -3.2l1.5 6.4l1.5 -2.9l1.5 5.1l1.5 -6.6l1.5 3.1l1.5 -6.6l1.5 4.6l1.5 -6.5l1.5 4.3l1.5 -7.5l1.5 3l1.5 -3.5l1.5 6.7l1.5 -5.3l1.5 5.2l1.5 -4.4l1.5 4.7l1.5 -5.8l1.5 4.3l1.5 -13.3l1.5 -1.8l1.5 -12.5l1.5 -0.2l1.5 -1.4l1.5 27.1l1.5 2.2l1.5 -1.1l1.5 -10.8l1.5 3.7l1.5 -11.9l1.5 0.2l1.5 -8.5l1.5 1.1l1.5 -4.9l1.5 5.9l1.5 -7l1.5 2.5l1.5 -8.1l1.5 2.3l1.5 -8.4l1.5 4.5l1.5 0.3l1.5 12.8l1.5 1l1.5 10.3l1.5 1.7l1.5 10.7l1.5 1.4l1.5 8.1l1.5 0.8l1.5 7.1l1.5 -11.7l1.5 1.1l1.5 -12.3l1.5 1.2l1.5 -8.9l1.5 11.2l1.5 0.6l1.5 6.5l1.5 -8.8l1.5 0.1l1.5 -8.2l1.5 -0.8l1.5 -8.5l1.5 0.9l1.5 -8.5l1.5 -0.2l1.5 -8.5l1.5 -1.5l1.5 -7.3l1.5 -0.2l1.5 -1.4l1.5 9.7l1.5 0.1l1.5 11.4l1.5 -3.9l1.5 0.5l1.5 -9.9l1.5 2.2l1.5 -8.3l1.5 -1.5l1.5 -9.9l1.5 9.9l1.5 1.8l1.5 4.6l1.5 -13.6l1.5 -1.6l1.5 -5l1.5 16.6l1.5 8.4l1.5 16.7l1.5 0.8l1.5 -1.4l1.5 -7.8l1.5 -1.5l1.5 1.6l1.5 11.6l1.5 1l1.5 13.7l1.5 1.5l1.5 11.8l1.5 -12.4l1.5 0.8l1.5 -8l1.5 -1.2l1.5 -7.9l1.5 -1.4l1.5 -15.9l1.5 -2.1l1.5 -13.5l1.5 11.4l1.5 2.7l1.5 13.4l1.5 3.4l1.5 3.2l1.5 -6.5l1.5 3.6l1.5 -6.6l1.5 12.7l1.5 6.4l1.5 15.3l1.5 5.1l1.5 17.3l1.5 -2.6l1.5 0.9l1.5 -10l1.5 4.4l1.5 -11.8l1.5 -5.3l1.5 -11.9l1.5 -5.1l1.5 -13.9l1.5 -2.7l1.5 -14.5l1.5 12.3l1.5 3.7l1.5 11.3l1.5 -9.1l1.5 2.3l1.5 -9.6l1.5 3l1.5 -8.5l1.5 3l1.5 -10l1.5 0.5l1.5 -10.5l1.5 -7.3l1.5 -19l1.5 -7.3l1.5 -15.7l1.5 16.5l1.5 6.4l1.5 15.6l1.5 9.4l1.5 21.6l1.5 12.4l1.5 22.7l1.5 7.5l1.5 12.1l1.5 1.2l1.5 12l1.5 -0.2l1.5 9.1l1.5 -0.2l1.5 4.5l1.5 -2.8l1.5 7.6l1.5 -1.6l1.5 3.7l1.5 -0.9l1.5 5.9l1.5 -3.5l1.5 7.2l1.5 -4.1l1.5 7.9l1.5 -2.5l1.5 5.7"/><use href="#sp11" y="-2.4" opacity="0.75"/><use href="#sp11" y="2.4" opacity="0.75"/></g><g transform="matrix(0.4220 0 0 0.4165 2418.4 1688.1)"><path d="M546.7 796.9C554.9 796.9 568.8 801.8 577.8 805.8C586.8 809.7 590.3 816.4 600.7 820.5C611 824.5 626.8 827.5 639.9 830.3C652.9 833 668.2 834.1 679.1 836.8C690 839.5 697.1 841.4 705.2 846.6C713.4 851.8 721 860.5 728.1 867.8C735.2 875.2 741.7 882.5 747.7 890.7C753.7 898.9 757.5 909.2 764.1 916.9C770.6 924.5 778.8 931.3 786.9 936.5C795.1 941.6 805.7 944.1 813.1 947.9C820.4 951.7 827.5 954.7 831 959.3C834.6 964 834.3 968.6 834.3 975.7C834.3 982.8 833.5 992.6 831 1001.8C828.6 1011.1 823.7 1022.5 819.6 1031.2C815.5 1040 809.8 1044.9 806.5 1054.1C803.3 1063.4 801.4 1075.9 800 1086.8C798.6 1097.7 799.5 1109.7 798.4 1119.5C797.3 1129.3 796.5 1136.9 793.5 1145.6C790.5 1154.3 786.9 1163.6 780.4 1171.8C773.9 1179.9 763 1187 754.2 1194.6C745.5 1202.3 734.6 1209.6 728.1 1217.5C721.6 1225.4 721 1235.8 715 1242C709 1248.3 701.4 1252.6 692.2 1255.1C682.9 1257.5 669.8 1257.5 659.5 1256.7C649.1 1255.9 637.7 1253.5 630.1 1250.2C622.4 1246.9 619.7 1241.5 613.7 1237.1C607.7 1232.8 601.2 1227.3 594.1 1224.1C587 1220.8 581 1218.1 571.2 1217.5C561.4 1217 546.7 1218.9 535.3 1220.8C523.9 1222.7 511.3 1227.3 502.6 1229C493.9 1230.6 487.9 1233 483 1230.6C478.1 1228.1 475.9 1220.8 473.2 1214.2C470.5 1207.7 468.8 1197.6 466.7 1191.4C464.5 1185.1 463.9 1181 460.1 1176.7C456.3 1172.3 452.5 1166.9 443.8 1165.2C435.1 1163.6 418.7 1165.7 407.8 1166.9C396.9 1168.1 385.8 1172.7 378.4 1172.4C371.1 1172.1 367.3 1169.7 363.7 1165.2C360.2 1160.8 358.6 1154.3 357.2 1145.6C355.8 1136.9 355.8 1123.3 355.6 1112.9C355.3 1102.6 357.7 1092.2 355.6 1083.5C353.4 1074.8 345.9 1068.3 342.5 1060.7C339.1 1053 335.6 1044.9 335.3 1037.8C335 1030.7 337.2 1023.9 340.8 1018.2C344.5 1012.5 352.3 1008.9 357.2 1003.5C362.1 998 367.5 992.3 370.3 985.5C373 978.7 373.8 973 373.5 962.6C373.3 952.3 370.3 935.4 368.6 923.4C367 911.4 363.5 899.4 363.7 890.7C364 882 366.2 876.6 370.3 871.1C374.3 865.7 379.2 861.3 388.2 858C397.2 854.8 412.7 853.1 424.2 851.5C435.6 849.9 446 851 456.9 848.2C467.8 845.5 479.7 840.1 489.5 835.2C499.3 830.3 509.2 823.7 515.7 818.8C522.2 813.9 523.6 809.4 528.8 805.8C533.9 802.1 538.6 796.9 546.7 796.9Z" fill="none" stroke="#000" stroke-width="6.9" stroke-linejoin="round"/><path d="M613.7 1237.1C615.9 1237.8 621.6 1240.3 626.8 1241C632 1241.8 641.8 1241.3 644.8 1241.4" fill="none" stroke="#000" stroke-width="6.2" stroke-linecap="round"/><path d="M571.2 1054.1C574 1046.2 577.8 1043.7 584.3 1039.4C590.8 1035.2 600.7 1030.8 610.5 1028.6C620.3 1026.4 632.2 1026.9 643.1 1026.3C654 1025.8 666.6 1023.5 675.8 1025.4C685.1 1027.3 692.7 1033 698.7 1037.8C704.7 1042.6 707.1 1047.6 711.8 1054.1C716.4 1060.7 723.7 1069.4 726.5 1077C729.2 1084.6 728.6 1092.2 728.1 1099.9C727.6 1107.5 725.9 1116.2 723.2 1122.7C720.5 1129.3 716.9 1134.5 711.8 1139.1C706.6 1143.7 699.2 1147 692.2 1150.5C685.1 1154.1 677.5 1157.6 669.3 1160.3C661.1 1163.1 649.7 1167.4 643.1 1166.9C636.6 1166.3 636.6 1159.8 630.1 1157.1C623.5 1154.3 611.5 1153.5 603.9 1150.5C596.3 1147.5 589.8 1144.8 584.3 1139.1C578.9 1133.4 574 1124.9 571.2 1116.2C568.5 1107.5 568 1097.1 568 1086.8C568 1076.4 568.5 1062 571.2 1054.1Z" fill="none" stroke="#000" stroke-width="6.9"/><ellipse cx="479.7" cy="912.9" rx="5.9" ry="9.3" fill="#000"/><ellipse cx="647.4" cy="888.4" rx="5.5" ry="9" fill="#000"/><ellipse cx="572.9" cy="964.9" rx="8.8" ry="6.9" fill="#000"/><ellipse cx="462.7" cy="1014.9" rx="8.8" ry="7.4" fill="#000"/><ellipse cx="782" cy="990.4" rx="6.2" ry="20.4" fill="#000"/><ellipse cx="721.6" cy="1027" rx="5.9" ry="9" fill="#000"/><ellipse cx="415" cy="1063.9" rx="6.2" ry="14.7" fill="#000"/><ellipse cx="542.2" cy="1062.9" rx="6.2" ry="15" fill="#000"/><ellipse cx="465" cy="1094.3" rx="5.5" ry="8.5" fill="#000"/><ellipse cx="539.5" cy="1174.1" rx="5.5" ry="9" fill="#000"/><ellipse cx="726.5" cy="1193.7" rx="5.9" ry="9" fill="#000"/></g><g transform="matrix(0.4220 0 0 0.4165 2415.5 2090)"><path d="M546.7 796.9C554.9 796.9 568.8 801.8 577.8 805.8C586.8 809.7 590.3 816.4 600.7 820.5C611 824.5 626.8 827.5 639.9 830.3C652.9 833 668.2 834.1 679.1 836.8C690 839.5 697.1 841.4 705.2 846.6C713.4 851.8 721 860.5 728.1 867.8C735.2 875.2 741.7 882.5 747.7 890.7C753.7 898.9 757.5 909.2 764.1 916.9C770.6 924.5 778.8 931.3 786.9 936.5C795.1 941.6 805.7 944.1 813.1 947.9C820.4 951.7 827.5 954.7 831 959.3C834.6 964 834.3 968.6 834.3 975.7C834.3 982.8 833.5 992.6 831 1001.8C828.6 1011.1 823.7 1022.5 819.6 1031.2C815.5 1040 809.8 1044.9 806.5 1054.1C803.3 1063.4 801.4 1075.9 800 1086.8C798.6 1097.7 799.5 1109.7 798.4 1119.5C797.3 1129.3 796.5 1136.9 793.5 1145.6C790.5 1154.3 786.9 1163.6 780.4 1171.8C773.9 1179.9 763 1187 754.2 1194.6C745.5 1202.3 734.6 1209.6 728.1 1217.5C721.6 1225.4 721 1235.8 715 1242C709 1248.3 701.4 1252.6 692.2 1255.1C682.9 1257.5 669.8 1257.5 659.5 1256.7C649.1 1255.9 637.7 1253.5 630.1 1250.2C622.4 1246.9 619.7 1241.5 613.7 1237.1C607.7 1232.8 601.2 1227.3 594.1 1224.1C587 1220.8 581 1218.1 571.2 1217.5C561.4 1217 546.7 1218.9 535.3 1220.8C523.9 1222.7 511.3 1227.3 502.6 1229C493.9 1230.6 487.9 1233 483 1230.6C478.1 1228.1 475.9 1220.8 473.2 1214.2C470.5 1207.7 468.8 1197.6 466.7 1191.4C464.5 1185.1 463.9 1181 460.1 1176.7C456.3 1172.3 452.5 1166.9 443.8 1165.2C435.1 1163.6 418.7 1165.7 407.8 1166.9C396.9 1168.1 385.8 1172.7 378.4 1172.4C371.1 1172.1 367.3 1169.7 363.7 1165.2C360.2 1160.8 358.6 1154.3 357.2 1145.6C355.8 1136.9 355.8 1123.3 355.6 1112.9C355.3 1102.6 357.7 1092.2 355.6 1083.5C353.4 1074.8 345.9 1068.3 342.5 1060.7C339.1 1053 335.6 1044.9 335.3 1037.8C335 1030.7 337.2 1023.9 340.8 1018.2C344.5 1012.5 352.3 1008.9 357.2 1003.5C362.1 998 367.5 992.3 370.3 985.5C373 978.7 373.8 973 373.5 962.6C373.3 952.3 370.3 935.4 368.6 923.4C367 911.4 363.5 899.4 363.7 890.7C364 882 366.2 876.6 370.3 871.1C374.3 865.7 379.2 861.3 388.2 858C397.2 854.8 412.7 853.1 424.2 851.5C435.6 849.9 446 851 456.9 848.2C467.8 845.5 479.7 840.1 489.5 835.2C499.3 830.3 509.2 823.7 515.7 818.8C522.2 813.9 523.6 809.4 528.8 805.8C533.9 802.1 538.6 796.9 546.7 796.9Z" fill="#DAE3F3" stroke="#3C64A8" stroke-width="3.2" stroke-linejoin="round"/><path d="M613.7 1237.1C615.9 1237.8 621.6 1240.3 626.8 1241C632 1241.8 641.8 1241.3 644.8 1241.4" fill="none" stroke="#3C64A8" stroke-width="2.9" stroke-linecap="round"/><path d="M571.2 1054.1C574 1046.2 577.8 1043.7 584.3 1039.4C590.8 1035.2 600.7 1030.8 610.5 1028.6C620.3 1026.4 632.2 1026.9 643.1 1026.3C654 1025.8 666.6 1023.5 675.8 1025.4C685.1 1027.3 692.7 1033 698.7 1037.8C704.7 1042.6 707.1 1047.6 711.8 1054.1C716.4 1060.7 723.7 1069.4 726.5 1077C729.2 1084.6 728.6 1092.2 728.1 1099.9C727.6 1107.5 725.9 1116.2 723.2 1122.7C720.5 1129.3 716.9 1134.5 711.8 1139.1C706.6 1143.7 699.2 1147 692.2 1150.5C685.1 1154.1 677.5 1157.6 669.3 1160.3C661.1 1163.1 649.7 1167.4 643.1 1166.9C636.6 1166.3 636.6 1159.8 630.1 1157.1C623.5 1154.3 611.5 1153.5 603.9 1150.5C596.3 1147.5 589.8 1144.8 584.3 1139.1C578.9 1133.4 574 1124.9 571.2 1116.2C568.5 1107.5 568 1097.1 568 1086.8C568 1076.4 568.5 1062 571.2 1054.1Z" fill="#8FAADC" stroke="#0F74C4" stroke-width="4.6"/><path d="M479.7 903.6Q490.2 912.9 479.7 922.3Q469.3 912.9 479.7 903.6Z" fill="#B4C7E7"/><path d="M647.4 879.4Q657.2 888.4 647.4 897.4Q637.6 888.4 647.4 879.4Z" fill="#B4C7E7"/><ellipse cx="572.9" cy="964.9" rx="7.8" ry="6.9" fill="#B4C7E7"/><ellipse cx="462.7" cy="1014.9" rx="7.8" ry="7.4" fill="#B4C7E7"/><path d="M782 970Q793.1 990.4 782 1010.8Q770.9 990.4 782 970Z" fill="#B4C7E7"/><path d="M721.6 1018Q732 1027 721.6 1036Q711.1 1027 721.6 1018Z" fill="#B4C7E7"/><path d="M415 1049.2Q426.1 1063.9 415 1078.6Q403.9 1063.9 415 1049.2Z" fill="#B4C7E7"/><path d="M542.2 1047.9Q553.3 1062.9 542.2 1078Q531 1062.9 542.2 1047.9Z" fill="#B4C7E7"/><path d="M465 1085.8Q474.8 1094.3 465 1102.8Q455.2 1094.3 465 1085.8Z" fill="#B4C7E7"/><path d="M539.5 1165.1Q549.3 1174.1 539.5 1183Q529.7 1174.1 539.5 1165.1Z" fill="#B4C7E7"/><path d="M726.5 1184.7Q736.9 1193.7 726.5 1202.6Q716 1193.7 726.5 1184.7Z" fill="#B4C7E7"/></g><g transform="matrix(0.4220 0 0 0.4165 2415.5 2492.1)"><path d="M546.7 796.9C554.9 796.9 568.8 801.8 577.8 805.8C586.8 809.7 590.3 816.4 600.7 820.5C611 824.5 626.8 827.5 639.9 830.3C652.9 833 668.2 834.1 679.1 836.8C690 839.5 697.1 841.4 705.2 846.6C713.4 851.8 721 860.5 728.1 867.8C735.2 875.2 741.7 882.5 747.7 890.7C753.7 898.9 757.5 909.2 764.1 916.9C770.6 924.5 778.8 931.3 786.9 936.5C795.1 941.6 805.7 944.1 813.1 947.9C820.4 951.7 827.5 954.7 831 959.3C834.6 964 834.3 968.6 834.3 975.7C834.3 982.8 833.5 992.6 831 1001.8C828.6 1011.1 823.7 1022.5 819.6 1031.2C815.5 1040 809.8 1044.9 806.5 1054.1C803.3 1063.4 801.4 1075.9 800 1086.8C798.6 1097.7 799.5 1109.7 798.4 1119.5C797.3 1129.3 796.5 1136.9 793.5 1145.6C790.5 1154.3 786.9 1163.6 780.4 1171.8C773.9 1179.9 763 1187 754.2 1194.6C745.5 1202.3 734.6 1209.6 728.1 1217.5C721.6 1225.4 721 1235.8 715 1242C709 1248.3 701.4 1252.6 692.2 1255.1C682.9 1257.5 669.8 1257.5 659.5 1256.7C649.1 1255.9 637.7 1253.5 630.1 1250.2C622.4 1246.9 619.7 1241.5 613.7 1237.1C607.7 1232.8 601.2 1227.3 594.1 1224.1C587 1220.8 581 1218.1 571.2 1217.5C561.4 1217 546.7 1218.9 535.3 1220.8C523.9 1222.7 511.3 1227.3 502.6 1229C493.9 1230.6 487.9 1233 483 1230.6C478.1 1228.1 475.9 1220.8 473.2 1214.2C470.5 1207.7 468.8 1197.6 466.7 1191.4C464.5 1185.1 463.9 1181 460.1 1176.7C456.3 1172.3 452.5 1166.9 443.8 1165.2C435.1 1163.6 418.7 1165.7 407.8 1166.9C396.9 1168.1 385.8 1172.7 378.4 1172.4C371.1 1172.1 367.3 1169.7 363.7 1165.2C360.2 1160.8 358.6 1154.3 357.2 1145.6C355.8 1136.9 355.8 1123.3 355.6 1112.9C355.3 1102.6 357.7 1092.2 355.6 1083.5C353.4 1074.8 345.9 1068.3 342.5 1060.7C339.1 1053 335.6 1044.9 335.3 1037.8C335 1030.7 337.2 1023.9 340.8 1018.2C344.5 1012.5 352.3 1008.9 357.2 1003.5C362.1 998 367.5 992.3 370.3 985.5C373 978.7 373.8 973 373.5 962.6C373.3 952.3 370.3 935.4 368.6 923.4C367 911.4 363.5 899.4 363.7 890.7C364 882 366.2 876.6 370.3 871.1C374.3 865.7 379.2 861.3 388.2 858C397.2 854.8 412.7 853.1 424.2 851.5C435.6 849.9 446 851 456.9 848.2C467.8 845.5 479.7 840.1 489.5 835.2C499.3 830.3 509.2 823.7 515.7 818.8C522.2 813.9 523.6 809.4 528.8 805.8C533.9 802.1 538.6 796.9 546.7 796.9Z" fill="#8FAADC" stroke="#2F5597" stroke-width="4" stroke-linejoin="round"/><path d="M613.7 1237.1C615.9 1237.8 621.6 1240.3 626.8 1241C632 1241.8 641.8 1241.3 644.8 1241.4" fill="none" stroke="#2F5597" stroke-width="3.6" stroke-linecap="round"/><path d="M571.2 1054.1C574 1046.2 577.8 1043.7 584.3 1039.4C590.8 1035.2 600.7 1030.8 610.5 1028.6C620.3 1026.4 632.2 1026.9 643.1 1026.3C654 1025.8 666.6 1023.5 675.8 1025.4C685.1 1027.3 692.7 1033 698.7 1037.8C704.7 1042.6 707.1 1047.6 711.8 1054.1C716.4 1060.7 723.7 1069.4 726.5 1077C729.2 1084.6 728.6 1092.2 728.1 1099.9C727.6 1107.5 725.9 1116.2 723.2 1122.7C720.5 1129.3 716.9 1134.5 711.8 1139.1C706.6 1143.7 699.2 1147 692.2 1150.5C685.1 1154.1 677.5 1157.6 669.3 1160.3C661.1 1163.1 649.7 1167.4 643.1 1166.9C636.6 1166.3 636.6 1159.8 630.1 1157.1C623.5 1154.3 611.5 1153.5 603.9 1150.5C596.3 1147.5 589.8 1144.8 584.3 1139.1C578.9 1133.4 574 1124.9 571.2 1116.2C568.5 1107.5 568 1097.1 568 1086.8C568 1076.4 568.5 1062 571.2 1054.1Z" fill="#0070C0" stroke="#1F6FB8" stroke-width="3"/><path d="M479.7 903.6Q490.2 912.9 479.7 922.3Q469.3 912.9 479.7 903.6Z" fill="#2E75B6"/><path d="M647.4 879.4Q657.2 888.4 647.4 897.4Q637.6 888.4 647.4 879.4Z" fill="#2E75B6"/><ellipse cx="572.9" cy="964.9" rx="7.8" ry="6.9" fill="#2E75B6"/><ellipse cx="462.7" cy="1014.9" rx="7.8" ry="7.4" fill="#2E75B6"/><path d="M782 970Q793.1 990.4 782 1010.8Q770.9 990.4 782 970Z" fill="#2E75B6"/><path d="M721.6 1018Q732 1027 721.6 1036Q711.1 1027 721.6 1018Z" fill="#2E75B6"/><path d="M415 1049.2Q426.1 1063.9 415 1078.6Q403.9 1063.9 415 1049.2Z" fill="#2E75B6"/><path d="M542.2 1047.9Q553.3 1062.9 542.2 1078Q531 1062.9 542.2 1047.9Z" fill="#2E75B6"/><path d="M465 1085.8Q474.8 1094.3 465 1102.8Q455.2 1094.3 465 1085.8Z" fill="#2E75B6"/><path d="M539.5 1165.1Q549.3 1174.1 539.5 1183Q529.7 1174.1 539.5 1165.1Z" fill="#2E75B6"/><path d="M726.5 1184.7Q736.9 1193.7 726.5 1202.6Q716 1193.7 726.5 1184.7Z" fill="#2E75B6"/></g><g transform="matrix(0.4610 0 0 0.5230 2320.7 630.1)"><path d="M1674.3 2695.9L1675.7 2677.3M1662.4 2666.6L1675.7 2677.3L1698.3 2667.9M1759.6 2730.5L1768.9 2713.2M1764.9 2699.9L1768.9 2713.2L1796.9 2713.2M1806.2 2781.1L1823.5 2771.8M1816.8 2751.8L1823.5 2771.8L1840.8 2779.8M1835.5 2853.1L1862.1 2847.7M1870.1 2834.4L1862.1 2847.7L1870.1 2865M1770.2 2948.9L1783.5 2960.9M1806.2 2948.9L1783.5 2960.9L1782.2 2976.9M1667.7 2988.9L1667.7 3011.5M1646.4 3012.9L1667.7 3011.5L1682.3 3019.5M1569.1 2968.9L1561.1 2988.9M1539.8 2987.6L1561.1 2988.9L1569.1 3004.9M1485.2 2903.7L1465.3 2914.3M1449.3 2901L1465.3 2914.3L1461.3 2929M1479.9 2794.5L1461.3 2789.1M1449.3 2770.5L1461.3 2789.1L1441.3 2801.1M1541.2 2723.9L1533.2 2709.2M1511.9 2707.9L1533.2 2709.2L1539.8 2689.3" fill="none" stroke="#000" stroke-width="6" stroke-linejoin="round"/><path d="M1626.4 2694.6C1636.2 2694.7 1653 2694.8 1666.3 2695.9C1679.7 2697 1694.3 2698.1 1706.3 2701.2C1718.3 2704.3 1728.1 2708.6 1738.3 2714.6C1748.5 2720.5 1758.7 2729 1767.6 2737.2C1776.4 2745.4 1784 2754.5 1791.5 2763.8C1799.1 2773.1 1806.2 2784.2 1812.8 2793.1C1819.5 2802 1827.5 2810.4 1831.5 2817.1C1835.5 2823.8 1836.1 2826 1836.8 2833.1C1837.5 2840.2 1836.8 2850.8 1835.5 2859.7C1834.1 2868.6 1833 2877.9 1828.8 2886.3C1824.6 2894.8 1817.7 2901.9 1810.2 2910.3C1802.6 2918.8 1793.3 2928.5 1783.5 2937C1773.8 2945.4 1762.2 2953.8 1751.6 2960.9C1740.9 2968 1729.4 2974.9 1719.6 2979.6C1709.9 2984.2 1704.1 2987.1 1693 2988.9C1681.9 2990.7 1666.3 2990.9 1653 2990.2C1639.7 2989.6 1625.1 2988 1613.1 2984.9C1601.1 2981.8 1591.8 2977.8 1581.1 2971.6C1570.5 2965.4 1559.8 2955.6 1549.2 2947.6C1538.5 2939.6 1527 2931.2 1517.2 2923.6C1507.4 2916.1 1496.6 2910.8 1490.6 2902.3C1484.6 2893.9 1483 2884.6 1481.2 2873C1479.5 2861.5 1480.6 2844.2 1479.9 2833.1C1479.2 2822 1476.8 2813.5 1477.2 2806.4C1477.7 2799.3 1479 2797.1 1482.6 2790.5C1486.1 2783.8 1492.8 2774 1498.5 2766.5C1504.3 2758.9 1510.1 2752.1 1517.2 2745.2C1524.3 2738.3 1533.2 2731.2 1541.2 2725.2C1549.2 2719.2 1557.6 2713.4 1565.1 2709.2C1572.7 2705 1579.3 2702.2 1586.4 2699.9C1593.5 2697.6 1601.1 2696.3 1607.8 2695.4C1614.4 2694.5 1616.6 2694.5 1626.4 2694.6Z" fill="none" stroke="#1F3864" stroke-width="5.4"/><path d="M1594.4 2830.4C1597.1 2825.3 1602 2822 1607.8 2818.4C1613.5 2814.9 1621.1 2811.1 1629.1 2809.1C1637 2807.1 1646.4 2806.8 1655.7 2806.4C1665 2806.1 1677.4 2805 1685 2807C1692.5 2809 1695.6 2815 1701 2818.4C1706.3 2821.9 1713.2 2822.6 1717 2827.8C1720.7 2832.9 1723.2 2841.5 1723.6 2849.1C1724.1 2856.6 1722.5 2866.4 1719.6 2873C1716.7 2879.7 1712.5 2884.8 1706.3 2889C1700.1 2893.2 1691.2 2896.3 1682.3 2898.3C1673.4 2900.3 1662.4 2901.2 1653 2901C1643.7 2900.8 1634.4 2899.4 1626.4 2897C1618.4 2894.6 1610.4 2891.2 1605.1 2886.3C1599.8 2881.5 1596.7 2873.9 1594.4 2867.7C1592.2 2861.5 1591.8 2855.3 1591.8 2849.1C1591.8 2842.8 1591.8 2835.5 1594.4 2830.4Z" fill="none" stroke="#1F3864" stroke-width="5.4"/><ellipse cx="1629.6" cy="2723.3" rx="2.9" ry="5.6" fill="#000"/><ellipse cx="1737.7" cy="2776" rx="6.4" ry="3.7" fill="#000"/><ellipse cx="1530.5" cy="2825" rx="6.7" ry="3.7" fill="#000"/><ellipse cx="1791.5" cy="2869.8" rx="5.9" ry="4" fill="#000"/><ellipse cx="1592.3" cy="2926.5" rx="5.9" ry="3.7" fill="#000"/><ellipse cx="1737.2" cy="2936.9" rx="5.9" ry="3.7" fill="#000"/></g><g transform="matrix(0.4610 0 0 0.5230 2319.6 1031.3)"><path d="M1674.3 2695.9L1675.7 2677.3M1662.4 2666.6L1675.7 2677.3L1698.3 2667.9M1759.6 2730.5L1768.9 2713.2M1764.9 2699.9L1768.9 2713.2L1796.9 2713.2M1806.2 2781.1L1823.5 2771.8M1816.8 2751.8L1823.5 2771.8L1840.8 2779.8M1835.5 2853.1L1862.1 2847.7M1870.1 2834.4L1862.1 2847.7L1870.1 2865M1770.2 2948.9L1783.5 2960.9M1806.2 2948.9L1783.5 2960.9L1782.2 2976.9M1667.7 2988.9L1667.7 3011.5M1646.4 3012.9L1667.7 3011.5L1682.3 3019.5M1569.1 2968.9L1561.1 2988.9M1539.8 2987.6L1561.1 2988.9L1569.1 3004.9M1485.2 2903.7L1465.3 2914.3M1449.3 2901L1465.3 2914.3L1461.3 2929M1479.9 2794.5L1461.3 2789.1M1449.3 2770.5L1461.3 2789.1L1441.3 2801.1M1541.2 2723.9L1533.2 2709.2M1511.9 2707.9L1533.2 2709.2L1539.8 2689.3" fill="none" stroke="#F4B183" stroke-width="4.5" stroke-linejoin="round"/><path d="M1626.4 2694.6C1636.2 2694.7 1653 2694.8 1666.3 2695.9C1679.7 2697 1694.3 2698.1 1706.3 2701.2C1718.3 2704.3 1728.1 2708.6 1738.3 2714.6C1748.5 2720.5 1758.7 2729 1767.6 2737.2C1776.4 2745.4 1784 2754.5 1791.5 2763.8C1799.1 2773.1 1806.2 2784.2 1812.8 2793.1C1819.5 2802 1827.5 2810.4 1831.5 2817.1C1835.5 2823.8 1836.1 2826 1836.8 2833.1C1837.5 2840.2 1836.8 2850.8 1835.5 2859.7C1834.1 2868.6 1833 2877.9 1828.8 2886.3C1824.6 2894.8 1817.7 2901.9 1810.2 2910.3C1802.6 2918.8 1793.3 2928.5 1783.5 2937C1773.8 2945.4 1762.2 2953.8 1751.6 2960.9C1740.9 2968 1729.4 2974.9 1719.6 2979.6C1709.9 2984.2 1704.1 2987.1 1693 2988.9C1681.9 2990.7 1666.3 2990.9 1653 2990.2C1639.7 2989.6 1625.1 2988 1613.1 2984.9C1601.1 2981.8 1591.8 2977.8 1581.1 2971.6C1570.5 2965.4 1559.8 2955.6 1549.2 2947.6C1538.5 2939.6 1527 2931.2 1517.2 2923.6C1507.4 2916.1 1496.6 2910.8 1490.6 2902.3C1484.6 2893.9 1483 2884.6 1481.2 2873C1479.5 2861.5 1480.6 2844.2 1479.9 2833.1C1479.2 2822 1476.8 2813.5 1477.2 2806.4C1477.7 2799.3 1479 2797.1 1482.6 2790.5C1486.1 2783.8 1492.8 2774 1498.5 2766.5C1504.3 2758.9 1510.1 2752.1 1517.2 2745.2C1524.3 2738.3 1533.2 2731.2 1541.2 2725.2C1549.2 2719.2 1557.6 2713.4 1565.1 2709.2C1572.7 2705 1579.3 2702.2 1586.4 2699.9C1593.5 2697.6 1601.1 2696.3 1607.8 2695.4C1614.4 2694.5 1616.6 2694.5 1626.4 2694.6Z" fill="#FFF2CC" stroke="#FFD966" stroke-width="4.6"/><path d="M1594.4 2830.4C1597.1 2825.3 1602 2822 1607.8 2818.4C1613.5 2814.9 1621.1 2811.1 1629.1 2809.1C1637 2807.1 1646.4 2806.8 1655.7 2806.4C1665 2806.1 1677.4 2805 1685 2807C1692.5 2809 1695.6 2815 1701 2818.4C1706.3 2821.9 1713.2 2822.6 1717 2827.8C1720.7 2832.9 1723.2 2841.5 1723.6 2849.1C1724.1 2856.6 1722.5 2866.4 1719.6 2873C1716.7 2879.7 1712.5 2884.8 1706.3 2889C1700.1 2893.2 1691.2 2896.3 1682.3 2898.3C1673.4 2900.3 1662.4 2901.2 1653 2901C1643.7 2900.8 1634.4 2899.4 1626.4 2897C1618.4 2894.6 1610.4 2891.2 1605.1 2886.3C1599.8 2881.5 1596.7 2873.9 1594.4 2867.7C1592.2 2861.5 1591.8 2855.3 1591.8 2849.1C1591.8 2842.8 1591.8 2835.5 1594.4 2830.4Z" fill="#FFE699" stroke="#BF9000" stroke-width="5.2"/><ellipse cx="1616.3" cy="2737.2" rx="2.9" ry="5.6" fill="#BF9000"/><ellipse cx="1724.4" cy="2789.9" rx="6.4" ry="3.7" fill="#BF9000"/><ellipse cx="1517.2" cy="2838.9" rx="6.7" ry="3.7" fill="#BF9000"/><ellipse cx="1778.2" cy="2883.7" rx="5.9" ry="4" fill="#BF9000"/><ellipse cx="1579" cy="2940.4" rx="5.9" ry="3.7" fill="#BF9000"/><ellipse cx="1723.9" cy="2950.8" rx="5.9" ry="3.7" fill="#BF9000"/></g><g transform="matrix(0.4610 0 0 0.5230 2320.7 1426.7)"><path d="M1674.3 2695.9L1675.7 2677.3M1662.4 2666.6L1675.7 2677.3L1698.3 2667.9M1759.6 2730.5L1768.9 2713.2M1764.9 2699.9L1768.9 2713.2L1796.9 2713.2M1806.2 2781.1L1823.5 2771.8M1816.8 2751.8L1823.5 2771.8L1840.8 2779.8M1835.5 2853.1L1862.1 2847.7M1870.1 2834.4L1862.1 2847.7L1870.1 2865M1770.2 2948.9L1783.5 2960.9M1806.2 2948.9L1783.5 2960.9L1782.2 2976.9M1667.7 2988.9L1667.7 3011.5M1646.4 3012.9L1667.7 3011.5L1682.3 3019.5M1569.1 2968.9L1561.1 2988.9M1539.8 2987.6L1561.1 2988.9L1569.1 3004.9M1485.2 2903.7L1465.3 2914.3M1449.3 2901L1465.3 2914.3L1461.3 2929M1479.9 2794.5L1461.3 2789.1M1449.3 2770.5L1461.3 2789.1L1441.3 2801.1M1541.2 2723.9L1533.2 2709.2M1511.9 2707.9L1533.2 2709.2L1539.8 2689.3" fill="none" stroke="#C55A11" stroke-width="4.7" stroke-linejoin="round"/><path d="M1626.4 2694.6C1636.2 2694.7 1653 2694.8 1666.3 2695.9C1679.7 2697 1694.3 2698.1 1706.3 2701.2C1718.3 2704.3 1728.1 2708.6 1738.3 2714.6C1748.5 2720.5 1758.7 2729 1767.6 2737.2C1776.4 2745.4 1784 2754.5 1791.5 2763.8C1799.1 2773.1 1806.2 2784.2 1812.8 2793.1C1819.5 2802 1827.5 2810.4 1831.5 2817.1C1835.5 2823.8 1836.1 2826 1836.8 2833.1C1837.5 2840.2 1836.8 2850.8 1835.5 2859.7C1834.1 2868.6 1833 2877.9 1828.8 2886.3C1824.6 2894.8 1817.7 2901.9 1810.2 2910.3C1802.6 2918.8 1793.3 2928.5 1783.5 2937C1773.8 2945.4 1762.2 2953.8 1751.6 2960.9C1740.9 2968 1729.4 2974.9 1719.6 2979.6C1709.9 2984.2 1704.1 2987.1 1693 2988.9C1681.9 2990.7 1666.3 2990.9 1653 2990.2C1639.7 2989.6 1625.1 2988 1613.1 2984.9C1601.1 2981.8 1591.8 2977.8 1581.1 2971.6C1570.5 2965.4 1559.8 2955.6 1549.2 2947.6C1538.5 2939.6 1527 2931.2 1517.2 2923.6C1507.4 2916.1 1496.6 2910.8 1490.6 2902.3C1484.6 2893.9 1483 2884.6 1481.2 2873C1479.5 2861.5 1480.6 2844.2 1479.9 2833.1C1479.2 2822 1476.8 2813.5 1477.2 2806.4C1477.7 2799.3 1479 2797.1 1482.6 2790.5C1486.1 2783.8 1492.8 2774 1498.5 2766.5C1504.3 2758.9 1510.1 2752.1 1517.2 2745.2C1524.3 2738.3 1533.2 2731.2 1541.2 2725.2C1549.2 2719.2 1557.6 2713.4 1565.1 2709.2C1572.7 2705 1579.3 2702.2 1586.4 2699.9C1593.5 2697.6 1601.1 2696.3 1607.8 2695.4C1614.4 2694.5 1616.6 2694.5 1626.4 2694.6Z" fill="#FFD966" stroke="#BF9000" stroke-width="4.3"/><path d="M1594.4 2830.4C1597.1 2825.3 1602 2822 1607.8 2818.4C1613.5 2814.9 1621.1 2811.1 1629.1 2809.1C1637 2807.1 1646.4 2806.8 1655.7 2806.4C1665 2806.1 1677.4 2805 1685 2807C1692.5 2809 1695.6 2815 1701 2818.4C1706.3 2821.9 1713.2 2822.6 1717 2827.8C1720.7 2832.9 1723.2 2841.5 1723.6 2849.1C1724.1 2856.6 1722.5 2866.4 1719.6 2873C1716.7 2879.7 1712.5 2884.8 1706.3 2889C1700.1 2893.2 1691.2 2896.3 1682.3 2898.3C1673.4 2900.3 1662.4 2901.2 1653 2901C1643.7 2900.8 1634.4 2899.4 1626.4 2897C1618.4 2894.6 1610.4 2891.2 1605.1 2886.3C1599.8 2881.5 1596.7 2873.9 1594.4 2867.7C1592.2 2861.5 1591.8 2855.3 1591.8 2849.1C1591.8 2842.8 1591.8 2835.5 1594.4 2830.4Z" fill="#BF9000" stroke="#7F6000" stroke-width="4.2"/><ellipse cx="1616.3" cy="2737.2" rx="2.9" ry="5.6" fill="#4A5572"/><ellipse cx="1724.4" cy="2789.9" rx="6.4" ry="3.7" fill="#4A5572"/><ellipse cx="1517.2" cy="2838.9" rx="6.7" ry="3.7" fill="#4A5572"/><ellipse cx="1778.2" cy="2883.7" rx="5.9" ry="4" fill="#4A5572"/><ellipse cx="1579" cy="2940.4" rx="5.9" ry="3.7" fill="#4A5572"/><ellipse cx="1723.9" cy="2950.8" rx="5.9" ry="3.7" fill="#4A5572"/></g><g transform="matrix(0.4677 0 0 0.5234 3074.1 1058.9)"><path d="M825.4 1842C834.3 1841.3 853 1845.8 866.1 1845.8C879.3 1845.8 890.3 1843.2 904.3 1842C918.2 1840.7 935.2 1838.4 950 1838.1C964.9 1837.8 980.5 1838.5 993.2 1840.2C1006 1841.9 1015.7 1844 1026.3 1848.3C1036.9 1852.6 1047.5 1859.3 1056.8 1866.1C1066.1 1872.9 1074.2 1880.1 1082.2 1889C1090.3 1897.9 1098.8 1909.8 1105.1 1919.5C1111.5 1929.2 1116.1 1937.7 1120.4 1947.5C1124.6 1957.2 1127.8 1967.8 1130.5 1978C1133.3 1988.2 1136.3 1997.5 1136.9 2008.5C1137.5 2019.5 1136.3 2032.6 1134.4 2044.1C1132.5 2055.5 1129.9 2065.7 1125.5 2077.1C1121 2088.6 1115.3 2101.3 1107.7 2112.7C1100 2124.2 1090.3 2136.5 1079.7 2145.8C1069.1 2155.1 1056.4 2162.3 1044.1 2168.7C1031.8 2175 1019.5 2179.9 1006 2183.9C992.4 2188 977.6 2190.9 962.7 2192.8C947.9 2194.7 931.8 2195.6 917 2195.4C902.1 2195.2 888.6 2193.9 873.7 2191.6C858.9 2189.2 843.2 2185.6 828 2181.4C812.7 2177.2 796.2 2171.2 782.2 2166.1C768.2 2161 754.7 2156 744.1 2150.9C733.5 2145.8 723.7 2142 718.6 2135.6C713.6 2129.3 716.5 2119.9 713.6 2112.7C710.6 2105.5 704 2102.1 700.9 2092.4C697.7 2082.7 695.8 2067 694.5 2054.3C693.2 2041.5 692.6 2028 693.2 2016.1C693.9 2004.3 695.3 1994.5 698.3 1983.1C701.3 1971.6 706.4 1958.9 711 1947.5C715.7 1936 720.3 1924.6 726.3 1914.4C732.2 1904.2 739 1894.5 746.6 1886.4C754.2 1878.4 763.6 1871.4 772 1866.1C780.5 1860.8 790.7 1857.4 797.5 1854.7C804.3 1851.9 808.1 1851.7 812.7 1849.6C817.4 1847.5 816.5 1842.6 825.4 1842Z" fill="none" stroke="#1F3864" stroke-width="8"/><path d="M845.8 2016.1C847.9 2007.2 848.7 1997.9 853.4 1990.7C858.1 1983.5 866.1 1977.3 873.7 1972.9C881.4 1968.4 890.3 1965.7 899.2 1964C908.1 1962.3 917.8 1961.7 927.1 1962.7C936.5 1963.8 946.6 1966.1 955.1 1970.4C963.6 1974.6 972.1 1980.5 978 1988.2C983.9 1995.8 988.8 2006.8 990.7 2016.1C992.6 2025.4 991.1 2035.2 989.4 2044.1C987.7 2053 984.1 2061.9 980.5 2069.5C976.9 2077.1 972.9 2084.3 967.8 2089.9C962.7 2095.4 957.2 2099.8 950 2102.6C942.8 2105.3 933.1 2106.2 924.6 2106.4C916.1 2106.6 907.6 2106.2 899.2 2103.8C890.7 2101.5 881.4 2097.3 873.7 2092.4C866.1 2087.5 858.9 2082.7 853.4 2074.6C847.9 2066.5 842 2053.8 840.7 2044.1C839.4 2034.3 843.7 2025 845.8 2016.1Z" fill="none" stroke="#1F3864" stroke-width="7"/><path d="M959.8 1896.5L960.3 1881.3M945.1 1871.1L960.3 1881.3L975.6 1869.8M883.6 1928.3L884.1 1913M868.8 1902.9L884.1 1913L899.8 1902.4M1025.9 1984.7L1038.7 1971.5M1031.5 1960.8L1038.7 1971.5L1053.9 1967.7M768.4 2028L782.9 2016M776 2004.1L782.9 2016L798.1 2017.3M1035.3 2093.1L1048.1 2082.1M1044.2 2068.1L1048.1 2082.1L1065.9 2082.1M818.5 2129.7L815.4 2113.9M797.6 2110.9L815.4 2113.9L825.1 2100.7M953.5 2168.6L954 2153.3M938.7 2143.2L954 2153.3L969.2 2142.4" fill="none" stroke="#000" stroke-width="7.5" stroke-linejoin="round" stroke-linecap="round"/><ellipse cx="810.8" cy="1933.8" rx="10.8" ry="6.6" fill="#000"/><ellipse cx="995.2" cy="1918.1" rx="10.8" ry="6.6" fill="#000"/><ellipse cx="1082.9" cy="2015.2" rx="10.8" ry="6.6" fill="#000"/><ellipse cx="775.2" cy="2064.8" rx="10.8" ry="7" fill="#000"/><ellipse cx="1009.2" cy="2130.9" rx="10.8" ry="7.6" fill="#000"/><ellipse cx="877.5" cy="2151.2" rx="5.1" ry="11.7" fill="#000"/></g><g transform="matrix(0.4677 0 0 0.5234 3074.1 1463.3)"><path d="M825.4 1842C834.3 1841.3 853 1845.8 866.1 1845.8C879.3 1845.8 890.3 1843.2 904.3 1842C918.2 1840.7 935.2 1838.4 950 1838.1C964.9 1837.8 980.5 1838.5 993.2 1840.2C1006 1841.9 1015.7 1844 1026.3 1848.3C1036.9 1852.6 1047.5 1859.3 1056.8 1866.1C1066.1 1872.9 1074.2 1880.1 1082.2 1889C1090.3 1897.9 1098.8 1909.8 1105.1 1919.5C1111.5 1929.2 1116.1 1937.7 1120.4 1947.5C1124.6 1957.2 1127.8 1967.8 1130.5 1978C1133.3 1988.2 1136.3 1997.5 1136.9 2008.5C1137.5 2019.5 1136.3 2032.6 1134.4 2044.1C1132.5 2055.5 1129.9 2065.7 1125.5 2077.1C1121 2088.6 1115.3 2101.3 1107.7 2112.7C1100 2124.2 1090.3 2136.5 1079.7 2145.8C1069.1 2155.1 1056.4 2162.3 1044.1 2168.7C1031.8 2175 1019.5 2179.9 1006 2183.9C992.4 2188 977.6 2190.9 962.7 2192.8C947.9 2194.7 931.8 2195.6 917 2195.4C902.1 2195.2 888.6 2193.9 873.7 2191.6C858.9 2189.2 843.2 2185.6 828 2181.4C812.7 2177.2 796.2 2171.2 782.2 2166.1C768.2 2161 754.7 2156 744.1 2150.9C733.5 2145.8 723.7 2142 718.6 2135.6C713.6 2129.3 716.5 2119.9 713.6 2112.7C710.6 2105.5 704 2102.1 700.9 2092.4C697.7 2082.7 695.8 2067 694.5 2054.3C693.2 2041.5 692.6 2028 693.2 2016.1C693.9 2004.3 695.3 1994.5 698.3 1983.1C701.3 1971.6 706.4 1958.9 711 1947.5C715.7 1936 720.3 1924.6 726.3 1914.4C732.2 1904.2 739 1894.5 746.6 1886.4C754.2 1878.4 763.6 1871.4 772 1866.1C780.5 1860.8 790.7 1857.4 797.5 1854.7C804.3 1851.9 808.1 1851.7 812.7 1849.6C817.4 1847.5 816.5 1842.6 825.4 1842Z" fill="#E2F0D9" stroke="#A9D18E" stroke-width="7"/><path d="M845.8 2016.1C847.9 2007.2 848.7 1997.9 853.4 1990.7C858.1 1983.5 866.1 1977.3 873.7 1972.9C881.4 1968.4 890.3 1965.7 899.2 1964C908.1 1962.3 917.8 1961.7 927.1 1962.7C936.5 1963.8 946.6 1966.1 955.1 1970.4C963.6 1974.6 972.1 1980.5 978 1988.2C983.9 1995.8 988.8 2006.8 990.7 2016.1C992.6 2025.4 991.1 2035.2 989.4 2044.1C987.7 2053 984.1 2061.9 980.5 2069.5C976.9 2077.1 972.9 2084.3 967.8 2089.9C962.7 2095.4 957.2 2099.8 950 2102.6C942.8 2105.3 933.1 2106.2 924.6 2106.4C916.1 2106.6 907.6 2106.2 899.2 2103.8C890.7 2101.5 881.4 2097.3 873.7 2092.4C866.1 2087.5 858.9 2082.7 853.4 2074.6C847.9 2066.5 842 2053.8 840.7 2044.1C839.4 2034.3 843.7 2025 845.8 2016.1Z" fill="#C5E0B4" stroke="#548235" stroke-width="6.5"/><path d="M944.4 1887.7L944.9 1872.5M929.7 1862.3L944.9 1872.5L960.2 1861M868.2 1919.5L868.7 1904.2M853.4 1894.1L868.7 1904.2L884.4 1893.6M1010.5 1975.9L1023.3 1962.7M1016.1 1952L1023.3 1962.7L1038.5 1958.9M753 2019.2L767.5 2007.2M760.6 1995.3L767.5 2007.2L782.7 2008.5M1019.9 2084.3L1032.7 2073.3M1028.8 2059.3L1032.7 2073.3L1050.5 2073.3M803.1 2120.9L800 2105.1M782.2 2102.1L800 2105.1L809.7 2091.9M938.1 2159.8L938.6 2144.5M923.3 2134.4L938.6 2144.5L953.8 2133.6" fill="none" stroke="#92D050" stroke-width="6.5" stroke-linejoin="round" stroke-linecap="round"/><ellipse cx="807.6" cy="1922" rx="10.8" ry="6.6" fill="#92D050"/><ellipse cx="992" cy="1906.3" rx="10.8" ry="6.6" fill="#92D050"/><ellipse cx="1079.7" cy="2003.4" rx="10.8" ry="6.6" fill="#92D050"/><ellipse cx="772" cy="2053" rx="10.8" ry="7" fill="#92D050"/><ellipse cx="1006" cy="2119.1" rx="10.8" ry="7.6" fill="#92D050"/><ellipse cx="874.3" cy="2139.4" rx="5.1" ry="11.7" fill="#92D050"/></g><g transform="matrix(0.4677 0 0 0.5234 3064.6 1864.4)"><path d="M825.4 1842C834.3 1841.3 853 1845.8 866.1 1845.8C879.3 1845.8 890.3 1843.2 904.3 1842C918.2 1840.7 935.2 1838.4 950 1838.1C964.9 1837.8 980.5 1838.5 993.2 1840.2C1006 1841.9 1015.7 1844 1026.3 1848.3C1036.9 1852.6 1047.5 1859.3 1056.8 1866.1C1066.1 1872.9 1074.2 1880.1 1082.2 1889C1090.3 1897.9 1098.8 1909.8 1105.1 1919.5C1111.5 1929.2 1116.1 1937.7 1120.4 1947.5C1124.6 1957.2 1127.8 1967.8 1130.5 1978C1133.3 1988.2 1136.3 1997.5 1136.9 2008.5C1137.5 2019.5 1136.3 2032.6 1134.4 2044.1C1132.5 2055.5 1129.9 2065.7 1125.5 2077.1C1121 2088.6 1115.3 2101.3 1107.7 2112.7C1100 2124.2 1090.3 2136.5 1079.7 2145.8C1069.1 2155.1 1056.4 2162.3 1044.1 2168.7C1031.8 2175 1019.5 2179.9 1006 2183.9C992.4 2188 977.6 2190.9 962.7 2192.8C947.9 2194.7 931.8 2195.6 917 2195.4C902.1 2195.2 888.6 2193.9 873.7 2191.6C858.9 2189.2 843.2 2185.6 828 2181.4C812.7 2177.2 796.2 2171.2 782.2 2166.1C768.2 2161 754.7 2156 744.1 2150.9C733.5 2145.8 723.7 2142 718.6 2135.6C713.6 2129.3 716.5 2119.9 713.6 2112.7C710.6 2105.5 704 2102.1 700.9 2092.4C697.7 2082.7 695.8 2067 694.5 2054.3C693.2 2041.5 692.6 2028 693.2 2016.1C693.9 2004.3 695.3 1994.5 698.3 1983.1C701.3 1971.6 706.4 1958.9 711 1947.5C715.7 1936 720.3 1924.6 726.3 1914.4C732.2 1904.2 739 1894.5 746.6 1886.4C754.2 1878.4 763.6 1871.4 772 1866.1C780.5 1860.8 790.7 1857.4 797.5 1854.7C804.3 1851.9 808.1 1851.7 812.7 1849.6C817.4 1847.5 816.5 1842.6 825.4 1842Z" fill="#A9D18E" stroke="#548235" stroke-width="7"/><path d="M845.8 2016.1C847.9 2007.2 848.7 1997.9 853.4 1990.7C858.1 1983.5 866.1 1977.3 873.7 1972.9C881.4 1968.4 890.3 1965.7 899.2 1964C908.1 1962.3 917.8 1961.7 927.1 1962.7C936.5 1963.8 946.6 1966.1 955.1 1970.4C963.6 1974.6 972.1 1980.5 978 1988.2C983.9 1995.8 988.8 2006.8 990.7 2016.1C992.6 2025.4 991.1 2035.2 989.4 2044.1C987.7 2053 984.1 2061.9 980.5 2069.5C976.9 2077.1 972.9 2084.3 967.8 2089.9C962.7 2095.4 957.2 2099.8 950 2102.6C942.8 2105.3 933.1 2106.2 924.6 2106.4C916.1 2106.6 907.6 2106.2 899.2 2103.8C890.7 2101.5 881.4 2097.3 873.7 2092.4C866.1 2087.5 858.9 2082.7 853.4 2074.6C847.9 2066.5 842 2053.8 840.7 2044.1C839.4 2034.3 843.7 2025 845.8 2016.1Z" fill="#00B050" stroke="#375623" stroke-width="6.5"/><path d="M944.4 1887.7L944.9 1872.5M929.7 1862.3L944.9 1872.5L960.2 1861M868.2 1919.5L868.7 1904.2M853.4 1894.1L868.7 1904.2L884.4 1893.6M1010.5 1975.9L1023.3 1962.7M1016.1 1952L1023.3 1962.7L1038.5 1958.9M753 2019.2L767.5 2007.2M760.6 1995.3L767.5 2007.2L782.7 2008.5M1019.9 2084.3L1032.7 2073.3M1028.8 2059.3L1032.7 2073.3L1050.5 2073.3M803.1 2120.9L800 2105.1M782.2 2102.1L800 2105.1L809.7 2091.9M938.1 2159.8L938.6 2144.5M923.3 2134.4L938.6 2144.5L953.8 2133.6" fill="none" stroke="#00B050" stroke-width="6.5" stroke-linejoin="round" stroke-linecap="round"/><ellipse cx="807.6" cy="1922" rx="10.8" ry="6.6" fill="#00FF66"/><ellipse cx="992" cy="1906.3" rx="10.8" ry="6.6" fill="#00FF66"/><ellipse cx="1079.7" cy="2003.4" rx="10.8" ry="6.6" fill="#00FF66"/><ellipse cx="772" cy="2053" rx="10.8" ry="7" fill="#00FF66"/><ellipse cx="1006" cy="2119.1" rx="10.8" ry="7.6" fill="#00FF66"/><ellipse cx="874.3" cy="2139.4" rx="5.1" ry="11.7" fill="#00FF66"/></g><g transform="matrix(0.4690 0 0 0.5210 3119.5 1038.8)"><path d="M1727.8 1888.1C1739.1 1889 1750.5 1892 1763.2 1896.3C1775.9 1900.6 1790.9 1907.9 1804 1914C1817.2 1920.1 1830.4 1926 1842.2 1933.1C1854 1940.1 1863.9 1948.3 1874.8 1956.2C1885.7 1964.2 1897.1 1971.6 1907.5 1980.7C1918 1989.8 1931.1 2001.6 1937.5 2010.7C1943.8 2019.8 1943.4 2025.7 1945.6 2035.2C1947.9 2044.7 1952 2057 1951.1 2067.9C1950.2 2078.8 1945.6 2087.8 1940.2 2100.5C1934.7 2113.3 1927.5 2130 1918.4 2144.1C1909.3 2158.2 1897.5 2173.2 1885.7 2185C1873.9 2196.8 1861.2 2206.8 1847.6 2214.9C1834 2223.1 1820.4 2228.8 1804 2234C1787.7 2239.2 1767.7 2243.7 1749.6 2246.2C1731.4 2248.7 1710.5 2250.1 1695.1 2249C1679.7 2247.8 1669.7 2244.2 1657 2239.4C1644.3 2234.7 1632.5 2228.5 1618.8 2220.4C1605.2 2212.2 1588.9 2200.9 1575.3 2190.4C1561.7 2180 1548.3 2167.7 1537.1 2157.7C1526 2147.7 1514.7 2140.9 1508.6 2130.5C1502.4 2120.1 1502.4 2107.4 1500.4 2095.1C1498.3 2082.8 1497.7 2068.3 1496.3 2057C1494.9 2045.6 1492 2035.2 1492.2 2027C1492.4 2018.8 1493.3 2014.3 1497.7 2008C1502 2001.6 1509.2 1997.5 1518.1 1988.9C1526.9 1980.3 1539.4 1967.1 1550.8 1956.2C1562.1 1945.3 1574.8 1931.7 1586.2 1923.5C1597.5 1915.4 1607 1912 1618.8 1907.2C1630.6 1902.4 1644.3 1897.7 1657 1894.9C1669.7 1892.2 1683.3 1892 1695.1 1890.8C1706.9 1889.7 1716.4 1887.2 1727.8 1888.1Z" fill="none" stroke="#000" stroke-width="9"/><path d="M1573.9 2057C1574.1 2052 1575 2047 1578 2043.4C1580.9 2039.7 1586.2 2037.2 1591.6 2035.2C1597.1 2033.1 1604.3 2030.9 1610.7 2031.1C1617 2031.3 1623.8 2033.6 1629.7 2036.5C1635.6 2039.5 1642 2043.6 1646.1 2048.8C1650.2 2054 1653.3 2062 1654.2 2067.9C1655.2 2073.8 1653.8 2080.1 1651.5 2084.2C1649.3 2088.3 1642.2 2088.7 1640.6 2092.4C1639 2096 1640.6 2100.5 1642 2106C1643.4 2111.4 1646.3 2120.5 1648.8 2125.1C1651.3 2129.6 1652.4 2132.8 1657 2133.2C1661.5 2133.7 1668.8 2129.8 1676 2127.8C1683.3 2125.7 1694.6 2120.5 1700.5 2121C1706.4 2121.4 1707.8 2128 1711.4 2130.5C1715.1 2133 1717.8 2135.3 1722.3 2135.9C1726.9 2136.6 1733.2 2136.4 1738.7 2134.6C1744.1 2132.8 1750.9 2128.9 1755 2125.1C1759.1 2121.2 1761.1 2117.3 1763.2 2111.4C1765.2 2105.5 1765 2095.6 1767.3 2089.7C1769.5 2083.8 1771.6 2079.7 1776.8 2076C1782 2072.4 1792.2 2069.7 1798.6 2067.9C1804.9 2066 1810.2 2063.8 1814.9 2065.1C1819.7 2066.5 1823.5 2069.2 1827.2 2076C1830.8 2082.8 1837.4 2098.7 1836.7 2106C1836 2113.3 1829 2116 1823.1 2119.6C1817.2 2123.2 1809 2125.7 1801.3 2127.8C1793.6 2129.8 1784.1 2130.7 1776.8 2131.9C1769.5 2133 1763.6 2133.5 1757.7 2134.6C1751.8 2135.7 1746.4 2136.2 1741.4 2138.7C1736.4 2141.2 1731.4 2145 1727.8 2149.6C1724.1 2154.1 1721.7 2160 1719.6 2165.9C1717.6 2171.8 1718.7 2180.2 1715.5 2185C1712.3 2189.7 1706.2 2192.5 1700.5 2194.5C1694.9 2196.5 1686.9 2198.4 1681.5 2197.2C1676 2196.1 1671.9 2192 1667.9 2187.7C1663.8 2183.4 1660.6 2176.8 1657 2171.4C1653.3 2165.9 1647.7 2159.5 1646.1 2155C1644.5 2150.5 1648.8 2148.2 1647.4 2144.1C1646.1 2140 1641.3 2135.9 1637.9 2130.5C1634.5 2125.1 1630.2 2116 1627 2111.4C1623.8 2106.9 1622.9 2105.5 1618.8 2103.3C1614.8 2101 1608 2100.5 1602.5 2097.8C1597.1 2095.1 1590.5 2091 1586.2 2086.9C1581.9 2082.8 1578.7 2078.3 1576.6 2073.3C1574.6 2068.3 1573.7 2062 1573.9 2057Z" fill="none" stroke="#000" stroke-width="8.5" stroke-linejoin="round"/><ellipse cx="1725.9" cy="1928.4" rx="8.2" ry="3.5" fill="#000" transform="rotate(30 1725.9 1928.4)"/><ellipse cx="1581.3" cy="1965.7" rx="7.5" ry="4.4" fill="#000"/><ellipse cx="1648.3" cy="2006.6" rx="7.9" ry="4.4" fill="#000"/><ellipse cx="1758.3" cy="1999" rx="8.2" ry="4.4" fill="#000"/><ellipse cx="1806.2" cy="2040.6" rx="7.9" ry="4.1" fill="#000"/><ellipse cx="1888.5" cy="2036.5" rx="4.1" ry="7.1" fill="#000"/><ellipse cx="1697.3" cy="2069.2" rx="7.9" ry="4.4" fill="#000"/><ellipse cx="1537.7" cy="2109.3" rx="7.5" ry="4.4" fill="#000"/><ellipse cx="1897.4" cy="2113.3" rx="7.9" ry="4.6" fill="#000"/><ellipse cx="1832.1" cy="2148.7" rx="7.9" ry="4.1" fill="#000"/><ellipse cx="1621" cy="2157.7" rx="7.5" ry="4.1" fill="#000"/><ellipse cx="1750.1" cy="2186.3" rx="7.9" ry="4.1" fill="#000"/></g><g transform="matrix(0.4690 0 0 0.5210 3119.5 1439.2)"><path d="M1727.8 1888.1C1739.1 1889 1750.5 1892 1763.2 1896.3C1775.9 1900.6 1790.9 1907.9 1804 1914C1817.2 1920.1 1830.4 1926 1842.2 1933.1C1854 1940.1 1863.9 1948.3 1874.8 1956.2C1885.7 1964.2 1897.1 1971.6 1907.5 1980.7C1918 1989.8 1931.1 2001.6 1937.5 2010.7C1943.8 2019.8 1943.4 2025.7 1945.6 2035.2C1947.9 2044.7 1952 2057 1951.1 2067.9C1950.2 2078.8 1945.6 2087.8 1940.2 2100.5C1934.7 2113.3 1927.5 2130 1918.4 2144.1C1909.3 2158.2 1897.5 2173.2 1885.7 2185C1873.9 2196.8 1861.2 2206.8 1847.6 2214.9C1834 2223.1 1820.4 2228.8 1804 2234C1787.7 2239.2 1767.7 2243.7 1749.6 2246.2C1731.4 2248.7 1710.5 2250.1 1695.1 2249C1679.7 2247.8 1669.7 2244.2 1657 2239.4C1644.3 2234.7 1632.5 2228.5 1618.8 2220.4C1605.2 2212.2 1588.9 2200.9 1575.3 2190.4C1561.7 2180 1548.3 2167.7 1537.1 2157.7C1526 2147.7 1514.7 2140.9 1508.6 2130.5C1502.4 2120.1 1502.4 2107.4 1500.4 2095.1C1498.3 2082.8 1497.7 2068.3 1496.3 2057C1494.9 2045.6 1492 2035.2 1492.2 2027C1492.4 2018.8 1493.3 2014.3 1497.7 2008C1502 2001.6 1509.2 1997.5 1518.1 1988.9C1526.9 1980.3 1539.4 1967.1 1550.8 1956.2C1562.1 1945.3 1574.8 1931.7 1586.2 1923.5C1597.5 1915.4 1607 1912 1618.8 1907.2C1630.6 1902.4 1644.3 1897.7 1657 1894.9C1669.7 1892.2 1683.3 1892 1695.1 1890.8C1706.9 1889.7 1716.4 1887.2 1727.8 1888.1Z" fill="#FBE5D6" stroke="#F8CBAD" stroke-width="6.5"/><path d="M1573.9 2057C1574.1 2052 1575 2047 1578 2043.4C1580.9 2039.7 1586.2 2037.2 1591.6 2035.2C1597.1 2033.1 1604.3 2030.9 1610.7 2031.1C1617 2031.3 1623.8 2033.6 1629.7 2036.5C1635.6 2039.5 1642 2043.6 1646.1 2048.8C1650.2 2054 1653.3 2062 1654.2 2067.9C1655.2 2073.8 1653.8 2080.1 1651.5 2084.2C1649.3 2088.3 1642.2 2088.7 1640.6 2092.4C1639 2096 1640.6 2100.5 1642 2106C1643.4 2111.4 1646.3 2120.5 1648.8 2125.1C1651.3 2129.6 1652.4 2132.8 1657 2133.2C1661.5 2133.7 1668.8 2129.8 1676 2127.8C1683.3 2125.7 1694.6 2120.5 1700.5 2121C1706.4 2121.4 1707.8 2128 1711.4 2130.5C1715.1 2133 1717.8 2135.3 1722.3 2135.9C1726.9 2136.6 1733.2 2136.4 1738.7 2134.6C1744.1 2132.8 1750.9 2128.9 1755 2125.1C1759.1 2121.2 1761.1 2117.3 1763.2 2111.4C1765.2 2105.5 1765 2095.6 1767.3 2089.7C1769.5 2083.8 1771.6 2079.7 1776.8 2076C1782 2072.4 1792.2 2069.7 1798.6 2067.9C1804.9 2066 1810.2 2063.8 1814.9 2065.1C1819.7 2066.5 1823.5 2069.2 1827.2 2076C1830.8 2082.8 1837.4 2098.7 1836.7 2106C1836 2113.3 1829 2116 1823.1 2119.6C1817.2 2123.2 1809 2125.7 1801.3 2127.8C1793.6 2129.8 1784.1 2130.7 1776.8 2131.9C1769.5 2133 1763.6 2133.5 1757.7 2134.6C1751.8 2135.7 1746.4 2136.2 1741.4 2138.7C1736.4 2141.2 1731.4 2145 1727.8 2149.6C1724.1 2154.1 1721.7 2160 1719.6 2165.9C1717.6 2171.8 1718.7 2180.2 1715.5 2185C1712.3 2189.7 1706.2 2192.5 1700.5 2194.5C1694.9 2196.5 1686.9 2198.4 1681.5 2197.2C1676 2196.1 1671.9 2192 1667.9 2187.7C1663.8 2183.4 1660.6 2176.8 1657 2171.4C1653.3 2165.9 1647.7 2159.5 1646.1 2155C1644.5 2150.5 1648.8 2148.2 1647.4 2144.1C1646.1 2140 1641.3 2135.9 1637.9 2130.5C1634.5 2125.1 1630.2 2116 1627 2111.4C1623.8 2106.9 1622.9 2105.5 1618.8 2103.3C1614.8 2101 1608 2100.5 1602.5 2097.8C1597.1 2095.1 1590.5 2091 1586.2 2086.9C1581.9 2082.8 1578.7 2078.3 1576.6 2073.3C1574.6 2068.3 1573.7 2062 1573.9 2057Z" fill="#F8CBAD" stroke="#F4B183" stroke-width="4.2" stroke-linejoin="round"/><ellipse cx="1725.9" cy="1928.4" rx="8.2" ry="3.5" fill="#F4B183" transform="rotate(30 1725.9 1928.4)"/><ellipse cx="1581.3" cy="1965.7" rx="7.5" ry="4.4" fill="#F4B183"/><ellipse cx="1648.3" cy="2006.6" rx="7.9" ry="4.4" fill="#F4B183"/><ellipse cx="1758.3" cy="1999" rx="8.2" ry="4.4" fill="#F4B183"/><ellipse cx="1806.2" cy="2040.6" rx="7.9" ry="4.1" fill="#F4B183"/><ellipse cx="1888.5" cy="2036.5" rx="4.1" ry="7.1" fill="#F4B183"/><ellipse cx="1697.3" cy="2069.2" rx="7.9" ry="4.4" fill="#F4B183"/><ellipse cx="1537.7" cy="2109.3" rx="7.5" ry="4.4" fill="#F4B183"/><ellipse cx="1897.4" cy="2113.3" rx="7.9" ry="4.6" fill="#F4B183"/><ellipse cx="1832.1" cy="2148.7" rx="7.9" ry="4.1" fill="#F4B183"/><ellipse cx="1621" cy="2157.7" rx="7.5" ry="4.1" fill="#F4B183"/><ellipse cx="1750.1" cy="2186.3" rx="7.9" ry="4.1" fill="#F4B183"/></g><g transform="matrix(0.4690 0 0 0.5210 3123.7 1834.6)"><path d="M1727.8 1888.1C1739.1 1889 1750.5 1892 1763.2 1896.3C1775.9 1900.6 1790.9 1907.9 1804 1914C1817.2 1920.1 1830.4 1926 1842.2 1933.1C1854 1940.1 1863.9 1948.3 1874.8 1956.2C1885.7 1964.2 1897.1 1971.6 1907.5 1980.7C1918 1989.8 1931.1 2001.6 1937.5 2010.7C1943.8 2019.8 1943.4 2025.7 1945.6 2035.2C1947.9 2044.7 1952 2057 1951.1 2067.9C1950.2 2078.8 1945.6 2087.8 1940.2 2100.5C1934.7 2113.3 1927.5 2130 1918.4 2144.1C1909.3 2158.2 1897.5 2173.2 1885.7 2185C1873.9 2196.8 1861.2 2206.8 1847.6 2214.9C1834 2223.1 1820.4 2228.8 1804 2234C1787.7 2239.2 1767.7 2243.7 1749.6 2246.2C1731.4 2248.7 1710.5 2250.1 1695.1 2249C1679.7 2247.8 1669.7 2244.2 1657 2239.4C1644.3 2234.7 1632.5 2228.5 1618.8 2220.4C1605.2 2212.2 1588.9 2200.9 1575.3 2190.4C1561.7 2180 1548.3 2167.7 1537.1 2157.7C1526 2147.7 1514.7 2140.9 1508.6 2130.5C1502.4 2120.1 1502.4 2107.4 1500.4 2095.1C1498.3 2082.8 1497.7 2068.3 1496.3 2057C1494.9 2045.6 1492 2035.2 1492.2 2027C1492.4 2018.8 1493.3 2014.3 1497.7 2008C1502 2001.6 1509.2 1997.5 1518.1 1988.9C1526.9 1980.3 1539.4 1967.1 1550.8 1956.2C1562.1 1945.3 1574.8 1931.7 1586.2 1923.5C1597.5 1915.4 1607 1912 1618.8 1907.2C1630.6 1902.4 1644.3 1897.7 1657 1894.9C1669.7 1892.2 1683.3 1892 1695.1 1890.8C1706.9 1889.7 1716.4 1887.2 1727.8 1888.1Z" fill="#F4B183" stroke="#C55A11" stroke-width="5.8"/><path d="M1573.9 2057C1574.1 2052 1575 2047 1578 2043.4C1580.9 2039.7 1586.2 2037.2 1591.6 2035.2C1597.1 2033.1 1604.3 2030.9 1610.7 2031.1C1617 2031.3 1623.8 2033.6 1629.7 2036.5C1635.6 2039.5 1642 2043.6 1646.1 2048.8C1650.2 2054 1653.3 2062 1654.2 2067.9C1655.2 2073.8 1653.8 2080.1 1651.5 2084.2C1649.3 2088.3 1642.2 2088.7 1640.6 2092.4C1639 2096 1640.6 2100.5 1642 2106C1643.4 2111.4 1646.3 2120.5 1648.8 2125.1C1651.3 2129.6 1652.4 2132.8 1657 2133.2C1661.5 2133.7 1668.8 2129.8 1676 2127.8C1683.3 2125.7 1694.6 2120.5 1700.5 2121C1706.4 2121.4 1707.8 2128 1711.4 2130.5C1715.1 2133 1717.8 2135.3 1722.3 2135.9C1726.9 2136.6 1733.2 2136.4 1738.7 2134.6C1744.1 2132.8 1750.9 2128.9 1755 2125.1C1759.1 2121.2 1761.1 2117.3 1763.2 2111.4C1765.2 2105.5 1765 2095.6 1767.3 2089.7C1769.5 2083.8 1771.6 2079.7 1776.8 2076C1782 2072.4 1792.2 2069.7 1798.6 2067.9C1804.9 2066 1810.2 2063.8 1814.9 2065.1C1819.7 2066.5 1823.5 2069.2 1827.2 2076C1830.8 2082.8 1837.4 2098.7 1836.7 2106C1836 2113.3 1829 2116 1823.1 2119.6C1817.2 2123.2 1809 2125.7 1801.3 2127.8C1793.6 2129.8 1784.1 2130.7 1776.8 2131.9C1769.5 2133 1763.6 2133.5 1757.7 2134.6C1751.8 2135.7 1746.4 2136.2 1741.4 2138.7C1736.4 2141.2 1731.4 2145 1727.8 2149.6C1724.1 2154.1 1721.7 2160 1719.6 2165.9C1717.6 2171.8 1718.7 2180.2 1715.5 2185C1712.3 2189.7 1706.2 2192.5 1700.5 2194.5C1694.9 2196.5 1686.9 2198.4 1681.5 2197.2C1676 2196.1 1671.9 2192 1667.9 2187.7C1663.8 2183.4 1660.6 2176.8 1657 2171.4C1653.3 2165.9 1647.7 2159.5 1646.1 2155C1644.5 2150.5 1648.8 2148.2 1647.4 2144.1C1646.1 2140 1641.3 2135.9 1637.9 2130.5C1634.5 2125.1 1630.2 2116 1627 2111.4C1623.8 2106.9 1622.9 2105.5 1618.8 2103.3C1614.8 2101 1608 2100.5 1602.5 2097.8C1597.1 2095.1 1590.5 2091 1586.2 2086.9C1581.9 2082.8 1578.7 2078.3 1576.6 2073.3C1574.6 2068.3 1573.7 2062 1573.9 2057Z" fill="#C55A11" stroke="#843C0C" stroke-width="4.8" stroke-linejoin="round"/><ellipse cx="1725.9" cy="1928.4" rx="8.2" ry="3.5" fill="#FF0000" transform="rotate(30 1725.9 1928.4)"/><ellipse cx="1581.3" cy="1965.7" rx="7.5" ry="4.4" fill="#FF0000"/><ellipse cx="1648.3" cy="2006.6" rx="7.9" ry="4.4" fill="#FF0000"/><ellipse cx="1758.3" cy="1999" rx="8.2" ry="4.4" fill="#FF0000"/><ellipse cx="1806.2" cy="2040.6" rx="7.9" ry="4.1" fill="#FF0000"/><ellipse cx="1888.5" cy="2036.5" rx="4.1" ry="7.1" fill="#FF0000"/><ellipse cx="1697.3" cy="2069.2" rx="7.9" ry="4.4" fill="#FF0000"/><ellipse cx="1537.7" cy="2109.3" rx="7.5" ry="4.4" fill="#FF0000"/><ellipse cx="1897.4" cy="2113.3" rx="7.9" ry="4.6" fill="#FF0000"/><ellipse cx="1832.1" cy="2148.7" rx="7.9" ry="4.1" fill="#FF0000"/><ellipse cx="1621" cy="2157.7" rx="7.5" ry="4.1" fill="#FF0000"/><ellipse cx="1750.1" cy="2186.3" rx="7.9" ry="4.1" fill="#FF0000"/></g><text x="3209" y="3150.5" font-size="83.8" fill="#000" text-anchor="start">Cell type</text><text font-size="83.5" transform="translate(4247 2537) rotate(-90)">Cell cycle</text></g>
<g id="frame"><path d="M2253 0.3L2250.4 1455" stroke="#548235" stroke-width="12.8" stroke-dasharray="53.6 40.6" fill="none"/><path d="M2213.7 1795.8V3151.3" stroke="#548235" stroke-width="12.8" stroke-dasharray="53.4 40.9" fill="none"/><path d="M125 1614.6H1700" stroke="#548235" stroke-width="12.8" stroke-dasharray="54 40.2" fill="none"/><path d="M2727.6 1644H4350" stroke="#548235" stroke-width="13.2" stroke-dasharray="54 40.2" fill="none"/><rect x="1670.2" y="1453" width="550.6" height="167.9" fill="#548235"/><rect x="2240.4" y="1451.8" width="757.6" height="166.5" fill="#548235"/><rect x="1525.3" y="1640.2" width="695.7" height="168.2" fill="#548235"/><rect x="2245.2" y="1640.5" width="520.6" height="167.6" fill="#548235"/><text x="1724.8" y="1582.3" font-size="117.5" fill="#fff" text-anchor="start">Principle</text><text x="2297.5" y="1569.8" font-size="117.4" fill="#fff" text-anchor="start">Combination</text><text x="1589.3" y="1761.8" font-size="116.8" fill="#fff" text-anchor="start">Application</text><text x="2310.7" y="1761.6" font-size="117.1" fill="#fff" text-anchor="start">Results</text></g>
</svg></body></html>
